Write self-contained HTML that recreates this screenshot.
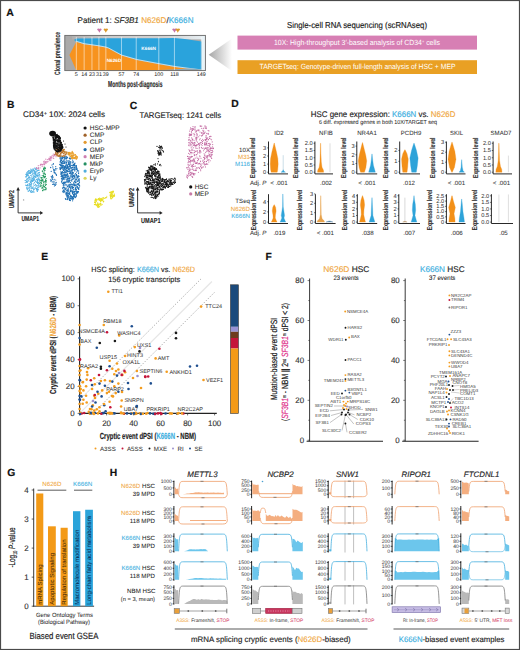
<!DOCTYPE html>
<html><head><meta charset="utf-8"><style>
html,body{margin:0;padding:0;background:#fff;}
svg{display:block;font-family:"Liberation Sans",sans-serif;text-rendering:geometricPrecision;}
</style></head><body>
<svg width="520" height="650" viewBox="0 0 520 650">
<rect x="0" y="0" width="520" height="650" fill="#fff"/>
<text x="6.3" y="15.8" font-size="10.5" fill="#111" font-weight="bold" stroke="#111" stroke-width="0.180">A</text>
<text x="77.5" y="22.8" font-size="8.25" fill="#231f20" textLength="116" lengthAdjust="spacingAndGlyphs" stroke="#231f20" stroke-width="0.146">Patient 1: <tspan font-style="italic">SF3B1</tspan> <tspan fill="#f0a63c" stroke="#f0a63c" stroke-width="0.146">N626D</tspan>/<tspan fill="#3aaee0" stroke="#3aaee0" stroke-width="0.146">K666N</tspan></text>
<path d="M97.4,29.099999999999998 L101.4,29.099999999999998 L99.4,32.7 Z" fill="#c774a8" stroke="none" stroke-width="0.7"/>
<circle cx="98.40" cy="29.50" r="1.1" fill="#c774a8"/>
<circle cx="100.40" cy="29.50" r="1.1" fill="#c774a8"/>
<path d="M103.8,29.099999999999998 L107.8,29.099999999999998 L105.8,32.7 Z" fill="#dc9a2a" stroke="none" stroke-width="0.7"/>
<circle cx="104.80" cy="29.50" r="1.1" fill="#dc9a2a"/>
<circle cx="106.80" cy="29.50" r="1.1" fill="#dc9a2a"/>
<path d="M172.5,29.099999999999998 L176.5,29.099999999999998 L174.5,32.7 Z" fill="#c774a8" stroke="none" stroke-width="0.7"/>
<circle cx="173.50" cy="29.50" r="1.1" fill="#c774a8"/>
<circle cx="175.50" cy="29.50" r="1.1" fill="#c774a8"/>
<path d="M175.8,29.099999999999998 L179.8,29.099999999999998 L177.8,32.7 Z" fill="#dc9a2a" stroke="none" stroke-width="0.7"/>
<circle cx="176.80" cy="29.50" r="1.1" fill="#dc9a2a"/>
<circle cx="178.80" cy="29.50" r="1.1" fill="#dc9a2a"/>
<rect x="64.8" y="35.4" width="140.60000000000002" height="35.199999999999996" fill="#a9a9a9"/>
<rect x="201.5" y="35.4" width="3.9000000000000057" height="35.199999999999996" fill="#e9f3f7"/>
<defs><linearGradient id="topg" x1="0" x2="1" y1="0" y2="0"><stop offset="0" stop-color="#b0b0b0"/><stop offset="0.3" stop-color="#cccccc"/><stop offset="0.7" stop-color="#d0d0d0"/><stop offset="1" stop-color="#e6eef2"/></linearGradient></defs>
<rect x="72" y="35.4" width="130" height="4" fill="url(#topg)"/>
<path d="M74.5,39.5 L76.34,38.4 L105.852,38.3 L158.8,38.3 L174.42399999999998,38.0 L184.84,39.0 L201.6,41.5 L201.6,70.6 L201.6,70.4 L190.0,69.0 L175.0,67.0 L159.2,64.2 L136.8,60.0 L121.6,55.6 L108.7,48.6 L105.9,47.6 L98.9,46.3 L92.0,45.3 L84.2,44.2 L76.3,41.8 L74.5,40.5 Z" fill="#2aa3dc" stroke="none" stroke-width="0.7"/>
<path d="M69.4,55.0 L76.3,41.8 L84.2,44.2 L92.0,45.3 L98.9,46.3 L105.9,47.6 L108.7,48.6 L121.6,55.6 L136.8,60.0 L159.2,64.2 L175.0,67.0 L190.0,69.0 L201.6,70.4 L76.34,70.5 Z" fill="#f7931e" stroke="none" stroke-width="0.7"/>
<path d="M76.3,41.3 L84.2,43.7 L92.0,44.8 L98.9,45.8 L105.9,47.1 L108.7,48.1 L121.6,55.1 L136.8,59.5 L159.2,63.7 L175.0,66.5 L190.0,68.5 L201.6,69.9" fill="none" stroke="#e8eef0" stroke-width="0.8"/>
<path d="M150,70.6 L190,68.6 L201.6,69.5 L201.6,70.6 Z" fill="#8fa6b2" stroke="none" stroke-width="0.7"/>
<line x1="76.34" y1="36.9" x2="76.34" y2="70.6" stroke="#ffffff" stroke-width="0.7" stroke-opacity="0.75"/>
<line x1="84.152" y1="36.9" x2="84.152" y2="70.6" stroke="#ffffff" stroke-width="0.7" stroke-opacity="0.75"/>
<line x1="91.964" y1="36.9" x2="91.964" y2="70.6" stroke="#ffffff" stroke-width="0.7" stroke-opacity="0.75"/>
<line x1="98.908" y1="36.9" x2="98.908" y2="70.6" stroke="#ffffff" stroke-width="0.7" stroke-opacity="0.75"/>
<line x1="105.852" y1="36.9" x2="105.852" y2="70.6" stroke="#ffffff" stroke-width="0.7" stroke-opacity="0.75"/>
<line x1="121.476" y1="36.9" x2="121.476" y2="70.6" stroke="#ffffff" stroke-width="0.7" stroke-opacity="0.75"/>
<line x1="136.232" y1="36.9" x2="136.232" y2="70.6" stroke="#ffffff" stroke-width="0.7" stroke-opacity="0.75"/>
<line x1="158.8" y1="36.9" x2="158.8" y2="70.6" stroke="#ffffff" stroke-width="0.7" stroke-opacity="0.75"/>
<line x1="174.42399999999998" y1="36.9" x2="174.42399999999998" y2="70.6" stroke="#ffffff" stroke-width="0.7" stroke-opacity="0.75"/>
<line x1="201.332" y1="36.9" x2="201.332" y2="70.6" stroke="#ffffff" stroke-width="0.7" stroke-opacity="0.75"/>
<rect x="64.8" y="35.4" width="140.60000000000002" height="35.199999999999996" fill="none" stroke="#6a6a6a" stroke-width="0.9"/>
<text x="148.7" y="50.4" font-size="4.73" fill="#fff" text-anchor="middle" font-weight="bold">K666N</text>
<text x="114" y="62.0" font-size="4.73" fill="#fff" text-anchor="middle" font-weight="bold">N626D</text>
<text x="59.9" y="53.4" font-size="7.70" fill="#2a2a2a" text-anchor="middle" font-weight="bold" textLength="43" lengthAdjust="spacingAndGlyphs" transform="rotate(-90 59.9 53.4)" stroke="#2a2a2a" stroke-width="0.121">Clonal prevalence</text>
<text x="76.34" y="76.0" font-size="5.39" fill="#222" text-anchor="middle" stroke="#222" stroke-width="0.018">5</text>
<text x="84.152" y="76.0" font-size="5.39" fill="#222" text-anchor="middle" stroke="#222" stroke-width="0.018">14</text>
<text x="91.964" y="76.0" font-size="5.39" fill="#222" text-anchor="middle" stroke="#222" stroke-width="0.018">23</text>
<text x="98.908" y="76.0" font-size="5.39" fill="#222" text-anchor="middle" stroke="#222" stroke-width="0.018">31</text>
<text x="105.852" y="76.0" font-size="5.39" fill="#222" text-anchor="middle" stroke="#222" stroke-width="0.018">39</text>
<text x="121.476" y="76.0" font-size="5.39" fill="#222" text-anchor="middle" stroke="#222" stroke-width="0.018">57</text>
<text x="136.232" y="76.0" font-size="5.39" fill="#222" text-anchor="middle" stroke="#222" stroke-width="0.018">74</text>
<text x="158.8" y="76.0" font-size="5.39" fill="#222" text-anchor="middle" stroke="#222" stroke-width="0.018">100</text>
<text x="174.42399999999998" y="76.0" font-size="5.39" fill="#222" text-anchor="middle" stroke="#222" stroke-width="0.018">118</text>
<text x="201.332" y="76.0" font-size="5.39" fill="#222" text-anchor="middle" stroke="#222" stroke-width="0.018">149</text>
<text x="108.0" y="87.4" font-size="8.58" fill="#2a2a2a" font-weight="bold" textLength="54.5" lengthAdjust="spacingAndGlyphs" stroke="#2a2a2a" stroke-width="0.161">Months post-diagnosis</text>
<defs><linearGradient id="trig" x1="0" x2="1" y1="0" y2="0"><stop offset="0" stop-color="#a6a6a6"/><stop offset="1" stop-color="#ffffff"/></linearGradient></defs>
<path d="M208.7,54.8 L232,38.5 L232,71 Z" fill="url(#trig)" stroke="none" stroke-width="0.7"/>
<rect x="237.5" y="35.6" width="239.5" height="14" fill="#d77fb4"/>
<rect x="237.5" y="60.2" width="239.5" height="13.8" fill="#e9a024"/>
<text x="357" y="27.6" font-size="8.58" fill="#222" text-anchor="middle" textLength="140" lengthAdjust="spacingAndGlyphs" stroke="#222" stroke-width="0.161">Single-cell RNA sequencing (scRNAseq)</text>
<text x="357" y="45.3" font-size="7.48" fill="#fff" text-anchor="middle" textLength="166" lengthAdjust="spacingAndGlyphs">10X: High-throughput 3′-based analysis of CD34<tspan font-size="4.40" dy="-2">+</tspan><tspan dy="2"> cells</tspan></text>
<text x="357.5" y="69.3" font-size="7.48" fill="#fff" text-anchor="middle" textLength="196" lengthAdjust="spacingAndGlyphs">TARGETseq: Genotype-driven full-length analysis of HSC + MEP</text>
<text x="6.9" y="107.7" font-size="10.3" fill="#111" font-weight="bold" stroke="#111" stroke-width="0.180">B</text>
<text x="23" y="117.4" font-size="8.14" fill="#222" textLength="82" lengthAdjust="spacingAndGlyphs" stroke="#222" stroke-width="0.141">CD34<tspan font-size="4.95" dy="-2.5">+</tspan><tspan dy="2.5"> 10X: 2024 cells</tspan></text>
<circle cx="85.10" cy="128.00" r="1.6" fill="#111"/>
<text x="89.8" y="130.1" font-size="6.49" fill="#2a2a2a" stroke="#2a2a2a" stroke-width="0.067">HSC-MPP</text>
<circle cx="85.10" cy="135.18" r="1.6" fill="#a0622a"/>
<text x="89.8" y="137.28" font-size="6.49" fill="#2a2a2a" stroke="#2a2a2a" stroke-width="0.067">CMP</text>
<circle cx="85.10" cy="142.36" r="1.6" fill="#e39a2e"/>
<text x="89.8" y="144.46" font-size="6.49" fill="#2a2a2a" stroke="#2a2a2a" stroke-width="0.067">CLP</text>
<circle cx="85.10" cy="149.54" r="1.6" fill="#1f6aa8"/>
<text x="89.8" y="151.64" font-size="6.49" fill="#2a2a2a" stroke="#2a2a2a" stroke-width="0.067">GMP</text>
<circle cx="85.10" cy="156.72" r="1.6" fill="#cf80b2"/>
<text x="89.8" y="158.82" font-size="6.49" fill="#2a2a2a" stroke="#2a2a2a" stroke-width="0.067">MEP</text>
<circle cx="85.10" cy="163.90" r="1.6" fill="#249062"/>
<text x="89.8" y="166.0" font-size="6.49" fill="#2a2a2a" stroke="#2a2a2a" stroke-width="0.067">MkP</text>
<circle cx="85.10" cy="171.08" r="1.6" fill="#52aedc"/>
<text x="89.8" y="173.17999999999998" font-size="6.49" fill="#2a2a2a" stroke="#2a2a2a" stroke-width="0.067">EryP</text>
<circle cx="85.10" cy="178.26" r="1.6" fill="#ddd65a"/>
<text x="89.8" y="180.35999999999999" font-size="6.49" fill="#2a2a2a" stroke="#2a2a2a" stroke-width="0.067">Ly</text>
<g fill="#1f70b4" fill-opacity="1.0"><circle cx="66.1" cy="162.9" r="0.65"/><circle cx="70.5" cy="172.6" r="0.65"/><circle cx="60.9" cy="160.1" r="0.65"/><circle cx="68.2" cy="193.6" r="0.65"/><circle cx="62.0" cy="166.2" r="0.65"/><circle cx="72.4" cy="199.1" r="0.65"/><circle cx="71.3" cy="174.0" r="0.65"/><circle cx="77.1" cy="169.2" r="0.65"/><circle cx="62.5" cy="161.4" r="0.65"/><circle cx="65.8" cy="193.1" r="0.65"/><circle cx="63.2" cy="182.5" r="0.65"/><circle cx="72.6" cy="172.9" r="0.65"/><circle cx="70.7" cy="158.9" r="0.65"/><circle cx="60.7" cy="165.4" r="0.65"/><circle cx="73.4" cy="175.5" r="0.65"/><circle cx="65.9" cy="182.6" r="0.65"/><circle cx="68.8" cy="169.6" r="0.65"/><circle cx="75.8" cy="187.8" r="0.65"/><circle cx="64.5" cy="182.1" r="0.65"/><circle cx="70.3" cy="195.8" r="0.65"/><circle cx="74.5" cy="169.1" r="0.65"/><circle cx="68.1" cy="190.4" r="0.65"/><circle cx="62.6" cy="178.2" r="0.65"/><circle cx="75.2" cy="182.1" r="0.65"/><circle cx="77.4" cy="170.3" r="0.65"/><circle cx="73.8" cy="183.0" r="0.65"/><circle cx="71.4" cy="176.8" r="0.65"/><circle cx="69.2" cy="186.2" r="0.65"/><circle cx="76.3" cy="168.9" r="0.65"/><circle cx="67.4" cy="186.4" r="0.65"/><circle cx="62.9" cy="161.3" r="0.65"/><circle cx="62.2" cy="167.3" r="0.65"/><circle cx="67.5" cy="195.6" r="0.65"/><circle cx="61.2" cy="176.4" r="0.65"/><circle cx="70.8" cy="196.2" r="0.65"/><circle cx="76.3" cy="195.3" r="0.65"/><circle cx="65.2" cy="174.9" r="0.65"/><circle cx="66.9" cy="196.2" r="0.65"/><circle cx="63.1" cy="166.6" r="0.65"/><circle cx="64.3" cy="178.1" r="0.65"/><circle cx="71.6" cy="168.0" r="0.65"/><circle cx="67.1" cy="181.8" r="0.65"/><circle cx="79.0" cy="187.4" r="0.65"/><circle cx="70.1" cy="184.1" r="0.65"/><circle cx="77.9" cy="191.5" r="0.65"/><circle cx="77.4" cy="192.3" r="0.65"/><circle cx="67.5" cy="174.2" r="0.65"/><circle cx="60.8" cy="159.1" r="0.65"/><circle cx="63.8" cy="163.4" r="0.65"/><circle cx="66.5" cy="158.4" r="0.65"/><circle cx="61.6" cy="172.5" r="0.65"/><circle cx="72.1" cy="162.8" r="0.65"/><circle cx="64.7" cy="171.8" r="0.65"/><circle cx="67.0" cy="161.6" r="0.65"/><circle cx="69.1" cy="178.0" r="0.65"/><circle cx="61.3" cy="160.6" r="0.65"/><circle cx="66.5" cy="168.0" r="0.65"/><circle cx="70.3" cy="162.7" r="0.65"/><circle cx="70.3" cy="200.5" r="0.65"/><circle cx="77.2" cy="187.7" r="0.65"/><circle cx="64.9" cy="172.7" r="0.65"/><circle cx="62.9" cy="191.1" r="0.65"/><circle cx="70.4" cy="191.4" r="0.65"/><circle cx="66.3" cy="166.1" r="0.65"/><circle cx="77.0" cy="192.7" r="0.65"/><circle cx="76.3" cy="189.7" r="0.65"/><circle cx="64.1" cy="179.6" r="0.65"/><circle cx="66.8" cy="157.3" r="0.65"/><circle cx="60.1" cy="168.7" r="0.65"/><circle cx="64.8" cy="187.5" r="0.65"/><circle cx="79.1" cy="176.3" r="0.65"/><circle cx="64.0" cy="166.3" r="0.65"/><circle cx="63.5" cy="165.3" r="0.65"/><circle cx="72.3" cy="197.0" r="0.65"/><circle cx="76.7" cy="177.8" r="0.65"/><circle cx="72.9" cy="192.4" r="0.65"/><circle cx="78.2" cy="191.6" r="0.65"/><circle cx="74.9" cy="177.8" r="0.65"/><circle cx="63.2" cy="191.9" r="0.65"/><circle cx="66.3" cy="192.4" r="0.65"/><circle cx="67.7" cy="199.1" r="0.65"/><circle cx="74.4" cy="163.7" r="0.65"/><circle cx="62.1" cy="162.9" r="0.65"/><circle cx="79.6" cy="185.9" r="0.65"/><circle cx="66.7" cy="181.0" r="0.65"/><circle cx="62.2" cy="156.6" r="0.65"/><circle cx="79.4" cy="185.6" r="0.65"/><circle cx="70.3" cy="198.5" r="0.65"/><circle cx="68.4" cy="195.7" r="0.65"/><circle cx="76.4" cy="165.6" r="0.65"/><circle cx="64.7" cy="169.3" r="0.65"/><circle cx="64.4" cy="182.7" r="0.65"/><circle cx="64.8" cy="175.1" r="0.65"/><circle cx="66.8" cy="176.8" r="0.65"/><circle cx="71.5" cy="197.1" r="0.65"/><circle cx="68.1" cy="197.8" r="0.65"/><circle cx="69.8" cy="180.2" r="0.65"/><circle cx="68.5" cy="164.3" r="0.65"/><circle cx="63.0" cy="177.5" r="0.65"/><circle cx="74.4" cy="181.3" r="0.65"/><circle cx="66.2" cy="179.6" r="0.65"/><circle cx="70.9" cy="191.7" r="0.65"/><circle cx="61.7" cy="181.5" r="0.65"/><circle cx="64.6" cy="168.6" r="0.65"/><circle cx="75.3" cy="179.1" r="0.65"/><circle cx="71.0" cy="190.6" r="0.65"/><circle cx="78.2" cy="176.2" r="0.65"/><circle cx="72.1" cy="179.0" r="0.65"/><circle cx="70.0" cy="187.5" r="0.65"/><circle cx="68.8" cy="180.3" r="0.65"/><circle cx="69.3" cy="198.8" r="0.65"/><circle cx="73.8" cy="195.9" r="0.65"/><circle cx="71.0" cy="198.9" r="0.65"/><circle cx="62.0" cy="176.1" r="0.65"/><circle cx="61.0" cy="166.9" r="0.65"/><circle cx="75.6" cy="196.8" r="0.65"/><circle cx="62.7" cy="188.6" r="0.65"/><circle cx="73.0" cy="162.5" r="0.65"/><circle cx="67.7" cy="178.2" r="0.65"/><circle cx="62.8" cy="175.6" r="0.65"/><circle cx="70.1" cy="171.4" r="0.65"/><circle cx="63.5" cy="170.5" r="0.65"/><circle cx="70.9" cy="176.0" r="0.65"/><circle cx="72.3" cy="179.3" r="0.65"/><circle cx="61.6" cy="168.1" r="0.65"/><circle cx="65.0" cy="161.9" r="0.65"/><circle cx="68.2" cy="197.5" r="0.65"/><circle cx="76.3" cy="167.8" r="0.65"/><circle cx="71.2" cy="187.9" r="0.65"/><circle cx="61.3" cy="158.6" r="0.65"/><circle cx="73.6" cy="175.4" r="0.65"/><circle cx="72.5" cy="192.5" r="0.65"/><circle cx="68.8" cy="171.4" r="0.65"/><circle cx="70.8" cy="198.2" r="0.65"/><circle cx="65.0" cy="161.9" r="0.65"/><circle cx="70.3" cy="166.8" r="0.65"/><circle cx="61.7" cy="163.3" r="0.65"/><circle cx="60.5" cy="165.2" r="0.65"/><circle cx="65.9" cy="169.9" r="0.65"/><circle cx="75.1" cy="169.2" r="0.65"/><circle cx="69.8" cy="164.1" r="0.65"/><circle cx="66.6" cy="156.8" r="0.65"/><circle cx="64.6" cy="156.7" r="0.65"/><circle cx="74.5" cy="181.1" r="0.65"/><circle cx="63.4" cy="177.6" r="0.65"/><circle cx="76.3" cy="175.7" r="0.65"/><circle cx="69.6" cy="194.0" r="0.65"/><circle cx="67.6" cy="179.1" r="0.65"/><circle cx="66.5" cy="193.9" r="0.65"/><circle cx="74.0" cy="184.9" r="0.65"/><circle cx="67.8" cy="171.8" r="0.65"/><circle cx="60.6" cy="161.9" r="0.65"/><circle cx="64.7" cy="163.4" r="0.65"/><circle cx="77.3" cy="186.5" r="0.65"/><circle cx="65.3" cy="167.0" r="0.65"/><circle cx="65.5" cy="176.9" r="0.65"/><circle cx="62.7" cy="176.3" r="0.65"/><circle cx="79.4" cy="180.9" r="0.65"/><circle cx="65.8" cy="172.2" r="0.65"/><circle cx="69.2" cy="178.9" r="0.65"/><circle cx="63.6" cy="179.0" r="0.65"/><circle cx="61.3" cy="174.2" r="0.65"/><circle cx="60.4" cy="157.0" r="0.65"/><circle cx="65.7" cy="166.6" r="0.65"/><circle cx="71.5" cy="180.1" r="0.65"/><circle cx="74.9" cy="185.9" r="0.65"/><circle cx="74.2" cy="196.0" r="0.65"/><circle cx="67.5" cy="170.8" r="0.65"/><circle cx="74.3" cy="185.3" r="0.65"/><circle cx="77.8" cy="184.5" r="0.65"/><circle cx="74.5" cy="193.0" r="0.65"/><circle cx="62.4" cy="179.8" r="0.65"/><circle cx="69.8" cy="194.0" r="0.65"/><circle cx="76.0" cy="193.6" r="0.65"/><circle cx="71.5" cy="196.6" r="0.65"/><circle cx="73.5" cy="187.5" r="0.65"/><circle cx="64.2" cy="157.4" r="0.65"/><circle cx="62.2" cy="172.4" r="0.65"/><circle cx="70.9" cy="184.6" r="0.65"/><circle cx="72.3" cy="187.0" r="0.65"/><circle cx="75.9" cy="190.0" r="0.65"/><circle cx="69.8" cy="180.4" r="0.65"/><circle cx="74.6" cy="167.5" r="0.65"/><circle cx="61.0" cy="168.1" r="0.65"/><circle cx="74.5" cy="165.3" r="0.65"/><circle cx="69.6" cy="173.4" r="0.65"/><circle cx="69.3" cy="187.1" r="0.65"/><circle cx="75.2" cy="184.1" r="0.65"/><circle cx="62.5" cy="167.6" r="0.65"/><circle cx="74.7" cy="169.9" r="0.65"/><circle cx="60.7" cy="168.2" r="0.65"/><circle cx="73.3" cy="187.5" r="0.65"/><circle cx="73.4" cy="169.2" r="0.65"/><circle cx="70.1" cy="177.1" r="0.65"/><circle cx="69.1" cy="161.4" r="0.65"/><circle cx="68.7" cy="168.2" r="0.65"/><circle cx="63.8" cy="182.5" r="0.65"/><circle cx="62.4" cy="179.8" r="0.65"/><circle cx="76.3" cy="179.1" r="0.65"/><circle cx="77.7" cy="188.0" r="0.65"/><circle cx="68.7" cy="169.7" r="0.65"/><circle cx="62.4" cy="171.7" r="0.65"/><circle cx="66.0" cy="194.2" r="0.65"/><circle cx="78.5" cy="188.4" r="0.65"/><circle cx="67.1" cy="173.9" r="0.65"/><circle cx="66.9" cy="175.5" r="0.65"/><circle cx="65.1" cy="158.2" r="0.65"/><circle cx="65.4" cy="198.6" r="0.65"/><circle cx="64.6" cy="168.1" r="0.65"/><circle cx="70.0" cy="164.6" r="0.65"/><circle cx="67.2" cy="199.5" r="0.65"/><circle cx="77.6" cy="192.9" r="0.65"/><circle cx="72.4" cy="197.6" r="0.65"/><circle cx="78.8" cy="181.0" r="0.65"/><circle cx="74.5" cy="176.5" r="0.65"/><circle cx="74.9" cy="185.3" r="0.65"/><circle cx="65.4" cy="158.2" r="0.65"/><circle cx="69.2" cy="171.6" r="0.65"/><circle cx="65.6" cy="189.6" r="0.65"/><circle cx="72.9" cy="169.7" r="0.65"/><circle cx="70.9" cy="173.9" r="0.65"/><circle cx="62.9" cy="163.4" r="0.65"/><circle cx="69.7" cy="166.0" r="0.65"/><circle cx="68.7" cy="162.4" r="0.65"/><circle cx="63.4" cy="160.1" r="0.65"/><circle cx="66.5" cy="160.1" r="0.65"/><circle cx="64.4" cy="167.8" r="0.65"/><circle cx="71.2" cy="196.4" r="0.65"/><circle cx="74.9" cy="174.8" r="0.65"/><circle cx="68.0" cy="179.8" r="0.65"/><circle cx="67.2" cy="171.4" r="0.65"/><circle cx="60.8" cy="168.6" r="0.65"/><circle cx="69.8" cy="184.6" r="0.65"/><circle cx="65.1" cy="167.3" r="0.65"/><circle cx="67.7" cy="176.3" r="0.65"/><circle cx="77.9" cy="177.5" r="0.65"/><circle cx="67.5" cy="198.2" r="0.65"/><circle cx="76.4" cy="194.9" r="0.65"/><circle cx="61.7" cy="163.0" r="0.65"/><circle cx="70.2" cy="187.0" r="0.65"/><circle cx="78.8" cy="188.8" r="0.65"/><circle cx="72.8" cy="190.8" r="0.65"/><circle cx="68.9" cy="181.1" r="0.65"/><circle cx="72.7" cy="169.8" r="0.65"/><circle cx="62.1" cy="167.5" r="0.65"/><circle cx="72.5" cy="187.8" r="0.65"/><circle cx="61.8" cy="159.2" r="0.65"/><circle cx="70.3" cy="182.5" r="0.65"/><circle cx="67.5" cy="166.2" r="0.65"/><circle cx="65.7" cy="177.0" r="0.65"/><circle cx="79.2" cy="185.3" r="0.65"/><circle cx="77.6" cy="177.6" r="0.65"/><circle cx="64.3" cy="167.2" r="0.65"/><circle cx="65.8" cy="157.0" r="0.65"/><circle cx="69.7" cy="186.7" r="0.65"/><circle cx="68.1" cy="167.7" r="0.65"/><circle cx="73.2" cy="198.1" r="0.65"/><circle cx="64.1" cy="157.6" r="0.65"/><circle cx="66.4" cy="175.1" r="0.65"/><circle cx="73.5" cy="165.0" r="0.65"/><circle cx="75.8" cy="189.6" r="0.65"/><circle cx="69.9" cy="165.3" r="0.65"/><circle cx="76.3" cy="166.5" r="0.65"/><circle cx="64.0" cy="190.6" r="0.65"/><circle cx="69.7" cy="164.5" r="0.65"/><circle cx="64.1" cy="175.0" r="0.65"/><circle cx="73.1" cy="199.2" r="0.65"/><circle cx="62.5" cy="173.9" r="0.65"/><circle cx="62.4" cy="158.4" r="0.65"/><circle cx="60.7" cy="173.9" r="0.65"/><circle cx="78.6" cy="171.0" r="0.65"/><circle cx="73.1" cy="173.2" r="0.65"/><circle cx="67.2" cy="171.1" r="0.65"/><circle cx="65.2" cy="172.0" r="0.65"/><circle cx="66.8" cy="193.4" r="0.65"/><circle cx="76.4" cy="175.7" r="0.65"/><circle cx="67.1" cy="197.8" r="0.65"/><circle cx="63.5" cy="172.6" r="0.65"/><circle cx="67.9" cy="192.9" r="0.65"/><circle cx="60.2" cy="158.8" r="0.65"/><circle cx="74.8" cy="196.9" r="0.65"/><circle cx="66.5" cy="168.4" r="0.65"/><circle cx="79.1" cy="184.1" r="0.65"/><circle cx="64.9" cy="188.6" r="0.65"/><circle cx="66.0" cy="168.5" r="0.65"/><circle cx="78.3" cy="184.8" r="0.65"/><circle cx="64.3" cy="177.6" r="0.65"/><circle cx="67.4" cy="167.4" r="0.65"/><circle cx="68.3" cy="178.5" r="0.65"/><circle cx="76.0" cy="189.6" r="0.65"/><circle cx="76.4" cy="191.2" r="0.65"/><circle cx="71.9" cy="170.9" r="0.65"/><circle cx="66.1" cy="172.5" r="0.65"/><circle cx="63.5" cy="190.3" r="0.65"/><circle cx="64.6" cy="158.9" r="0.65"/><circle cx="64.9" cy="159.8" r="0.65"/><circle cx="61.5" cy="178.7" r="0.65"/><circle cx="74.1" cy="176.3" r="0.65"/><circle cx="64.3" cy="175.0" r="0.65"/><circle cx="72.2" cy="186.7" r="0.65"/><circle cx="74.8" cy="194.5" r="0.65"/><circle cx="73.1" cy="161.5" r="0.65"/><circle cx="76.7" cy="169.4" r="0.65"/><circle cx="71.1" cy="173.0" r="0.65"/><circle cx="74.6" cy="165.1" r="0.65"/><circle cx="64.6" cy="167.2" r="0.65"/><circle cx="71.4" cy="170.8" r="0.65"/><circle cx="69.9" cy="166.5" r="0.65"/><circle cx="76.1" cy="185.7" r="0.65"/><circle cx="69.2" cy="193.3" r="0.65"/><circle cx="60.3" cy="169.4" r="0.65"/><circle cx="61.9" cy="164.6" r="0.65"/><circle cx="79.4" cy="182.5" r="0.65"/><circle cx="78.6" cy="172.9" r="0.65"/><circle cx="77.3" cy="176.4" r="0.65"/><circle cx="64.8" cy="191.4" r="0.65"/><circle cx="71.7" cy="184.2" r="0.65"/><circle cx="64.0" cy="172.8" r="0.65"/><circle cx="62.4" cy="165.3" r="0.65"/><circle cx="64.7" cy="183.3" r="0.65"/><circle cx="72.9" cy="165.3" r="0.65"/><circle cx="73.4" cy="164.4" r="0.65"/><circle cx="65.9" cy="165.3" r="0.65"/><circle cx="75.8" cy="180.9" r="0.65"/><circle cx="60.8" cy="160.6" r="0.65"/><circle cx="67.6" cy="181.0" r="0.65"/><circle cx="72.6" cy="160.1" r="0.65"/><circle cx="62.9" cy="187.6" r="0.65"/><circle cx="67.9" cy="168.9" r="0.65"/><circle cx="65.8" cy="199.4" r="0.65"/><circle cx="65.9" cy="181.8" r="0.65"/><circle cx="66.8" cy="174.9" r="0.65"/><circle cx="67.0" cy="165.0" r="0.65"/><circle cx="74.4" cy="165.3" r="0.65"/><circle cx="68.2" cy="193.3" r="0.65"/><circle cx="67.8" cy="196.2" r="0.65"/><circle cx="68.9" cy="163.4" r="0.65"/><circle cx="72.6" cy="197.4" r="0.65"/><circle cx="67.1" cy="179.0" r="0.65"/><circle cx="62.5" cy="168.9" r="0.65"/><circle cx="70.2" cy="198.1" r="0.65"/><circle cx="61.7" cy="178.3" r="0.65"/><circle cx="63.5" cy="161.8" r="0.65"/><circle cx="69.4" cy="158.4" r="0.65"/><circle cx="78.5" cy="173.6" r="0.65"/><circle cx="78.0" cy="184.2" r="0.65"/><circle cx="75.6" cy="166.1" r="0.65"/><circle cx="67.8" cy="194.5" r="0.65"/><circle cx="64.0" cy="174.2" r="0.65"/><circle cx="70.1" cy="173.5" r="0.65"/><circle cx="62.0" cy="167.2" r="0.65"/><circle cx="74.4" cy="196.8" r="0.65"/><circle cx="71.8" cy="181.0" r="0.65"/><circle cx="72.4" cy="169.9" r="0.65"/><circle cx="68.1" cy="182.5" r="0.65"/><circle cx="68.2" cy="186.0" r="0.65"/><circle cx="68.7" cy="175.9" r="0.65"/><circle cx="69.5" cy="166.7" r="0.65"/><circle cx="75.2" cy="191.5" r="0.65"/><circle cx="68.9" cy="164.2" r="0.65"/><circle cx="69.2" cy="160.9" r="0.65"/><circle cx="62.1" cy="175.6" r="0.65"/><circle cx="61.4" cy="176.1" r="0.65"/><circle cx="70.0" cy="157.9" r="0.65"/><circle cx="74.5" cy="191.4" r="0.65"/><circle cx="70.0" cy="158.5" r="0.65"/><circle cx="69.8" cy="173.2" r="0.65"/><circle cx="74.5" cy="193.1" r="0.65"/><circle cx="69.6" cy="199.5" r="0.65"/><circle cx="60.8" cy="172.0" r="0.65"/><circle cx="75.0" cy="163.2" r="0.65"/><circle cx="69.8" cy="197.9" r="0.65"/><circle cx="63.8" cy="168.0" r="0.65"/><circle cx="69.9" cy="170.5" r="0.65"/><circle cx="60.3" cy="164.3" r="0.65"/><circle cx="73.4" cy="196.7" r="0.65"/><circle cx="63.0" cy="191.7" r="0.65"/><circle cx="61.9" cy="180.1" r="0.65"/><circle cx="72.5" cy="172.4" r="0.65"/><circle cx="77.4" cy="181.3" r="0.65"/><circle cx="71.4" cy="196.2" r="0.65"/><circle cx="72.4" cy="173.9" r="0.65"/><circle cx="75.9" cy="168.0" r="0.65"/><circle cx="66.9" cy="190.8" r="0.65"/><circle cx="68.6" cy="164.0" r="0.65"/><circle cx="76.3" cy="167.5" r="0.65"/><circle cx="72.6" cy="200.8" r="0.65"/><circle cx="71.5" cy="186.2" r="0.65"/><circle cx="65.9" cy="156.1" r="0.65"/><circle cx="60.2" cy="162.8" r="0.65"/><circle cx="72.1" cy="175.7" r="0.65"/><circle cx="70.0" cy="196.7" r="0.65"/><circle cx="62.2" cy="166.3" r="0.65"/><circle cx="61.7" cy="172.3" r="0.65"/><circle cx="64.1" cy="182.6" r="0.65"/><circle cx="71.6" cy="165.3" r="0.65"/><circle cx="72.3" cy="177.6" r="0.65"/><circle cx="64.5" cy="162.8" r="0.65"/><circle cx="77.4" cy="191.6" r="0.65"/><circle cx="67.7" cy="168.0" r="0.65"/><circle cx="71.0" cy="171.9" r="0.65"/><circle cx="72.7" cy="176.2" r="0.65"/><circle cx="78.7" cy="189.4" r="0.65"/><circle cx="67.8" cy="166.8" r="0.65"/><circle cx="63.6" cy="183.7" r="0.65"/><circle cx="69.9" cy="185.2" r="0.65"/><circle cx="65.8" cy="169.7" r="0.65"/><circle cx="75.6" cy="188.6" r="0.65"/><circle cx="74.8" cy="177.2" r="0.65"/><circle cx="74.7" cy="176.6" r="0.65"/><circle cx="64.1" cy="160.8" r="0.65"/><circle cx="64.3" cy="157.8" r="0.65"/><circle cx="66.4" cy="190.1" r="0.65"/><circle cx="73.7" cy="194.5" r="0.65"/><circle cx="74.1" cy="168.1" r="0.65"/><circle cx="70.9" cy="175.8" r="0.65"/><circle cx="75.7" cy="179.8" r="0.65"/><circle cx="64.9" cy="185.2" r="0.65"/><circle cx="64.8" cy="166.7" r="0.65"/><circle cx="74.8" cy="170.9" r="0.65"/><circle cx="77.5" cy="170.9" r="0.65"/><circle cx="72.4" cy="187.5" r="0.65"/><circle cx="69.1" cy="194.2" r="0.65"/><circle cx="73.8" cy="195.0" r="0.65"/><circle cx="68.5" cy="189.0" r="0.65"/><circle cx="71.2" cy="170.0" r="0.65"/><circle cx="63.8" cy="184.3" r="0.65"/><circle cx="62.5" cy="157.2" r="0.65"/><circle cx="66.6" cy="162.5" r="0.65"/><circle cx="60.1" cy="157.9" r="0.65"/><circle cx="73.7" cy="184.8" r="0.65"/><circle cx="73.8" cy="189.5" r="0.65"/><circle cx="66.9" cy="193.2" r="0.65"/><circle cx="76.3" cy="196.6" r="0.65"/><circle cx="61.7" cy="165.4" r="0.65"/><circle cx="61.8" cy="157.6" r="0.65"/><circle cx="76.9" cy="192.9" r="0.65"/><circle cx="72.5" cy="193.5" r="0.65"/><circle cx="72.4" cy="169.1" r="0.65"/><circle cx="61.5" cy="160.5" r="0.65"/><circle cx="75.0" cy="165.3" r="0.65"/><circle cx="66.0" cy="175.3" r="0.65"/><circle cx="59.9" cy="167.7" r="0.65"/><circle cx="65.3" cy="188.6" r="0.65"/><circle cx="67.0" cy="170.6" r="0.65"/><circle cx="79.3" cy="178.9" r="0.65"/><circle cx="77.0" cy="184.1" r="0.65"/><circle cx="68.4" cy="191.2" r="0.65"/><circle cx="66.6" cy="188.1" r="0.65"/><circle cx="70.5" cy="165.9" r="0.65"/><circle cx="69.6" cy="192.3" r="0.65"/><circle cx="63.3" cy="178.5" r="0.65"/><circle cx="66.6" cy="193.8" r="0.65"/><circle cx="65.3" cy="165.8" r="0.65"/><circle cx="73.8" cy="178.7" r="0.65"/><circle cx="73.8" cy="191.8" r="0.65"/><circle cx="72.4" cy="172.2" r="0.65"/><circle cx="67.7" cy="174.0" r="0.65"/><circle cx="63.7" cy="168.0" r="0.65"/><circle cx="78.0" cy="178.8" r="0.65"/><circle cx="67.3" cy="196.2" r="0.65"/><circle cx="64.3" cy="177.0" r="0.65"/><circle cx="70.4" cy="190.3" r="0.65"/><circle cx="74.9" cy="185.4" r="0.65"/><circle cx="66.6" cy="170.9" r="0.65"/><circle cx="73.1" cy="189.8" r="0.65"/><circle cx="63.0" cy="176.0" r="0.65"/><circle cx="75.4" cy="182.4" r="0.65"/><circle cx="62.1" cy="177.0" r="0.65"/><circle cx="63.4" cy="169.7" r="0.65"/><circle cx="73.9" cy="194.4" r="0.65"/><circle cx="62.7" cy="163.1" r="0.65"/><circle cx="64.6" cy="170.9" r="0.65"/><circle cx="70.2" cy="163.3" r="0.65"/><circle cx="66.2" cy="164.6" r="0.65"/><circle cx="61.6" cy="173.5" r="0.65"/><circle cx="74.5" cy="175.8" r="0.65"/><circle cx="63.5" cy="185.0" r="0.65"/><circle cx="61.7" cy="165.4" r="0.65"/><circle cx="67.5" cy="157.5" r="0.65"/><circle cx="67.7" cy="192.0" r="0.65"/><circle cx="73.7" cy="178.8" r="0.65"/><circle cx="72.5" cy="177.1" r="0.65"/><circle cx="62.4" cy="183.5" r="0.65"/><circle cx="67.8" cy="189.7" r="0.65"/><circle cx="78.1" cy="175.6" r="0.65"/><circle cx="71.3" cy="190.1" r="0.65"/><circle cx="68.1" cy="166.4" r="0.65"/><circle cx="74.3" cy="196.0" r="0.65"/><circle cx="75.4" cy="187.9" r="0.65"/><circle cx="77.0" cy="186.9" r="0.65"/><circle cx="72.7" cy="176.7" r="0.65"/><circle cx="65.9" cy="184.6" r="0.65"/><circle cx="61.5" cy="175.1" r="0.65"/><circle cx="75.5" cy="188.4" r="0.65"/><circle cx="72.4" cy="167.4" r="0.65"/><circle cx="68.2" cy="176.7" r="0.65"/><circle cx="72.2" cy="174.6" r="0.65"/><circle cx="73.3" cy="198.3" r="0.65"/><circle cx="63.3" cy="185.8" r="0.65"/><circle cx="75.5" cy="173.7" r="0.65"/><circle cx="69.5" cy="200.3" r="0.65"/><circle cx="78.8" cy="179.6" r="0.65"/><circle cx="61.6" cy="182.1" r="0.65"/><circle cx="70.6" cy="188.6" r="0.65"/><circle cx="70.0" cy="185.1" r="0.65"/><circle cx="76.5" cy="179.7" r="0.65"/><circle cx="67.9" cy="199.1" r="0.65"/><circle cx="63.8" cy="187.1" r="0.65"/><circle cx="67.5" cy="190.7" r="0.65"/><circle cx="66.8" cy="158.6" r="0.65"/><circle cx="65.1" cy="174.2" r="0.65"/><circle cx="68.1" cy="187.8" r="0.65"/><circle cx="66.7" cy="168.1" r="0.65"/><circle cx="64.1" cy="189.7" r="0.65"/><circle cx="78.8" cy="180.0" r="0.65"/><circle cx="64.0" cy="192.5" r="0.65"/><circle cx="67.5" cy="165.6" r="0.65"/><circle cx="76.1" cy="184.9" r="0.65"/><circle cx="69.1" cy="181.6" r="0.65"/><circle cx="66.7" cy="185.1" r="0.65"/><circle cx="76.3" cy="193.1" r="0.65"/><circle cx="69.1" cy="169.4" r="0.65"/><circle cx="70.7" cy="161.7" r="0.65"/><circle cx="76.6" cy="172.1" r="0.65"/><circle cx="76.9" cy="168.2" r="0.65"/><circle cx="67.2" cy="167.5" r="0.65"/><circle cx="68.2" cy="164.5" r="0.65"/><circle cx="65.3" cy="167.1" r="0.65"/><circle cx="65.7" cy="177.8" r="0.65"/><circle cx="68.3" cy="185.0" r="0.65"/><circle cx="73.0" cy="172.5" r="0.65"/><circle cx="78.1" cy="191.7" r="0.65"/><circle cx="72.9" cy="167.4" r="0.65"/><circle cx="61.6" cy="162.5" r="0.65"/><circle cx="64.3" cy="191.3" r="0.65"/><circle cx="66.6" cy="162.9" r="0.65"/><circle cx="78.0" cy="192.0" r="0.65"/><circle cx="72.0" cy="191.5" r="0.65"/><circle cx="73.2" cy="196.7" r="0.65"/><circle cx="75.7" cy="194.2" r="0.65"/><circle cx="63.5" cy="187.5" r="0.65"/><circle cx="70.4" cy="189.8" r="0.65"/><circle cx="68.5" cy="196.2" r="0.65"/><circle cx="70.9" cy="168.0" r="0.65"/><circle cx="64.3" cy="162.3" r="0.65"/><circle cx="69.6" cy="158.7" r="0.65"/><circle cx="69.1" cy="162.6" r="0.65"/><circle cx="69.6" cy="178.7" r="0.65"/><circle cx="70.6" cy="195.3" r="0.65"/><circle cx="69.1" cy="181.6" r="0.65"/><circle cx="73.1" cy="194.2" r="0.65"/><circle cx="67.2" cy="175.1" r="0.65"/><circle cx="72.6" cy="184.9" r="0.65"/><circle cx="73.5" cy="198.4" r="0.65"/><circle cx="70.0" cy="178.1" r="0.65"/><circle cx="74.2" cy="184.5" r="0.65"/><circle cx="66.4" cy="195.2" r="0.65"/><circle cx="67.0" cy="177.6" r="0.65"/><circle cx="70.3" cy="191.1" r="0.65"/><circle cx="63.8" cy="175.8" r="0.65"/><circle cx="68.2" cy="181.2" r="0.65"/><circle cx="76.4" cy="169.3" r="0.65"/><circle cx="76.5" cy="174.4" r="0.65"/><circle cx="69.8" cy="168.4" r="0.65"/><circle cx="69.9" cy="200.4" r="0.65"/><circle cx="72.9" cy="192.0" r="0.65"/><circle cx="66.3" cy="170.4" r="0.65"/><circle cx="65.6" cy="182.7" r="0.65"/><circle cx="72.5" cy="191.7" r="0.65"/><circle cx="77.7" cy="180.8" r="0.65"/><circle cx="60.5" cy="169.7" r="0.65"/><circle cx="59.6" cy="164.6" r="0.65"/><circle cx="78.4" cy="183.7" r="0.65"/><circle cx="73.0" cy="191.9" r="0.65"/><circle cx="78.2" cy="183.8" r="0.65"/><circle cx="72.1" cy="184.5" r="0.65"/><circle cx="73.8" cy="183.1" r="0.65"/><circle cx="73.5" cy="165.7" r="0.65"/><circle cx="73.2" cy="176.8" r="0.65"/><circle cx="63.2" cy="157.7" r="0.65"/><circle cx="75.4" cy="197.6" r="0.65"/><circle cx="72.9" cy="172.8" r="0.65"/><circle cx="76.4" cy="191.8" r="0.65"/><circle cx="71.0" cy="167.7" r="0.65"/><circle cx="65.7" cy="175.2" r="0.65"/><circle cx="66.0" cy="175.6" r="0.65"/><circle cx="72.7" cy="198.5" r="0.65"/><circle cx="60.3" cy="161.4" r="0.65"/><circle cx="76.1" cy="182.2" r="0.65"/><circle cx="78.3" cy="176.3" r="0.65"/><circle cx="71.6" cy="198.7" r="0.65"/><circle cx="68.0" cy="160.6" r="0.65"/><circle cx="72.7" cy="165.7" r="0.65"/><circle cx="62.6" cy="156.7" r="0.65"/><circle cx="62.1" cy="156.8" r="0.65"/><circle cx="74.2" cy="167.0" r="0.65"/><circle cx="74.5" cy="164.5" r="0.65"/><circle cx="74.1" cy="194.9" r="0.65"/><circle cx="72.4" cy="188.3" r="0.65"/></g>
<g fill="#1f70b4" fill-opacity="1.0"><circle cx="51.6" cy="180.5" r="0.6"/><circle cx="53.1" cy="164.4" r="0.6"/><circle cx="52.1" cy="176.8" r="0.6"/><circle cx="52.7" cy="179.2" r="0.6"/><circle cx="52.1" cy="178.5" r="0.6"/><circle cx="54.4" cy="173.0" r="0.6"/><circle cx="52.3" cy="181.9" r="0.6"/><circle cx="53.8" cy="170.0" r="0.6"/><circle cx="55.0" cy="182.9" r="0.6"/><circle cx="51.8" cy="177.5" r="0.6"/><circle cx="54.1" cy="170.4" r="0.6"/><circle cx="52.6" cy="184.3" r="0.6"/><circle cx="52.2" cy="179.4" r="0.6"/><circle cx="54.1" cy="184.5" r="0.6"/><circle cx="55.9" cy="169.8" r="0.6"/><circle cx="52.6" cy="177.1" r="0.6"/><circle cx="55.9" cy="184.3" r="0.6"/><circle cx="55.9" cy="183.8" r="0.6"/><circle cx="53.9" cy="169.6" r="0.6"/><circle cx="56.2" cy="182.4" r="0.6"/><circle cx="54.8" cy="184.9" r="0.6"/><circle cx="51.9" cy="165.0" r="0.6"/><circle cx="53.7" cy="182.1" r="0.6"/><circle cx="50.7" cy="181.0" r="0.6"/><circle cx="56.9" cy="168.6" r="0.6"/><circle cx="54.2" cy="179.3" r="0.6"/><circle cx="53.0" cy="168.0" r="0.6"/><circle cx="51.2" cy="181.0" r="0.6"/><circle cx="55.7" cy="174.0" r="0.6"/><circle cx="55.6" cy="168.6" r="0.6"/><circle cx="53.9" cy="184.5" r="0.6"/><circle cx="56.5" cy="175.5" r="0.6"/><circle cx="53.1" cy="177.1" r="0.6"/><circle cx="50.6" cy="167.6" r="0.6"/><circle cx="50.5" cy="179.8" r="0.6"/><circle cx="52.1" cy="176.5" r="0.6"/><circle cx="52.4" cy="175.4" r="0.6"/><circle cx="55.7" cy="166.7" r="0.6"/><circle cx="54.1" cy="171.3" r="0.6"/><circle cx="53.4" cy="163.5" r="0.6"/><circle cx="56.4" cy="174.7" r="0.6"/><circle cx="53.8" cy="169.3" r="0.6"/><circle cx="55.6" cy="173.2" r="0.6"/><circle cx="50.7" cy="167.3" r="0.6"/><circle cx="53.7" cy="183.9" r="0.6"/><circle cx="54.1" cy="172.5" r="0.6"/><circle cx="51.2" cy="176.5" r="0.6"/><circle cx="54.4" cy="186.0" r="0.6"/><circle cx="54.7" cy="172.4" r="0.6"/><circle cx="52.8" cy="166.8" r="0.6"/><circle cx="51.2" cy="171.4" r="0.6"/><circle cx="55.7" cy="180.0" r="0.6"/><circle cx="55.4" cy="185.5" r="0.6"/><circle cx="54.8" cy="170.2" r="0.6"/><circle cx="54.0" cy="181.2" r="0.6"/></g>
<g fill="#56b2e2" fill-opacity="1.0"><circle cx="26.6" cy="175.4" r="0.62"/><circle cx="32.2" cy="171.4" r="0.62"/><circle cx="28.6" cy="170.7" r="0.62"/><circle cx="35.8" cy="172.1" r="0.62"/><circle cx="28.3" cy="191.3" r="0.62"/><circle cx="38.0" cy="190.1" r="0.62"/><circle cx="27.1" cy="178.6" r="0.62"/><circle cx="37.6" cy="183.3" r="0.62"/><circle cx="31.8" cy="175.8" r="0.62"/><circle cx="37.3" cy="179.4" r="0.62"/><circle cx="34.4" cy="170.7" r="0.62"/><circle cx="35.7" cy="181.4" r="0.62"/><circle cx="27.2" cy="189.6" r="0.62"/><circle cx="29.0" cy="177.7" r="0.62"/><circle cx="27.3" cy="174.0" r="0.62"/><circle cx="37.6" cy="175.7" r="0.62"/><circle cx="27.5" cy="179.8" r="0.62"/><circle cx="29.8" cy="190.5" r="0.62"/><circle cx="35.0" cy="172.5" r="0.62"/><circle cx="32.2" cy="174.4" r="0.62"/><circle cx="28.9" cy="172.2" r="0.62"/><circle cx="26.5" cy="174.5" r="0.62"/><circle cx="38.4" cy="168.5" r="0.62"/><circle cx="35.9" cy="174.6" r="0.62"/><circle cx="37.1" cy="175.9" r="0.62"/><circle cx="37.5" cy="180.7" r="0.62"/><circle cx="27.8" cy="178.3" r="0.62"/><circle cx="38.7" cy="172.7" r="0.62"/><circle cx="33.6" cy="170.6" r="0.62"/><circle cx="27.7" cy="187.0" r="0.62"/><circle cx="35.7" cy="172.1" r="0.62"/><circle cx="34.1" cy="179.9" r="0.62"/><circle cx="29.1" cy="172.4" r="0.62"/><circle cx="34.2" cy="185.4" r="0.62"/><circle cx="37.2" cy="182.2" r="0.62"/><circle cx="36.0" cy="177.6" r="0.62"/><circle cx="35.8" cy="168.4" r="0.62"/><circle cx="37.2" cy="175.7" r="0.62"/><circle cx="37.6" cy="189.5" r="0.62"/><circle cx="38.7" cy="179.4" r="0.62"/><circle cx="38.1" cy="173.9" r="0.62"/><circle cx="27.8" cy="188.6" r="0.62"/><circle cx="30.5" cy="171.3" r="0.62"/><circle cx="30.6" cy="182.5" r="0.62"/><circle cx="25.1" cy="180.5" r="0.62"/><circle cx="31.7" cy="180.4" r="0.62"/><circle cx="26.8" cy="185.6" r="0.62"/><circle cx="37.2" cy="189.5" r="0.62"/><circle cx="29.8" cy="185.5" r="0.62"/><circle cx="30.7" cy="186.5" r="0.62"/><circle cx="39.3" cy="179.9" r="0.62"/><circle cx="32.7" cy="180.8" r="0.62"/><circle cx="39.5" cy="172.8" r="0.62"/><circle cx="28.8" cy="188.2" r="0.62"/><circle cx="35.5" cy="172.1" r="0.62"/><circle cx="25.3" cy="182.6" r="0.62"/><circle cx="33.6" cy="180.6" r="0.62"/><circle cx="35.5" cy="169.7" r="0.62"/><circle cx="38.0" cy="185.6" r="0.62"/><circle cx="32.4" cy="180.0" r="0.62"/><circle cx="31.1" cy="170.6" r="0.62"/><circle cx="33.9" cy="189.4" r="0.62"/><circle cx="27.2" cy="181.9" r="0.62"/><circle cx="36.2" cy="171.3" r="0.62"/><circle cx="37.4" cy="191.4" r="0.62"/><circle cx="30.8" cy="177.9" r="0.62"/><circle cx="37.6" cy="180.7" r="0.62"/><circle cx="30.9" cy="191.5" r="0.62"/><circle cx="36.7" cy="175.8" r="0.62"/><circle cx="28.6" cy="175.7" r="0.62"/><circle cx="31.5" cy="192.5" r="0.62"/><circle cx="37.1" cy="190.7" r="0.62"/><circle cx="37.2" cy="189.0" r="0.62"/><circle cx="25.8" cy="180.5" r="0.62"/><circle cx="28.7" cy="178.0" r="0.62"/><circle cx="34.5" cy="176.5" r="0.62"/><circle cx="33.0" cy="168.8" r="0.62"/><circle cx="31.5" cy="180.1" r="0.62"/><circle cx="39.1" cy="183.5" r="0.62"/><circle cx="37.1" cy="190.0" r="0.62"/><circle cx="38.3" cy="167.9" r="0.62"/><circle cx="34.6" cy="173.9" r="0.62"/><circle cx="35.2" cy="174.1" r="0.62"/><circle cx="33.1" cy="191.0" r="0.62"/><circle cx="34.3" cy="173.5" r="0.62"/><circle cx="32.8" cy="178.3" r="0.62"/><circle cx="39.3" cy="174.5" r="0.62"/><circle cx="29.6" cy="183.8" r="0.62"/><circle cx="26.8" cy="182.5" r="0.62"/><circle cx="39.3" cy="180.4" r="0.62"/><circle cx="29.0" cy="179.1" r="0.62"/><circle cx="33.0" cy="170.9" r="0.62"/><circle cx="29.4" cy="177.6" r="0.62"/><circle cx="29.3" cy="173.3" r="0.62"/><circle cx="26.3" cy="181.2" r="0.62"/><circle cx="37.6" cy="182.9" r="0.62"/><circle cx="33.6" cy="183.9" r="0.62"/><circle cx="28.0" cy="185.5" r="0.62"/><circle cx="31.9" cy="181.2" r="0.62"/><circle cx="34.2" cy="179.2" r="0.62"/><circle cx="29.7" cy="173.3" r="0.62"/><circle cx="28.3" cy="180.3" r="0.62"/><circle cx="30.7" cy="182.2" r="0.62"/><circle cx="37.9" cy="173.2" r="0.62"/><circle cx="33.3" cy="179.8" r="0.62"/><circle cx="29.4" cy="187.1" r="0.62"/><circle cx="38.1" cy="178.4" r="0.62"/><circle cx="25.9" cy="177.1" r="0.62"/><circle cx="31.6" cy="186.1" r="0.62"/><circle cx="26.6" cy="172.9" r="0.62"/><circle cx="39.4" cy="186.2" r="0.62"/><circle cx="27.3" cy="175.8" r="0.62"/><circle cx="30.3" cy="184.6" r="0.62"/><circle cx="34.2" cy="189.1" r="0.62"/><circle cx="37.3" cy="180.5" r="0.62"/><circle cx="36.1" cy="186.3" r="0.62"/><circle cx="36.4" cy="179.4" r="0.62"/><circle cx="36.8" cy="185.4" r="0.62"/><circle cx="38.7" cy="170.3" r="0.62"/><circle cx="36.5" cy="182.2" r="0.62"/><circle cx="32.5" cy="192.0" r="0.62"/><circle cx="33.6" cy="177.9" r="0.62"/><circle cx="36.8" cy="189.7" r="0.62"/><circle cx="34.1" cy="176.9" r="0.62"/><circle cx="31.8" cy="178.9" r="0.62"/><circle cx="35.8" cy="174.6" r="0.62"/><circle cx="30.9" cy="181.4" r="0.62"/><circle cx="30.8" cy="175.4" r="0.62"/><circle cx="36.8" cy="189.1" r="0.62"/><circle cx="32.5" cy="178.5" r="0.62"/><circle cx="27.8" cy="174.9" r="0.62"/><circle cx="27.2" cy="182.0" r="0.62"/><circle cx="33.7" cy="169.3" r="0.62"/><circle cx="38.8" cy="175.4" r="0.62"/><circle cx="37.7" cy="188.8" r="0.62"/><circle cx="39.4" cy="172.3" r="0.62"/><circle cx="31.4" cy="190.7" r="0.62"/><circle cx="33.5" cy="179.9" r="0.62"/><circle cx="38.8" cy="187.1" r="0.62"/><circle cx="32.8" cy="180.4" r="0.62"/><circle cx="35.3" cy="177.1" r="0.62"/><circle cx="30.4" cy="182.5" r="0.62"/><circle cx="30.3" cy="191.6" r="0.62"/><circle cx="35.1" cy="180.7" r="0.62"/><circle cx="26.5" cy="176.7" r="0.62"/><circle cx="31.0" cy="181.6" r="0.62"/><circle cx="33.6" cy="189.9" r="0.62"/><circle cx="39.5" cy="179.7" r="0.62"/><circle cx="31.6" cy="183.2" r="0.62"/><circle cx="39.9" cy="175.9" r="0.62"/><circle cx="33.0" cy="188.2" r="0.62"/><circle cx="27.6" cy="175.3" r="0.62"/><circle cx="32.7" cy="169.9" r="0.62"/><circle cx="38.4" cy="184.9" r="0.62"/><circle cx="38.3" cy="177.9" r="0.62"/><circle cx="27.3" cy="174.5" r="0.62"/><circle cx="32.7" cy="180.1" r="0.62"/><circle cx="27.8" cy="171.7" r="0.62"/><circle cx="34.5" cy="182.7" r="0.62"/><circle cx="34.5" cy="168.1" r="0.62"/><circle cx="31.2" cy="187.5" r="0.62"/><circle cx="29.6" cy="185.0" r="0.62"/><circle cx="37.6" cy="182.2" r="0.62"/><circle cx="35.0" cy="172.1" r="0.62"/><circle cx="32.5" cy="181.4" r="0.62"/><circle cx="29.0" cy="183.8" r="0.62"/><circle cx="33.6" cy="177.7" r="0.62"/><circle cx="36.4" cy="169.8" r="0.62"/><circle cx="32.8" cy="188.4" r="0.62"/><circle cx="34.2" cy="188.0" r="0.62"/><circle cx="36.6" cy="175.4" r="0.62"/><circle cx="35.7" cy="176.2" r="0.62"/><circle cx="27.5" cy="173.9" r="0.62"/><circle cx="33.7" cy="176.1" r="0.62"/><circle cx="31.7" cy="177.0" r="0.62"/><circle cx="33.7" cy="191.9" r="0.62"/><circle cx="31.6" cy="183.1" r="0.62"/><circle cx="29.7" cy="190.4" r="0.62"/><circle cx="37.2" cy="174.9" r="0.62"/><circle cx="34.0" cy="192.0" r="0.62"/><circle cx="32.4" cy="191.7" r="0.62"/><circle cx="28.6" cy="177.1" r="0.62"/><circle cx="35.8" cy="172.8" r="0.62"/><circle cx="29.6" cy="189.8" r="0.62"/><circle cx="32.3" cy="187.6" r="0.62"/><circle cx="28.7" cy="171.5" r="0.62"/><circle cx="30.4" cy="171.9" r="0.62"/><circle cx="39.6" cy="174.6" r="0.62"/><circle cx="33.4" cy="170.0" r="0.62"/><circle cx="33.0" cy="177.0" r="0.62"/><circle cx="26.8" cy="188.5" r="0.62"/><circle cx="30.3" cy="173.4" r="0.62"/><circle cx="27.9" cy="174.4" r="0.62"/><circle cx="35.0" cy="175.9" r="0.62"/><circle cx="27.3" cy="185.4" r="0.62"/><circle cx="26.4" cy="174.0" r="0.62"/><circle cx="37.5" cy="170.3" r="0.62"/><circle cx="31.6" cy="188.7" r="0.62"/><circle cx="37.1" cy="171.1" r="0.62"/><circle cx="30.3" cy="185.8" r="0.62"/><circle cx="30.7" cy="191.9" r="0.62"/><circle cx="32.6" cy="172.9" r="0.62"/><circle cx="31.8" cy="170.4" r="0.62"/><circle cx="35.6" cy="173.8" r="0.62"/><circle cx="38.5" cy="182.3" r="0.62"/><circle cx="30.5" cy="173.4" r="0.62"/><circle cx="34.1" cy="172.5" r="0.62"/><circle cx="38.1" cy="170.2" r="0.62"/><circle cx="32.7" cy="181.1" r="0.62"/><circle cx="29.1" cy="187.1" r="0.62"/><circle cx="30.8" cy="184.1" r="0.62"/><circle cx="33.5" cy="175.1" r="0.62"/><circle cx="30.8" cy="169.2" r="0.62"/><circle cx="27.7" cy="189.1" r="0.62"/><circle cx="29.8" cy="184.2" r="0.62"/><circle cx="26.6" cy="181.6" r="0.62"/><circle cx="30.4" cy="180.0" r="0.62"/><circle cx="29.7" cy="172.9" r="0.62"/><circle cx="26.9" cy="185.6" r="0.62"/><circle cx="29.2" cy="177.5" r="0.62"/><circle cx="38.6" cy="187.1" r="0.62"/><circle cx="38.2" cy="189.4" r="0.62"/><circle cx="27.0" cy="174.2" r="0.62"/><circle cx="35.0" cy="176.1" r="0.62"/><circle cx="31.2" cy="184.1" r="0.62"/><circle cx="35.5" cy="173.5" r="0.62"/><circle cx="37.7" cy="176.2" r="0.62"/><circle cx="34.4" cy="171.7" r="0.62"/><circle cx="36.0" cy="185.5" r="0.62"/><circle cx="27.4" cy="172.2" r="0.62"/><circle cx="29.5" cy="176.9" r="0.62"/><circle cx="34.6" cy="171.7" r="0.62"/><circle cx="37.6" cy="181.8" r="0.62"/><circle cx="35.7" cy="173.6" r="0.62"/><circle cx="31.5" cy="184.8" r="0.62"/><circle cx="37.5" cy="187.2" r="0.62"/><circle cx="37.8" cy="182.8" r="0.62"/><circle cx="26.7" cy="187.6" r="0.62"/><circle cx="28.2" cy="190.8" r="0.62"/><circle cx="36.2" cy="169.2" r="0.62"/><circle cx="35.4" cy="177.2" r="0.62"/><circle cx="36.2" cy="188.5" r="0.62"/><circle cx="39.2" cy="178.0" r="0.62"/><circle cx="39.0" cy="185.0" r="0.62"/><circle cx="36.1" cy="188.6" r="0.62"/><circle cx="34.4" cy="178.8" r="0.62"/><circle cx="25.8" cy="185.2" r="0.62"/><circle cx="31.4" cy="180.3" r="0.62"/><circle cx="38.9" cy="170.3" r="0.62"/><circle cx="36.4" cy="168.1" r="0.62"/><circle cx="35.5" cy="187.9" r="0.62"/><circle cx="28.9" cy="181.2" r="0.62"/><circle cx="39.5" cy="183.6" r="0.62"/><circle cx="33.2" cy="173.5" r="0.62"/><circle cx="25.9" cy="176.3" r="0.62"/><circle cx="31.2" cy="172.2" r="0.62"/><circle cx="29.7" cy="170.6" r="0.62"/><circle cx="35.6" cy="184.4" r="0.62"/><circle cx="28.6" cy="173.3" r="0.62"/><circle cx="32.7" cy="178.6" r="0.62"/><circle cx="39.0" cy="176.1" r="0.62"/><circle cx="29.5" cy="190.0" r="0.62"/><circle cx="27.1" cy="181.6" r="0.62"/><circle cx="30.0" cy="188.2" r="0.62"/><circle cx="33.2" cy="186.8" r="0.62"/><circle cx="27.5" cy="184.3" r="0.62"/><circle cx="34.0" cy="179.0" r="0.62"/><circle cx="36.5" cy="188.6" r="0.62"/><circle cx="26.7" cy="174.5" r="0.62"/><circle cx="30.4" cy="172.4" r="0.62"/><circle cx="25.9" cy="174.3" r="0.62"/><circle cx="28.0" cy="185.2" r="0.62"/><circle cx="31.7" cy="169.9" r="0.62"/><circle cx="29.9" cy="179.2" r="0.62"/><circle cx="30.4" cy="171.4" r="0.62"/><circle cx="26.3" cy="185.6" r="0.62"/><circle cx="39.7" cy="181.7" r="0.62"/><circle cx="26.6" cy="179.7" r="0.62"/><circle cx="31.5" cy="171.9" r="0.62"/><circle cx="38.8" cy="183.8" r="0.62"/></g>
<g fill="#239a5e" fill-opacity="1.0"><circle cx="43.9" cy="189.4" r="0.6"/><circle cx="44.1" cy="173.0" r="0.6"/><circle cx="45.4" cy="174.1" r="0.6"/><circle cx="40.8" cy="182.3" r="0.6"/><circle cx="45.4" cy="189.2" r="0.6"/><circle cx="40.7" cy="185.8" r="0.6"/><circle cx="45.3" cy="184.8" r="0.6"/><circle cx="45.3" cy="174.7" r="0.6"/><circle cx="42.1" cy="180.2" r="0.6"/><circle cx="42.1" cy="187.0" r="0.6"/><circle cx="43.5" cy="182.1" r="0.6"/><circle cx="45.2" cy="183.9" r="0.6"/><circle cx="45.8" cy="189.7" r="0.6"/><circle cx="43.0" cy="179.0" r="0.6"/><circle cx="43.6" cy="168.9" r="0.6"/><circle cx="44.3" cy="170.9" r="0.6"/><circle cx="42.6" cy="190.3" r="0.6"/><circle cx="42.6" cy="171.6" r="0.6"/><circle cx="44.6" cy="167.1" r="0.6"/><circle cx="45.4" cy="187.5" r="0.6"/><circle cx="45.0" cy="177.2" r="0.6"/><circle cx="41.5" cy="182.9" r="0.6"/><circle cx="43.1" cy="177.1" r="0.6"/><circle cx="41.9" cy="177.5" r="0.6"/><circle cx="44.2" cy="186.8" r="0.6"/><circle cx="41.6" cy="177.6" r="0.6"/><circle cx="43.4" cy="175.4" r="0.6"/><circle cx="41.8" cy="178.1" r="0.6"/><circle cx="46.3" cy="188.8" r="0.6"/><circle cx="46.2" cy="181.9" r="0.6"/><circle cx="45.2" cy="168.4" r="0.6"/><circle cx="44.2" cy="181.6" r="0.6"/><circle cx="41.6" cy="180.7" r="0.6"/><circle cx="46.2" cy="178.5" r="0.6"/><circle cx="44.0" cy="174.2" r="0.6"/><circle cx="41.9" cy="188.2" r="0.6"/><circle cx="44.3" cy="177.7" r="0.6"/><circle cx="40.1" cy="182.9" r="0.6"/><circle cx="42.1" cy="180.9" r="0.6"/><circle cx="42.4" cy="179.7" r="0.6"/><circle cx="43.5" cy="176.5" r="0.6"/><circle cx="45.7" cy="180.2" r="0.6"/><circle cx="43.2" cy="173.0" r="0.6"/><circle cx="42.9" cy="180.3" r="0.6"/><circle cx="41.1" cy="180.7" r="0.6"/><circle cx="43.6" cy="168.9" r="0.6"/><circle cx="42.6" cy="187.7" r="0.6"/><circle cx="43.4" cy="184.2" r="0.6"/><circle cx="44.8" cy="169.8" r="0.6"/><circle cx="46.4" cy="184.3" r="0.6"/><circle cx="42.2" cy="171.1" r="0.6"/><circle cx="46.2" cy="180.5" r="0.6"/><circle cx="44.9" cy="170.3" r="0.6"/><circle cx="44.9" cy="168.4" r="0.6"/><circle cx="44.5" cy="177.2" r="0.6"/><circle cx="45.7" cy="181.9" r="0.6"/><circle cx="45.6" cy="180.5" r="0.6"/><circle cx="45.9" cy="187.9" r="0.6"/><circle cx="40.7" cy="184.9" r="0.6"/><circle cx="41.9" cy="185.3" r="0.6"/><circle cx="44.3" cy="186.8" r="0.6"/><circle cx="44.7" cy="189.8" r="0.6"/><circle cx="44.6" cy="168.0" r="0.6"/><circle cx="43.7" cy="169.4" r="0.6"/><circle cx="43.3" cy="186.3" r="0.6"/><circle cx="44.2" cy="173.1" r="0.6"/><circle cx="40.9" cy="177.7" r="0.6"/><circle cx="45.4" cy="181.0" r="0.6"/><circle cx="40.8" cy="180.3" r="0.6"/><circle cx="41.5" cy="183.5" r="0.6"/><circle cx="45.6" cy="179.9" r="0.6"/><circle cx="44.3" cy="186.4" r="0.6"/><circle cx="43.0" cy="188.0" r="0.6"/><circle cx="45.1" cy="167.9" r="0.6"/><circle cx="40.8" cy="186.6" r="0.6"/><circle cx="44.3" cy="176.4" r="0.6"/><circle cx="42.8" cy="170.8" r="0.6"/><circle cx="45.4" cy="176.4" r="0.6"/><circle cx="45.6" cy="181.7" r="0.6"/><circle cx="43.6" cy="168.0" r="0.6"/><circle cx="42.8" cy="180.8" r="0.6"/><circle cx="42.2" cy="175.5" r="0.6"/><circle cx="42.7" cy="190.7" r="0.6"/><circle cx="44.2" cy="173.5" r="0.6"/><circle cx="41.4" cy="179.0" r="0.6"/><circle cx="41.3" cy="180.7" r="0.6"/><circle cx="43.2" cy="190.0" r="0.6"/><circle cx="43.4" cy="185.5" r="0.6"/><circle cx="45.6" cy="185.6" r="0.6"/><circle cx="43.9" cy="182.2" r="0.6"/></g>
<g fill="#d585b8"><circle cx="49.3" cy="159.7" r="0.6"/><circle cx="38.3" cy="165.7" r="0.6"/><circle cx="38.4" cy="168.4" r="0.6"/><circle cx="42.0" cy="166.1" r="0.6"/><circle cx="42.8" cy="166.2" r="0.6"/><circle cx="49.4" cy="159.3" r="0.6"/><circle cx="45.7" cy="162.5" r="0.6"/><circle cx="49.5" cy="158.9" r="0.6"/><circle cx="49.2" cy="158.0" r="0.6"/><circle cx="49.1" cy="159.6" r="0.6"/><circle cx="51.3" cy="157.6" r="0.6"/><circle cx="52.9" cy="155.3" r="0.6"/><circle cx="55.4" cy="153.5" r="0.6"/><circle cx="48.0" cy="161.3" r="0.6"/><circle cx="45.3" cy="162.7" r="0.6"/><circle cx="54.4" cy="154.5" r="0.6"/><circle cx="50.6" cy="159.0" r="0.6"/><circle cx="44.6" cy="161.1" r="0.6"/><circle cx="38.9" cy="169.0" r="0.6"/><circle cx="43.7" cy="161.3" r="0.6"/><circle cx="54.1" cy="154.8" r="0.6"/><circle cx="36.5" cy="167.9" r="0.6"/><circle cx="49.1" cy="159.2" r="0.6"/><circle cx="40.1" cy="167.8" r="0.6"/><circle cx="56.0" cy="156.7" r="0.6"/><circle cx="50.6" cy="158.0" r="0.6"/><circle cx="50.7" cy="157.4" r="0.6"/><circle cx="50.9" cy="158.0" r="0.6"/><circle cx="42.5" cy="164.4" r="0.6"/><circle cx="51.6" cy="156.2" r="0.6"/><circle cx="44.0" cy="162.3" r="0.6"/><circle cx="52.9" cy="157.8" r="0.6"/><circle cx="41.2" cy="164.0" r="0.6"/><circle cx="54.7" cy="155.4" r="0.6"/><circle cx="40.2" cy="165.6" r="0.6"/><circle cx="53.8" cy="156.6" r="0.6"/><circle cx="53.7" cy="158.4" r="0.6"/><circle cx="44.1" cy="164.0" r="0.6"/><circle cx="38.3" cy="167.7" r="0.6"/><circle cx="41.2" cy="164.6" r="0.6"/><circle cx="44.4" cy="164.7" r="0.6"/><circle cx="49.1" cy="158.4" r="0.6"/><circle cx="55.1" cy="155.1" r="0.6"/><circle cx="44.0" cy="163.3" r="0.6"/><circle cx="50.5" cy="160.1" r="0.6"/><circle cx="51.1" cy="157.8" r="0.6"/><circle cx="45.8" cy="159.2" r="0.6"/><circle cx="45.2" cy="162.3" r="0.6"/><circle cx="36.4" cy="167.8" r="0.6"/><circle cx="41.9" cy="164.5" r="0.6"/><circle cx="49.4" cy="158.6" r="0.6"/><circle cx="53.1" cy="155.9" r="0.6"/><circle cx="40.5" cy="164.3" r="0.6"/><circle cx="47.4" cy="159.6" r="0.6"/><circle cx="46.4" cy="162.9" r="0.6"/><circle cx="43.9" cy="164.4" r="0.6"/><circle cx="45.1" cy="163.7" r="0.6"/><circle cx="50.2" cy="156.7" r="0.6"/><circle cx="42.4" cy="164.6" r="0.6"/><circle cx="51.2" cy="160.0" r="0.6"/><circle cx="40.6" cy="164.7" r="0.6"/><circle cx="50.8" cy="158.3" r="0.6"/><circle cx="45.7" cy="161.5" r="0.6"/><circle cx="55.9" cy="154.3" r="0.6"/><circle cx="47.6" cy="161.9" r="0.6"/><circle cx="50.0" cy="160.6" r="0.6"/><circle cx="37.1" cy="168.7" r="0.6"/><circle cx="53.3" cy="154.0" r="0.6"/><circle cx="55.3" cy="154.2" r="0.6"/><circle cx="46.3" cy="161.3" r="0.6"/></g>
<g fill="#b8732c" fill-opacity="1.0"><circle cx="61.7" cy="148.8" r="0.65"/><circle cx="56.8" cy="148.8" r="0.65"/><circle cx="63.9" cy="156.2" r="0.65"/><circle cx="64.3" cy="149.4" r="0.65"/><circle cx="66.8" cy="152.0" r="0.65"/><circle cx="62.6" cy="150.4" r="0.65"/><circle cx="64.6" cy="151.6" r="0.65"/><circle cx="58.9" cy="156.0" r="0.65"/><circle cx="56.3" cy="154.3" r="0.65"/><circle cx="55.8" cy="153.5" r="0.65"/><circle cx="59.8" cy="155.6" r="0.65"/><circle cx="55.7" cy="152.6" r="0.65"/><circle cx="59.9" cy="156.2" r="0.65"/><circle cx="66.3" cy="153.3" r="0.65"/><circle cx="57.7" cy="149.5" r="0.65"/><circle cx="58.1" cy="151.3" r="0.65"/><circle cx="57.8" cy="149.0" r="0.65"/><circle cx="64.1" cy="153.4" r="0.65"/><circle cx="57.6" cy="152.7" r="0.65"/><circle cx="56.9" cy="155.6" r="0.65"/><circle cx="64.0" cy="155.2" r="0.65"/><circle cx="58.4" cy="150.3" r="0.65"/><circle cx="60.8" cy="155.9" r="0.65"/><circle cx="56.9" cy="153.8" r="0.65"/><circle cx="62.2" cy="151.5" r="0.65"/><circle cx="62.0" cy="155.8" r="0.65"/><circle cx="57.5" cy="155.8" r="0.65"/><circle cx="59.3" cy="154.8" r="0.65"/><circle cx="56.8" cy="154.4" r="0.65"/><circle cx="56.2" cy="148.7" r="0.65"/><circle cx="59.1" cy="156.2" r="0.65"/><circle cx="63.6" cy="155.8" r="0.65"/><circle cx="57.8" cy="154.9" r="0.65"/><circle cx="61.1" cy="149.3" r="0.65"/><circle cx="60.2" cy="148.0" r="0.65"/><circle cx="58.8" cy="155.8" r="0.65"/><circle cx="56.4" cy="151.9" r="0.65"/><circle cx="56.6" cy="151.3" r="0.65"/><circle cx="57.1" cy="153.9" r="0.65"/><circle cx="56.8" cy="154.4" r="0.65"/><circle cx="61.0" cy="148.1" r="0.65"/><circle cx="59.2" cy="152.0" r="0.65"/><circle cx="65.6" cy="154.3" r="0.65"/><circle cx="58.3" cy="148.8" r="0.65"/><circle cx="55.5" cy="152.1" r="0.65"/><circle cx="59.9" cy="152.6" r="0.65"/><circle cx="63.3" cy="153.5" r="0.65"/><circle cx="61.5" cy="152.5" r="0.65"/><circle cx="65.5" cy="154.2" r="0.65"/><circle cx="59.8" cy="150.2" r="0.65"/><circle cx="60.0" cy="156.7" r="0.65"/><circle cx="59.6" cy="150.9" r="0.65"/><circle cx="59.9" cy="148.4" r="0.65"/><circle cx="62.3" cy="156.3" r="0.65"/><circle cx="58.1" cy="153.1" r="0.65"/><circle cx="59.5" cy="149.4" r="0.65"/><circle cx="65.1" cy="154.8" r="0.65"/><circle cx="63.3" cy="150.2" r="0.65"/><circle cx="62.8" cy="152.5" r="0.65"/><circle cx="55.0" cy="154.5" r="0.65"/><circle cx="65.2" cy="152.1" r="0.65"/><circle cx="57.8" cy="153.3" r="0.65"/><circle cx="63.9" cy="150.8" r="0.65"/><circle cx="63.5" cy="150.9" r="0.65"/><circle cx="61.3" cy="153.1" r="0.65"/><circle cx="63.1" cy="150.2" r="0.65"/><circle cx="62.5" cy="152.4" r="0.65"/><circle cx="57.7" cy="153.1" r="0.65"/><circle cx="58.2" cy="156.1" r="0.65"/><circle cx="60.7" cy="154.2" r="0.65"/><circle cx="61.3" cy="151.8" r="0.65"/><circle cx="57.7" cy="148.4" r="0.65"/><circle cx="66.1" cy="152.3" r="0.65"/><circle cx="61.3" cy="152.3" r="0.65"/><circle cx="57.1" cy="155.2" r="0.65"/><circle cx="60.5" cy="153.4" r="0.65"/><circle cx="64.9" cy="155.9" r="0.65"/><circle cx="59.6" cy="155.3" r="0.65"/><circle cx="56.8" cy="149.5" r="0.65"/><circle cx="56.2" cy="150.6" r="0.65"/><circle cx="64.6" cy="152.2" r="0.65"/><circle cx="60.4" cy="147.9" r="0.65"/><circle cx="63.3" cy="151.5" r="0.65"/><circle cx="60.7" cy="155.0" r="0.65"/><circle cx="63.2" cy="150.7" r="0.65"/><circle cx="61.2" cy="149.4" r="0.65"/><circle cx="59.4" cy="150.4" r="0.65"/><circle cx="57.4" cy="152.7" r="0.65"/><circle cx="63.6" cy="149.7" r="0.65"/><circle cx="58.9" cy="149.4" r="0.65"/></g>
<g fill="#c98a30"><circle cx="68.3" cy="154.1" r="0.55"/><circle cx="68.6" cy="154.0" r="0.55"/><circle cx="64.1" cy="149.8" r="0.55"/><circle cx="66.7" cy="153.0" r="0.55"/><circle cx="64.6" cy="152.2" r="0.55"/><circle cx="64.8" cy="151.7" r="0.55"/><circle cx="67.8" cy="152.7" r="0.55"/><circle cx="66.9" cy="153.3" r="0.55"/><circle cx="68.7" cy="152.8" r="0.55"/><circle cx="66.4" cy="152.8" r="0.55"/><circle cx="69.1" cy="154.3" r="0.55"/><circle cx="66.9" cy="154.5" r="0.55"/><circle cx="65.1" cy="151.2" r="0.55"/><circle cx="62.8" cy="149.8" r="0.55"/><circle cx="68.3" cy="152.4" r="0.55"/></g>
<g fill="#e9a02c" fill-opacity="1.0"><circle cx="73.9" cy="155.2" r="0.65"/><circle cx="72.6" cy="158.6" r="0.65"/><circle cx="72.1" cy="155.3" r="0.65"/><circle cx="72.9" cy="155.6" r="0.65"/><circle cx="76.2" cy="157.0" r="0.65"/><circle cx="75.4" cy="154.6" r="0.65"/><circle cx="73.5" cy="157.9" r="0.65"/><circle cx="74.8" cy="157.4" r="0.65"/><circle cx="74.9" cy="154.8" r="0.65"/><circle cx="76.2" cy="158.8" r="0.65"/><circle cx="69.5" cy="154.0" r="0.65"/><circle cx="70.6" cy="153.8" r="0.65"/><circle cx="73.6" cy="155.6" r="0.65"/><circle cx="72.2" cy="151.5" r="0.65"/><circle cx="76.0" cy="158.7" r="0.65"/><circle cx="70.6" cy="152.8" r="0.65"/><circle cx="71.7" cy="155.2" r="0.65"/><circle cx="72.9" cy="156.3" r="0.65"/><circle cx="71.7" cy="158.2" r="0.65"/><circle cx="71.1" cy="155.8" r="0.65"/><circle cx="72.1" cy="156.1" r="0.65"/><circle cx="71.2" cy="153.5" r="0.65"/><circle cx="75.1" cy="158.2" r="0.65"/><circle cx="73.9" cy="155.1" r="0.65"/><circle cx="72.3" cy="156.8" r="0.65"/><circle cx="73.6" cy="158.2" r="0.65"/><circle cx="73.0" cy="157.1" r="0.65"/><circle cx="77.1" cy="157.2" r="0.65"/><circle cx="70.3" cy="156.2" r="0.65"/><circle cx="71.2" cy="156.0" r="0.65"/><circle cx="72.6" cy="157.6" r="0.65"/><circle cx="72.3" cy="157.1" r="0.65"/><circle cx="73.3" cy="153.6" r="0.65"/><circle cx="71.5" cy="157.8" r="0.65"/><circle cx="76.6" cy="156.4" r="0.65"/><circle cx="69.4" cy="153.4" r="0.65"/><circle cx="76.9" cy="158.6" r="0.65"/><circle cx="77.4" cy="156.9" r="0.65"/><circle cx="68.5" cy="154.0" r="0.65"/><circle cx="72.5" cy="153.2" r="0.65"/><circle cx="75.9" cy="156.4" r="0.65"/><circle cx="73.8" cy="154.2" r="0.65"/><circle cx="71.7" cy="157.0" r="0.65"/><circle cx="69.6" cy="152.5" r="0.65"/><circle cx="76.4" cy="158.9" r="0.65"/><circle cx="72.8" cy="152.3" r="0.65"/><circle cx="69.2" cy="155.5" r="0.65"/><circle cx="72.7" cy="152.5" r="0.65"/><circle cx="73.4" cy="155.6" r="0.65"/><circle cx="71.7" cy="152.8" r="0.65"/><circle cx="72.0" cy="152.8" r="0.65"/><circle cx="69.3" cy="153.2" r="0.65"/><circle cx="75.9" cy="156.1" r="0.65"/><circle cx="71.9" cy="155.7" r="0.65"/><circle cx="70.3" cy="156.4" r="0.65"/><circle cx="75.8" cy="157.4" r="0.65"/><circle cx="68.6" cy="153.2" r="0.65"/><circle cx="74.9" cy="158.3" r="0.65"/><circle cx="71.4" cy="158.3" r="0.65"/><circle cx="72.1" cy="154.7" r="0.65"/><circle cx="68.9" cy="153.2" r="0.65"/><circle cx="75.3" cy="157.1" r="0.65"/><circle cx="69.5" cy="154.1" r="0.65"/><circle cx="69.4" cy="152.8" r="0.65"/><circle cx="70.2" cy="154.0" r="0.65"/><circle cx="75.9" cy="155.3" r="0.65"/><circle cx="73.0" cy="158.0" r="0.65"/><circle cx="77.1" cy="157.8" r="0.65"/><circle cx="74.3" cy="158.6" r="0.65"/><circle cx="74.7" cy="157.7" r="0.65"/></g>
<g fill="#111" fill-opacity="1.0"><circle cx="54.3" cy="148.9" r="0.75"/><circle cx="60.4" cy="149.0" r="0.75"/><circle cx="61.0" cy="144.6" r="0.75"/><circle cx="57.4" cy="148.9" r="0.75"/><circle cx="60.8" cy="149.7" r="0.75"/><circle cx="58.3" cy="151.0" r="0.75"/><circle cx="55.0" cy="142.2" r="0.75"/><circle cx="55.4" cy="142.9" r="0.75"/><circle cx="62.1" cy="146.3" r="0.75"/><circle cx="60.1" cy="141.1" r="0.75"/><circle cx="60.8" cy="148.3" r="0.75"/><circle cx="59.8" cy="151.0" r="0.75"/><circle cx="53.9" cy="145.7" r="0.75"/><circle cx="58.9" cy="149.1" r="0.75"/><circle cx="54.1" cy="148.6" r="0.75"/><circle cx="57.2" cy="144.9" r="0.75"/><circle cx="57.6" cy="140.0" r="0.75"/><circle cx="55.1" cy="140.4" r="0.75"/><circle cx="61.4" cy="145.1" r="0.75"/><circle cx="55.9" cy="135.6" r="0.75"/><circle cx="55.7" cy="146.6" r="0.75"/><circle cx="57.4" cy="145.9" r="0.75"/><circle cx="56.6" cy="138.0" r="0.75"/><circle cx="61.9" cy="145.0" r="0.75"/><circle cx="58.0" cy="151.2" r="0.75"/><circle cx="58.1" cy="151.8" r="0.75"/><circle cx="54.9" cy="149.0" r="0.75"/><circle cx="54.6" cy="143.5" r="0.75"/><circle cx="53.0" cy="137.2" r="0.75"/><circle cx="56.5" cy="135.8" r="0.75"/><circle cx="58.5" cy="149.5" r="0.75"/><circle cx="58.1" cy="140.8" r="0.75"/><circle cx="59.2" cy="142.0" r="0.75"/><circle cx="59.6" cy="145.4" r="0.75"/><circle cx="56.8" cy="143.4" r="0.75"/><circle cx="59.8" cy="150.3" r="0.75"/><circle cx="58.0" cy="140.5" r="0.75"/><circle cx="61.3" cy="146.3" r="0.75"/><circle cx="58.6" cy="142.1" r="0.75"/><circle cx="60.5" cy="150.0" r="0.75"/><circle cx="60.3" cy="147.5" r="0.75"/><circle cx="53.4" cy="139.9" r="0.75"/><circle cx="58.9" cy="144.4" r="0.75"/><circle cx="53.5" cy="141.1" r="0.75"/><circle cx="60.5" cy="145.5" r="0.75"/><circle cx="55.8" cy="147.7" r="0.75"/><circle cx="55.9" cy="143.8" r="0.75"/><circle cx="59.5" cy="148.5" r="0.75"/><circle cx="59.8" cy="140.8" r="0.75"/><circle cx="62.6" cy="146.8" r="0.75"/><circle cx="59.9" cy="139.0" r="0.75"/><circle cx="54.6" cy="144.4" r="0.75"/><circle cx="61.3" cy="148.3" r="0.75"/><circle cx="56.5" cy="136.5" r="0.75"/><circle cx="58.2" cy="149.8" r="0.75"/><circle cx="54.6" cy="147.3" r="0.75"/><circle cx="54.7" cy="139.6" r="0.75"/><circle cx="53.5" cy="139.4" r="0.75"/><circle cx="56.8" cy="151.4" r="0.75"/><circle cx="56.1" cy="151.0" r="0.75"/><circle cx="55.0" cy="139.8" r="0.75"/><circle cx="57.4" cy="136.0" r="0.75"/><circle cx="55.6" cy="141.1" r="0.75"/><circle cx="56.9" cy="151.3" r="0.75"/><circle cx="55.7" cy="137.7" r="0.75"/><circle cx="61.4" cy="145.5" r="0.75"/><circle cx="54.5" cy="147.6" r="0.75"/><circle cx="57.7" cy="144.1" r="0.75"/><circle cx="59.7" cy="147.5" r="0.75"/><circle cx="55.8" cy="140.5" r="0.75"/><circle cx="55.9" cy="145.3" r="0.75"/><circle cx="55.6" cy="147.9" r="0.75"/><circle cx="58.7" cy="140.4" r="0.75"/><circle cx="55.4" cy="135.3" r="0.75"/><circle cx="58.5" cy="147.6" r="0.75"/><circle cx="59.8" cy="141.4" r="0.75"/><circle cx="56.1" cy="145.6" r="0.75"/><circle cx="59.9" cy="147.9" r="0.75"/><circle cx="56.9" cy="150.9" r="0.75"/><circle cx="60.4" cy="140.2" r="0.75"/><circle cx="56.9" cy="148.5" r="0.75"/><circle cx="56.5" cy="137.3" r="0.75"/><circle cx="58.2" cy="146.0" r="0.75"/><circle cx="56.4" cy="135.2" r="0.75"/><circle cx="57.1" cy="143.0" r="0.75"/><circle cx="61.5" cy="146.0" r="0.75"/><circle cx="58.8" cy="141.3" r="0.75"/><circle cx="58.7" cy="138.9" r="0.75"/><circle cx="61.4" cy="148.2" r="0.75"/><circle cx="59.7" cy="147.6" r="0.75"/><circle cx="58.0" cy="150.2" r="0.75"/><circle cx="62.0" cy="147.4" r="0.75"/><circle cx="61.2" cy="145.7" r="0.75"/><circle cx="60.0" cy="146.7" r="0.75"/><circle cx="59.1" cy="139.0" r="0.75"/><circle cx="53.7" cy="144.9" r="0.75"/><circle cx="55.1" cy="138.0" r="0.75"/><circle cx="53.9" cy="146.2" r="0.75"/><circle cx="56.6" cy="146.6" r="0.75"/><circle cx="59.3" cy="136.5" r="0.75"/><circle cx="55.8" cy="135.1" r="0.75"/><circle cx="57.5" cy="144.0" r="0.75"/><circle cx="55.2" cy="145.3" r="0.75"/><circle cx="56.4" cy="140.0" r="0.75"/><circle cx="58.7" cy="137.9" r="0.75"/><circle cx="61.4" cy="148.6" r="0.75"/><circle cx="58.0" cy="141.6" r="0.75"/><circle cx="53.6" cy="145.3" r="0.75"/><circle cx="60.2" cy="144.5" r="0.75"/><circle cx="57.0" cy="143.2" r="0.75"/><circle cx="58.9" cy="138.1" r="0.75"/><circle cx="53.7" cy="142.6" r="0.75"/><circle cx="54.3" cy="142.2" r="0.75"/><circle cx="59.8" cy="146.8" r="0.75"/><circle cx="57.5" cy="140.2" r="0.75"/><circle cx="54.9" cy="141.3" r="0.75"/><circle cx="55.8" cy="137.5" r="0.75"/><circle cx="60.4" cy="143.3" r="0.75"/><circle cx="57.4" cy="137.6" r="0.75"/><circle cx="60.0" cy="137.5" r="0.75"/><circle cx="55.7" cy="144.1" r="0.75"/><circle cx="60.5" cy="151.1" r="0.75"/><circle cx="62.2" cy="147.0" r="0.75"/><circle cx="61.6" cy="147.0" r="0.75"/><circle cx="59.3" cy="138.7" r="0.75"/><circle cx="56.6" cy="136.9" r="0.75"/><circle cx="56.1" cy="134.8" r="0.75"/><circle cx="54.8" cy="140.4" r="0.75"/><circle cx="62.0" cy="148.5" r="0.75"/><circle cx="57.6" cy="135.8" r="0.75"/><circle cx="54.1" cy="136.8" r="0.75"/><circle cx="60.8" cy="142.5" r="0.75"/><circle cx="60.9" cy="142.6" r="0.75"/><circle cx="54.1" cy="144.1" r="0.75"/><circle cx="58.1" cy="137.8" r="0.75"/><circle cx="62.1" cy="146.8" r="0.75"/><circle cx="57.4" cy="147.2" r="0.75"/><circle cx="56.8" cy="148.6" r="0.75"/><circle cx="53.1" cy="137.9" r="0.75"/><circle cx="58.9" cy="140.8" r="0.75"/><circle cx="60.9" cy="142.3" r="0.75"/><circle cx="56.2" cy="145.2" r="0.75"/><circle cx="59.4" cy="137.7" r="0.75"/><circle cx="55.4" cy="150.3" r="0.75"/><circle cx="56.8" cy="135.9" r="0.75"/><circle cx="58.9" cy="136.3" r="0.75"/><circle cx="55.0" cy="142.2" r="0.75"/><circle cx="58.9" cy="145.5" r="0.75"/><circle cx="60.1" cy="141.9" r="0.75"/><circle cx="53.7" cy="147.0" r="0.75"/><circle cx="53.5" cy="142.5" r="0.75"/><circle cx="57.0" cy="146.1" r="0.75"/><circle cx="60.1" cy="138.3" r="0.75"/><circle cx="59.5" cy="146.5" r="0.75"/><circle cx="57.7" cy="136.6" r="0.75"/><circle cx="62.1" cy="144.8" r="0.75"/><circle cx="53.6" cy="138.3" r="0.75"/><circle cx="56.9" cy="148.2" r="0.75"/><circle cx="61.2" cy="145.4" r="0.75"/><circle cx="53.5" cy="138.3" r="0.75"/><circle cx="59.7" cy="150.7" r="0.75"/><circle cx="59.4" cy="150.5" r="0.75"/><circle cx="55.6" cy="136.8" r="0.75"/><circle cx="58.1" cy="135.9" r="0.75"/><circle cx="60.9" cy="150.0" r="0.75"/><circle cx="61.5" cy="144.0" r="0.75"/><circle cx="61.2" cy="143.0" r="0.75"/><circle cx="59.2" cy="144.7" r="0.75"/><circle cx="53.5" cy="143.8" r="0.75"/><circle cx="55.9" cy="141.1" r="0.75"/><circle cx="54.2" cy="145.7" r="0.75"/><circle cx="55.1" cy="141.7" r="0.75"/><circle cx="58.5" cy="140.3" r="0.75"/><circle cx="53.9" cy="147.1" r="0.75"/><circle cx="61.5" cy="149.3" r="0.75"/><circle cx="54.0" cy="140.6" r="0.75"/><circle cx="56.0" cy="147.7" r="0.75"/><circle cx="54.5" cy="144.9" r="0.75"/><circle cx="62.8" cy="147.8" r="0.75"/><circle cx="54.1" cy="146.5" r="0.75"/><circle cx="59.0" cy="143.4" r="0.75"/><circle cx="57.6" cy="141.3" r="0.75"/><circle cx="59.1" cy="145.7" r="0.75"/><circle cx="62.2" cy="147.2" r="0.75"/><circle cx="61.0" cy="150.4" r="0.75"/><circle cx="61.4" cy="146.9" r="0.75"/><circle cx="60.1" cy="138.5" r="0.75"/><circle cx="56.0" cy="140.3" r="0.75"/><circle cx="56.2" cy="135.7" r="0.75"/><circle cx="57.4" cy="151.7" r="0.75"/><circle cx="59.5" cy="150.8" r="0.75"/><circle cx="60.6" cy="149.1" r="0.75"/><circle cx="55.7" cy="138.5" r="0.75"/><circle cx="57.1" cy="134.4" r="0.75"/><circle cx="55.3" cy="150.0" r="0.75"/><circle cx="60.7" cy="147.9" r="0.75"/><circle cx="61.9" cy="148.3" r="0.75"/><circle cx="58.3" cy="135.9" r="0.75"/><circle cx="59.3" cy="140.6" r="0.75"/><circle cx="58.4" cy="151.4" r="0.75"/></g>
<ellipse cx="52.6" cy="133.6" rx="3.4" ry="2.8" fill="#111"/>
<circle cx="63.50" cy="141.00" r="0.55" fill="#111"/>
<circle cx="65.00" cy="144.00" r="0.55" fill="#111"/>
<circle cx="62.00" cy="145.50" r="0.55" fill="#111"/>
<circle cx="66.00" cy="147.00" r="0.55" fill="#111"/>
<g fill="#e8dd22" fill-opacity="1.0"><circle cx="95.6" cy="203.1" r="0.7"/><circle cx="100.5" cy="203.2" r="0.7"/><circle cx="103.4" cy="201.8" r="0.7"/><circle cx="96.1" cy="200.5" r="0.7"/><circle cx="103.1" cy="197.6" r="0.7"/><circle cx="96.6" cy="205.0" r="0.7"/><circle cx="98.4" cy="204.7" r="0.7"/><circle cx="100.9" cy="205.3" r="0.7"/><circle cx="101.5" cy="200.1" r="0.7"/><circle cx="100.9" cy="199.7" r="0.7"/><circle cx="100.4" cy="203.7" r="0.7"/><circle cx="100.6" cy="203.8" r="0.7"/><circle cx="100.9" cy="200.7" r="0.7"/><circle cx="100.9" cy="200.4" r="0.7"/><circle cx="101.7" cy="199.4" r="0.7"/><circle cx="95.0" cy="200.7" r="0.7"/><circle cx="98.1" cy="204.7" r="0.7"/><circle cx="98.4" cy="205.1" r="0.7"/><circle cx="97.4" cy="206.2" r="0.7"/><circle cx="102.0" cy="204.5" r="0.7"/><circle cx="95.6" cy="204.4" r="0.7"/><circle cx="99.9" cy="204.4" r="0.7"/><circle cx="95.8" cy="199.0" r="0.7"/><circle cx="97.8" cy="204.3" r="0.7"/><circle cx="99.7" cy="199.8" r="0.7"/><circle cx="102.5" cy="198.9" r="0.7"/><circle cx="103.6" cy="201.3" r="0.7"/><circle cx="101.2" cy="199.0" r="0.7"/><circle cx="101.9" cy="200.1" r="0.7"/><circle cx="97.7" cy="203.0" r="0.7"/><circle cx="102.0" cy="200.5" r="0.7"/><circle cx="97.8" cy="205.5" r="0.7"/><circle cx="96.2" cy="199.5" r="0.7"/><circle cx="96.2" cy="201.5" r="0.7"/><circle cx="97.7" cy="204.2" r="0.7"/><circle cx="98.7" cy="206.6" r="0.7"/><circle cx="94.5" cy="204.5" r="0.7"/><circle cx="102.4" cy="200.0" r="0.7"/><circle cx="95.2" cy="202.3" r="0.7"/><circle cx="101.1" cy="198.5" r="0.7"/><circle cx="95.2" cy="202.5" r="0.7"/><circle cx="95.7" cy="199.9" r="0.7"/><circle cx="98.4" cy="198.7" r="0.7"/><circle cx="98.7" cy="207.3" r="0.7"/><circle cx="99.5" cy="198.3" r="0.7"/><circle cx="96.2" cy="205.3" r="0.7"/><circle cx="99.6" cy="206.6" r="0.7"/><circle cx="99.2" cy="200.0" r="0.7"/><circle cx="98.6" cy="205.2" r="0.7"/><circle cx="94.7" cy="202.3" r="0.7"/><circle cx="97.2" cy="199.7" r="0.7"/><circle cx="100.6" cy="201.3" r="0.7"/><circle cx="98.8" cy="199.4" r="0.7"/><circle cx="98.7" cy="205.3" r="0.7"/><circle cx="99.4" cy="200.0" r="0.7"/><circle cx="99.0" cy="203.9" r="0.7"/><circle cx="100.5" cy="199.0" r="0.7"/><circle cx="97.7" cy="207.0" r="0.7"/><circle cx="95.8" cy="199.9" r="0.7"/><circle cx="95.4" cy="199.5" r="0.7"/></g>
<g fill="#e8dd22" fill-opacity="1.0"><circle cx="113.6" cy="195.5" r="0.7"/><circle cx="112.1" cy="194.8" r="0.7"/><circle cx="110.7" cy="197.6" r="0.7"/><circle cx="112.0" cy="192.4" r="0.7"/><circle cx="111.7" cy="193.4" r="0.7"/><circle cx="111.6" cy="191.9" r="0.7"/><circle cx="112.8" cy="192.7" r="0.7"/><circle cx="112.0" cy="195.3" r="0.7"/><circle cx="113.4" cy="191.7" r="0.7"/><circle cx="110.3" cy="194.9" r="0.7"/><circle cx="109.8" cy="192.5" r="0.7"/><circle cx="110.4" cy="195.5" r="0.7"/><circle cx="112.0" cy="194.0" r="0.7"/><circle cx="114.4" cy="196.1" r="0.7"/><circle cx="111.0" cy="198.5" r="0.7"/><circle cx="111.1" cy="198.7" r="0.7"/><circle cx="114.3" cy="194.1" r="0.7"/><circle cx="112.4" cy="197.7" r="0.7"/><circle cx="113.9" cy="196.1" r="0.7"/><circle cx="112.3" cy="191.5" r="0.7"/><circle cx="110.8" cy="196.1" r="0.7"/><circle cx="112.7" cy="197.3" r="0.7"/><circle cx="114.4" cy="195.3" r="0.7"/><circle cx="110.5" cy="196.4" r="0.7"/><circle cx="110.9" cy="192.5" r="0.7"/><circle cx="111.5" cy="195.0" r="0.7"/><circle cx="113.2" cy="191.1" r="0.7"/><circle cx="113.6" cy="195.8" r="0.7"/><circle cx="112.1" cy="196.2" r="0.7"/><circle cx="112.1" cy="196.3" r="0.7"/><circle cx="113.4" cy="196.0" r="0.7"/><circle cx="110.6" cy="194.0" r="0.7"/><circle cx="110.8" cy="196.7" r="0.7"/><circle cx="111.5" cy="196.1" r="0.7"/><circle cx="110.7" cy="192.3" r="0.7"/></g>
<g fill="#e8dd22"><circle cx="105.0" cy="198.2" r="0.5"/><circle cx="103.4" cy="199.1" r="0.5"/><circle cx="106.1" cy="197.6" r="0.5"/><circle cx="103.1" cy="198.0" r="0.5"/><circle cx="106.8" cy="196.3" r="0.5"/><circle cx="105.4" cy="197.5" r="0.5"/><circle cx="104.0" cy="197.9" r="0.5"/><circle cx="106.7" cy="197.6" r="0.5"/><circle cx="104.2" cy="198.4" r="0.5"/><circle cx="105.9" cy="198.1" r="0.5"/></g>
<circle cx="23.60" cy="199.90" r="0.7" fill="#999"/>
<line x1="18.1" y1="212.9" x2="18.1" y2="189.9" stroke="#222" stroke-width="0.9"/>
<path d="M16.3,190.4 L18.1,186.9 L19.900000000000002,190.4 Z" fill="#222" stroke="none" stroke-width="0.7"/>
<line x1="18.1" y1="212.9" x2="40.6" y2="212.9" stroke="#222" stroke-width="0.9"/>
<path d="M40.1,211.1 L43.1,212.9 L40.1,214.70000000000002 Z" fill="#222" stroke="none" stroke-width="0.7"/>
<text x="13.9" y="199.2" font-size="7.26" fill="#222" text-anchor="middle" font-weight="bold" textLength="18" lengthAdjust="spacingAndGlyphs" transform="rotate(-90 13.9 199.2)" stroke="#222" stroke-width="0.102">UMAP2</text>
<text x="21.4" y="221.4" font-size="7.26" fill="#222" font-weight="bold" textLength="17.8" lengthAdjust="spacingAndGlyphs" stroke="#222" stroke-width="0.102">UMAP1</text>
<text x="129.8" y="108.7" font-size="10.3" fill="#111" font-weight="bold" stroke="#111" stroke-width="0.180">C</text>
<text x="139.5" y="117.5" font-size="8.14" fill="#222" textLength="81.5" lengthAdjust="spacingAndGlyphs" stroke="#222" stroke-width="0.141">TARGETseq: 1241 cells</text>
<g fill="#c0649e" fill-opacity="1.0"><circle cx="209.0" cy="159.5" r="0.55"/><circle cx="203.5" cy="162.9" r="0.55"/><circle cx="207.1" cy="141.4" r="0.55"/><circle cx="193.0" cy="169.0" r="0.55"/><circle cx="210.1" cy="156.7" r="0.55"/><circle cx="200.7" cy="164.0" r="0.55"/><circle cx="193.5" cy="129.2" r="0.55"/><circle cx="192.3" cy="139.6" r="0.55"/><circle cx="190.1" cy="143.3" r="0.55"/><circle cx="200.4" cy="142.5" r="0.55"/><circle cx="197.5" cy="150.9" r="0.55"/><circle cx="193.1" cy="128.4" r="0.55"/><circle cx="188.5" cy="158.6" r="0.55"/><circle cx="205.2" cy="139.4" r="0.55"/><circle cx="207.8" cy="164.1" r="0.55"/><circle cx="195.4" cy="151.6" r="0.55"/><circle cx="191.2" cy="174.7" r="0.55"/><circle cx="201.4" cy="128.2" r="0.55"/><circle cx="190.2" cy="162.2" r="0.55"/><circle cx="196.6" cy="163.5" r="0.55"/><circle cx="192.3" cy="167.7" r="0.55"/><circle cx="208.1" cy="130.5" r="0.55"/><circle cx="202.1" cy="135.6" r="0.55"/><circle cx="207.8" cy="137.8" r="0.55"/><circle cx="188.6" cy="160.7" r="0.55"/><circle cx="201.5" cy="132.8" r="0.55"/><circle cx="191.3" cy="156.4" r="0.55"/><circle cx="189.0" cy="159.1" r="0.55"/><circle cx="192.6" cy="139.2" r="0.55"/><circle cx="197.6" cy="153.8" r="0.55"/><circle cx="205.9" cy="127.1" r="0.55"/><circle cx="205.9" cy="137.2" r="0.55"/><circle cx="194.0" cy="159.4" r="0.55"/><circle cx="205.0" cy="158.1" r="0.55"/><circle cx="210.8" cy="136.3" r="0.55"/><circle cx="194.6" cy="160.6" r="0.55"/><circle cx="193.2" cy="133.8" r="0.55"/><circle cx="192.2" cy="166.4" r="0.55"/><circle cx="194.5" cy="142.2" r="0.55"/><circle cx="205.8" cy="128.4" r="0.55"/><circle cx="202.8" cy="130.2" r="0.55"/><circle cx="190.2" cy="174.9" r="0.55"/><circle cx="210.1" cy="150.0" r="0.55"/><circle cx="191.4" cy="131.8" r="0.55"/><circle cx="199.9" cy="153.1" r="0.55"/><circle cx="196.0" cy="163.5" r="0.55"/><circle cx="200.6" cy="166.6" r="0.55"/><circle cx="196.6" cy="151.1" r="0.55"/><circle cx="192.9" cy="160.9" r="0.55"/><circle cx="192.1" cy="142.4" r="0.55"/><circle cx="199.1" cy="163.3" r="0.55"/><circle cx="207.2" cy="145.2" r="0.55"/><circle cx="211.7" cy="158.3" r="0.55"/><circle cx="188.9" cy="149.7" r="0.55"/><circle cx="203.5" cy="140.3" r="0.55"/><circle cx="187.0" cy="177.5" r="0.55"/><circle cx="198.8" cy="158.3" r="0.55"/><circle cx="194.2" cy="129.1" r="0.55"/><circle cx="198.0" cy="130.0" r="0.55"/><circle cx="196.8" cy="130.5" r="0.55"/><circle cx="193.9" cy="166.2" r="0.55"/><circle cx="189.7" cy="131.1" r="0.55"/><circle cx="200.6" cy="169.7" r="0.55"/><circle cx="190.7" cy="134.7" r="0.55"/><circle cx="207.0" cy="148.1" r="0.55"/><circle cx="195.3" cy="132.0" r="0.55"/><circle cx="192.7" cy="177.0" r="0.55"/><circle cx="189.2" cy="139.3" r="0.55"/><circle cx="210.9" cy="150.6" r="0.55"/><circle cx="193.9" cy="150.2" r="0.55"/><circle cx="205.7" cy="164.4" r="0.55"/><circle cx="189.6" cy="135.8" r="0.55"/><circle cx="208.4" cy="143.5" r="0.55"/><circle cx="192.8" cy="139.0" r="0.55"/><circle cx="190.1" cy="170.8" r="0.55"/><circle cx="194.8" cy="134.7" r="0.55"/><circle cx="206.5" cy="143.6" r="0.55"/><circle cx="191.2" cy="147.7" r="0.55"/><circle cx="201.8" cy="126.1" r="0.55"/><circle cx="207.0" cy="157.6" r="0.55"/><circle cx="195.0" cy="170.5" r="0.55"/><circle cx="208.5" cy="139.6" r="0.55"/><circle cx="196.1" cy="145.4" r="0.55"/><circle cx="195.7" cy="145.5" r="0.55"/><circle cx="189.0" cy="137.5" r="0.55"/><circle cx="211.0" cy="147.3" r="0.55"/><circle cx="206.8" cy="138.5" r="0.55"/><circle cx="193.0" cy="160.3" r="0.55"/><circle cx="196.5" cy="170.0" r="0.55"/><circle cx="189.7" cy="154.1" r="0.55"/><circle cx="195.3" cy="169.0" r="0.55"/><circle cx="195.5" cy="170.2" r="0.55"/><circle cx="189.8" cy="175.2" r="0.55"/><circle cx="206.5" cy="161.4" r="0.55"/><circle cx="203.9" cy="128.0" r="0.55"/><circle cx="209.9" cy="154.5" r="0.55"/><circle cx="198.5" cy="143.5" r="0.55"/><circle cx="209.9" cy="136.8" r="0.55"/><circle cx="195.4" cy="138.7" r="0.55"/><circle cx="188.8" cy="142.8" r="0.55"/><circle cx="186.7" cy="167.7" r="0.55"/><circle cx="192.2" cy="129.2" r="0.55"/><circle cx="187.9" cy="164.8" r="0.55"/><circle cx="191.5" cy="150.0" r="0.55"/><circle cx="197.1" cy="168.0" r="0.55"/><circle cx="212.2" cy="141.9" r="0.55"/><circle cx="206.2" cy="142.0" r="0.55"/><circle cx="210.0" cy="155.9" r="0.55"/><circle cx="188.9" cy="156.6" r="0.55"/><circle cx="208.8" cy="153.0" r="0.55"/><circle cx="199.3" cy="147.6" r="0.55"/><circle cx="210.2" cy="160.8" r="0.55"/><circle cx="191.7" cy="144.7" r="0.55"/><circle cx="205.1" cy="132.1" r="0.55"/><circle cx="202.2" cy="148.4" r="0.55"/><circle cx="205.7" cy="148.3" r="0.55"/><circle cx="188.5" cy="153.3" r="0.55"/><circle cx="195.8" cy="137.3" r="0.55"/><circle cx="192.0" cy="172.3" r="0.55"/><circle cx="213.3" cy="148.5" r="0.55"/><circle cx="196.5" cy="163.1" r="0.55"/><circle cx="194.3" cy="142.9" r="0.55"/><circle cx="206.1" cy="135.4" r="0.55"/><circle cx="201.0" cy="152.0" r="0.55"/><circle cx="204.4" cy="133.1" r="0.55"/><circle cx="201.4" cy="167.6" r="0.55"/><circle cx="191.0" cy="173.7" r="0.55"/><circle cx="201.2" cy="165.8" r="0.55"/><circle cx="209.9" cy="144.7" r="0.55"/><circle cx="212.3" cy="152.6" r="0.55"/><circle cx="211.6" cy="155.2" r="0.55"/><circle cx="190.0" cy="158.9" r="0.55"/><circle cx="208.1" cy="148.0" r="0.55"/><circle cx="202.6" cy="139.2" r="0.55"/><circle cx="193.6" cy="147.8" r="0.55"/><circle cx="200.1" cy="150.3" r="0.55"/><circle cx="195.4" cy="163.5" r="0.55"/><circle cx="206.6" cy="138.1" r="0.55"/><circle cx="193.0" cy="152.9" r="0.55"/><circle cx="190.8" cy="157.5" r="0.55"/><circle cx="210.9" cy="136.2" r="0.55"/><circle cx="202.1" cy="163.7" r="0.55"/><circle cx="206.6" cy="163.2" r="0.55"/><circle cx="205.5" cy="139.9" r="0.55"/><circle cx="187.4" cy="175.5" r="0.55"/><circle cx="198.2" cy="130.1" r="0.55"/><circle cx="187.9" cy="167.7" r="0.55"/><circle cx="204.6" cy="133.0" r="0.55"/><circle cx="198.6" cy="159.4" r="0.55"/><circle cx="207.1" cy="138.5" r="0.55"/><circle cx="191.5" cy="134.0" r="0.55"/><circle cx="197.3" cy="158.3" r="0.55"/><circle cx="194.3" cy="134.1" r="0.55"/><circle cx="192.0" cy="130.0" r="0.55"/><circle cx="191.3" cy="142.2" r="0.55"/><circle cx="199.9" cy="135.2" r="0.55"/><circle cx="199.2" cy="148.8" r="0.55"/><circle cx="212.8" cy="151.3" r="0.55"/><circle cx="212.0" cy="150.5" r="0.55"/><circle cx="191.4" cy="156.9" r="0.55"/><circle cx="190.0" cy="134.5" r="0.55"/><circle cx="188.0" cy="162.7" r="0.55"/><circle cx="212.6" cy="146.9" r="0.55"/><circle cx="195.7" cy="148.0" r="0.55"/><circle cx="195.7" cy="162.1" r="0.55"/><circle cx="196.8" cy="133.6" r="0.55"/><circle cx="209.8" cy="155.8" r="0.55"/><circle cx="206.0" cy="144.3" r="0.55"/><circle cx="197.0" cy="148.4" r="0.55"/><circle cx="194.2" cy="154.9" r="0.55"/><circle cx="204.2" cy="164.5" r="0.55"/><circle cx="196.1" cy="170.6" r="0.55"/><circle cx="207.8" cy="156.8" r="0.55"/><circle cx="204.6" cy="143.5" r="0.55"/><circle cx="212.0" cy="154.6" r="0.55"/><circle cx="197.1" cy="135.2" r="0.55"/><circle cx="189.2" cy="173.1" r="0.55"/><circle cx="194.9" cy="150.9" r="0.55"/><circle cx="199.6" cy="144.8" r="0.55"/><circle cx="210.6" cy="144.0" r="0.55"/><circle cx="203.6" cy="150.8" r="0.55"/><circle cx="195.1" cy="146.0" r="0.55"/><circle cx="202.8" cy="167.2" r="0.55"/><circle cx="193.2" cy="145.1" r="0.55"/><circle cx="196.7" cy="144.7" r="0.55"/><circle cx="211.1" cy="154.1" r="0.55"/><circle cx="193.6" cy="143.1" r="0.55"/><circle cx="208.6" cy="134.0" r="0.55"/><circle cx="205.0" cy="126.7" r="0.55"/><circle cx="191.3" cy="128.7" r="0.55"/><circle cx="208.2" cy="133.3" r="0.55"/><circle cx="192.3" cy="128.6" r="0.55"/><circle cx="193.3" cy="164.4" r="0.55"/><circle cx="212.0" cy="154.7" r="0.55"/><circle cx="211.4" cy="148.5" r="0.55"/><circle cx="191.3" cy="165.1" r="0.55"/><circle cx="209.6" cy="145.9" r="0.55"/><circle cx="188.6" cy="171.8" r="0.55"/><circle cx="206.7" cy="157.1" r="0.55"/><circle cx="203.3" cy="131.5" r="0.55"/><circle cx="190.5" cy="135.1" r="0.55"/><circle cx="202.8" cy="161.1" r="0.55"/><circle cx="212.7" cy="144.6" r="0.55"/><circle cx="212.9" cy="148.5" r="0.55"/><circle cx="196.7" cy="138.9" r="0.55"/><circle cx="192.4" cy="177.2" r="0.55"/><circle cx="190.8" cy="135.0" r="0.55"/><circle cx="190.2" cy="144.1" r="0.55"/><circle cx="206.3" cy="128.6" r="0.55"/><circle cx="200.6" cy="161.6" r="0.55"/><circle cx="207.8" cy="156.0" r="0.55"/><circle cx="198.4" cy="172.2" r="0.55"/><circle cx="202.5" cy="143.4" r="0.55"/><circle cx="201.4" cy="133.1" r="0.55"/><circle cx="190.8" cy="145.8" r="0.55"/><circle cx="205.0" cy="125.7" r="0.55"/><circle cx="200.2" cy="125.8" r="0.55"/><circle cx="207.9" cy="147.4" r="0.55"/><circle cx="204.4" cy="155.7" r="0.55"/><circle cx="206.0" cy="147.2" r="0.55"/><circle cx="211.5" cy="158.1" r="0.55"/><circle cx="194.7" cy="145.5" r="0.55"/><circle cx="193.4" cy="173.4" r="0.55"/><circle cx="204.9" cy="142.4" r="0.55"/><circle cx="206.8" cy="139.4" r="0.55"/><circle cx="202.8" cy="133.9" r="0.55"/><circle cx="209.6" cy="151.4" r="0.55"/><circle cx="193.6" cy="174.4" r="0.55"/><circle cx="188.3" cy="174.8" r="0.55"/><circle cx="206.8" cy="133.4" r="0.55"/><circle cx="206.9" cy="155.9" r="0.55"/><circle cx="210.9" cy="156.6" r="0.55"/><circle cx="188.4" cy="166.7" r="0.55"/><circle cx="188.8" cy="140.2" r="0.55"/><circle cx="189.1" cy="171.7" r="0.55"/><circle cx="198.1" cy="164.0" r="0.55"/><circle cx="193.1" cy="164.2" r="0.55"/><circle cx="203.8" cy="130.7" r="0.55"/><circle cx="199.6" cy="163.8" r="0.55"/><circle cx="191.9" cy="160.2" r="0.55"/><circle cx="193.6" cy="145.1" r="0.55"/><circle cx="213.4" cy="148.1" r="0.55"/><circle cx="201.7" cy="168.3" r="0.55"/><circle cx="206.9" cy="149.7" r="0.55"/><circle cx="209.7" cy="146.8" r="0.55"/><circle cx="212.1" cy="150.6" r="0.55"/><circle cx="189.3" cy="165.2" r="0.55"/><circle cx="190.0" cy="161.5" r="0.55"/><circle cx="187.5" cy="177.9" r="0.55"/><circle cx="200.9" cy="164.7" r="0.55"/><circle cx="189.6" cy="159.3" r="0.55"/><circle cx="196.4" cy="138.7" r="0.55"/><circle cx="199.1" cy="130.1" r="0.55"/><circle cx="198.9" cy="163.6" r="0.55"/><circle cx="206.1" cy="143.7" r="0.55"/><circle cx="189.8" cy="168.7" r="0.55"/><circle cx="189.3" cy="135.4" r="0.55"/><circle cx="199.8" cy="143.3" r="0.55"/><circle cx="190.5" cy="174.8" r="0.55"/><circle cx="199.0" cy="167.2" r="0.55"/><circle cx="192.9" cy="173.9" r="0.55"/><circle cx="192.1" cy="173.5" r="0.55"/><circle cx="207.2" cy="158.9" r="0.55"/><circle cx="200.7" cy="170.8" r="0.55"/><circle cx="198.2" cy="130.7" r="0.55"/><circle cx="204.8" cy="165.0" r="0.55"/><circle cx="192.4" cy="150.1" r="0.55"/><circle cx="204.8" cy="154.9" r="0.55"/><circle cx="197.1" cy="134.4" r="0.55"/><circle cx="189.8" cy="150.4" r="0.55"/><circle cx="199.6" cy="139.7" r="0.55"/><circle cx="196.1" cy="154.9" r="0.55"/><circle cx="207.0" cy="156.7" r="0.55"/><circle cx="190.5" cy="172.5" r="0.55"/><circle cx="196.6" cy="154.5" r="0.55"/><circle cx="194.6" cy="127.0" r="0.55"/><circle cx="191.6" cy="132.1" r="0.55"/><circle cx="193.8" cy="158.9" r="0.55"/><circle cx="204.9" cy="144.7" r="0.55"/><circle cx="204.4" cy="144.6" r="0.55"/><circle cx="202.6" cy="141.4" r="0.55"/><circle cx="191.7" cy="152.4" r="0.55"/><circle cx="189.2" cy="169.9" r="0.55"/><circle cx="204.4" cy="161.8" r="0.55"/><circle cx="204.7" cy="163.3" r="0.55"/><circle cx="194.6" cy="155.6" r="0.55"/><circle cx="210.8" cy="156.7" r="0.55"/><circle cx="191.6" cy="135.0" r="0.55"/><circle cx="208.9" cy="130.9" r="0.55"/><circle cx="211.6" cy="139.7" r="0.55"/><circle cx="210.2" cy="152.8" r="0.55"/><circle cx="197.1" cy="162.5" r="0.55"/><circle cx="187.9" cy="169.5" r="0.55"/><circle cx="206.5" cy="139.8" r="0.55"/><circle cx="190.1" cy="144.8" r="0.55"/><circle cx="203.1" cy="160.1" r="0.55"/><circle cx="190.4" cy="164.0" r="0.55"/><circle cx="201.2" cy="144.5" r="0.55"/><circle cx="210.8" cy="139.0" r="0.55"/><circle cx="189.9" cy="133.9" r="0.55"/><circle cx="190.1" cy="156.7" r="0.55"/><circle cx="208.0" cy="134.0" r="0.55"/><circle cx="199.8" cy="155.9" r="0.55"/><circle cx="201.4" cy="147.4" r="0.55"/><circle cx="200.9" cy="126.3" r="0.55"/><circle cx="192.5" cy="165.6" r="0.55"/><circle cx="192.7" cy="169.2" r="0.55"/><circle cx="192.6" cy="130.4" r="0.55"/><circle cx="199.1" cy="146.0" r="0.55"/><circle cx="195.2" cy="166.1" r="0.55"/><circle cx="192.1" cy="161.0" r="0.55"/><circle cx="209.0" cy="149.5" r="0.55"/><circle cx="202.6" cy="135.1" r="0.55"/><circle cx="195.1" cy="130.2" r="0.55"/><circle cx="203.8" cy="148.0" r="0.55"/><circle cx="194.5" cy="152.6" r="0.55"/><circle cx="190.3" cy="141.7" r="0.55"/><circle cx="194.9" cy="173.7" r="0.55"/><circle cx="205.4" cy="148.2" r="0.55"/><circle cx="190.6" cy="127.9" r="0.55"/><circle cx="189.4" cy="170.4" r="0.55"/><circle cx="203.8" cy="133.8" r="0.55"/><circle cx="203.2" cy="128.6" r="0.55"/><circle cx="199.9" cy="143.3" r="0.55"/><circle cx="188.8" cy="164.9" r="0.55"/><circle cx="205.7" cy="152.6" r="0.55"/><circle cx="190.6" cy="161.0" r="0.55"/><circle cx="197.9" cy="160.5" r="0.55"/><circle cx="188.5" cy="173.3" r="0.55"/><circle cx="197.0" cy="136.0" r="0.55"/><circle cx="188.4" cy="161.9" r="0.55"/><circle cx="193.3" cy="161.0" r="0.55"/><circle cx="192.1" cy="146.7" r="0.55"/><circle cx="204.9" cy="148.3" r="0.55"/><circle cx="190.3" cy="129.2" r="0.55"/><circle cx="199.8" cy="151.4" r="0.55"/><circle cx="191.3" cy="161.0" r="0.55"/><circle cx="199.6" cy="168.4" r="0.55"/><circle cx="194.0" cy="175.0" r="0.55"/><circle cx="208.4" cy="150.6" r="0.55"/><circle cx="189.9" cy="151.1" r="0.55"/><circle cx="189.5" cy="161.8" r="0.55"/><circle cx="205.2" cy="156.1" r="0.55"/><circle cx="189.1" cy="142.6" r="0.55"/><circle cx="187.5" cy="156.4" r="0.55"/><circle cx="205.9" cy="143.9" r="0.55"/><circle cx="205.1" cy="144.9" r="0.55"/><circle cx="205.6" cy="140.2" r="0.55"/><circle cx="212.9" cy="148.7" r="0.55"/><circle cx="203.5" cy="133.7" r="0.55"/><circle cx="189.2" cy="145.7" r="0.55"/><circle cx="194.8" cy="173.7" r="0.55"/><circle cx="201.6" cy="135.9" r="0.55"/><circle cx="200.3" cy="151.1" r="0.55"/><circle cx="195.3" cy="145.3" r="0.55"/><circle cx="200.0" cy="156.7" r="0.55"/><circle cx="192.1" cy="140.2" r="0.55"/><circle cx="199.8" cy="152.2" r="0.55"/><circle cx="197.5" cy="160.7" r="0.55"/><circle cx="191.1" cy="153.7" r="0.55"/><circle cx="193.6" cy="166.3" r="0.55"/><circle cx="205.4" cy="166.9" r="0.55"/><circle cx="200.2" cy="138.7" r="0.55"/><circle cx="211.5" cy="152.6" r="0.55"/><circle cx="196.3" cy="140.9" r="0.55"/><circle cx="197.1" cy="163.1" r="0.55"/><circle cx="208.5" cy="151.1" r="0.55"/><circle cx="206.1" cy="136.8" r="0.55"/><circle cx="198.4" cy="144.5" r="0.55"/><circle cx="194.4" cy="144.6" r="0.55"/><circle cx="206.8" cy="164.4" r="0.55"/><circle cx="191.7" cy="137.9" r="0.55"/><circle cx="207.6" cy="160.2" r="0.55"/><circle cx="204.6" cy="159.2" r="0.55"/><circle cx="205.1" cy="140.0" r="0.55"/><circle cx="186.9" cy="176.5" r="0.55"/><circle cx="200.4" cy="161.0" r="0.55"/><circle cx="192.3" cy="143.4" r="0.55"/><circle cx="189.0" cy="167.7" r="0.55"/><circle cx="206.3" cy="151.3" r="0.55"/><circle cx="196.2" cy="139.8" r="0.55"/><circle cx="199.4" cy="163.2" r="0.55"/><circle cx="209.9" cy="148.8" r="0.55"/><circle cx="197.6" cy="142.1" r="0.55"/><circle cx="190.3" cy="140.4" r="0.55"/><circle cx="195.1" cy="170.6" r="0.55"/><circle cx="210.5" cy="148.1" r="0.55"/><circle cx="191.3" cy="166.5" r="0.55"/><circle cx="196.3" cy="131.8" r="0.55"/><circle cx="210.8" cy="148.8" r="0.55"/><circle cx="196.9" cy="157.0" r="0.55"/><circle cx="193.0" cy="126.6" r="0.55"/><circle cx="196.7" cy="145.6" r="0.55"/><circle cx="206.9" cy="143.1" r="0.55"/><circle cx="204.7" cy="158.6" r="0.55"/><circle cx="204.5" cy="157.9" r="0.55"/><circle cx="194.1" cy="136.1" r="0.55"/><circle cx="192.4" cy="156.6" r="0.55"/><circle cx="201.8" cy="142.6" r="0.55"/><circle cx="203.7" cy="157.4" r="0.55"/><circle cx="200.0" cy="132.0" r="0.55"/><circle cx="191.9" cy="142.0" r="0.55"/><circle cx="197.5" cy="144.8" r="0.55"/><circle cx="209.6" cy="138.4" r="0.55"/><circle cx="202.1" cy="145.5" r="0.55"/><circle cx="187.0" cy="167.7" r="0.55"/><circle cx="208.3" cy="139.8" r="0.55"/><circle cx="207.3" cy="150.9" r="0.55"/><circle cx="196.5" cy="137.6" r="0.55"/><circle cx="203.2" cy="166.7" r="0.55"/><circle cx="209.2" cy="154.6" r="0.55"/><circle cx="196.6" cy="167.9" r="0.55"/><circle cx="188.9" cy="139.3" r="0.55"/><circle cx="206.7" cy="148.8" r="0.55"/><circle cx="198.7" cy="136.8" r="0.55"/><circle cx="188.5" cy="145.1" r="0.55"/><circle cx="197.9" cy="152.4" r="0.55"/><circle cx="194.0" cy="162.7" r="0.55"/><circle cx="190.7" cy="152.6" r="0.55"/><circle cx="199.6" cy="145.2" r="0.55"/><circle cx="209.7" cy="136.6" r="0.55"/><circle cx="210.1" cy="144.5" r="0.55"/><circle cx="195.2" cy="158.1" r="0.55"/><circle cx="201.5" cy="140.6" r="0.55"/><circle cx="188.3" cy="176.1" r="0.55"/><circle cx="196.2" cy="131.6" r="0.55"/><circle cx="204.1" cy="153.7" r="0.55"/><circle cx="195.0" cy="142.9" r="0.55"/><circle cx="209.2" cy="143.4" r="0.55"/><circle cx="195.9" cy="146.8" r="0.55"/><circle cx="190.5" cy="160.6" r="0.55"/><circle cx="204.3" cy="149.2" r="0.55"/><circle cx="197.2" cy="137.8" r="0.55"/><circle cx="207.7" cy="149.7" r="0.55"/><circle cx="208.9" cy="145.4" r="0.55"/><circle cx="206.2" cy="127.0" r="0.55"/><circle cx="192.0" cy="176.4" r="0.55"/><circle cx="204.8" cy="161.3" r="0.55"/><circle cx="199.7" cy="150.5" r="0.55"/><circle cx="191.4" cy="134.7" r="0.55"/><circle cx="203.7" cy="162.3" r="0.55"/><circle cx="193.1" cy="159.7" r="0.55"/><circle cx="189.7" cy="158.0" r="0.55"/><circle cx="190.7" cy="152.5" r="0.55"/><circle cx="194.6" cy="154.7" r="0.55"/><circle cx="189.7" cy="151.1" r="0.55"/><circle cx="203.0" cy="132.6" r="0.55"/><circle cx="194.5" cy="161.5" r="0.55"/><circle cx="201.0" cy="158.2" r="0.55"/><circle cx="207.4" cy="155.8" r="0.55"/><circle cx="192.1" cy="149.0" r="0.55"/><circle cx="208.8" cy="155.5" r="0.55"/><circle cx="206.7" cy="144.8" r="0.55"/><circle cx="208.6" cy="160.1" r="0.55"/><circle cx="188.9" cy="157.9" r="0.55"/><circle cx="186.9" cy="175.0" r="0.55"/><circle cx="193.4" cy="170.3" r="0.55"/><circle cx="190.9" cy="169.4" r="0.55"/><circle cx="200.3" cy="126.3" r="0.55"/><circle cx="210.5" cy="148.8" r="0.55"/><circle cx="208.8" cy="162.0" r="0.55"/><circle cx="191.6" cy="173.1" r="0.55"/><circle cx="195.3" cy="126.9" r="0.55"/><circle cx="195.3" cy="129.0" r="0.55"/><circle cx="188.0" cy="158.6" r="0.55"/><circle cx="189.3" cy="134.0" r="0.55"/><circle cx="194.0" cy="140.3" r="0.55"/><circle cx="198.1" cy="167.7" r="0.55"/><circle cx="193.7" cy="174.6" r="0.55"/><circle cx="192.3" cy="130.3" r="0.55"/></g>
<g fill="#111" fill-opacity="1.0"><circle cx="148.7" cy="188.8" r="0.6"/><circle cx="159.3" cy="191.7" r="0.6"/><circle cx="159.0" cy="171.7" r="0.6"/><circle cx="152.2" cy="188.6" r="0.6"/><circle cx="157.1" cy="172.6" r="0.6"/><circle cx="151.2" cy="197.4" r="0.6"/><circle cx="156.2" cy="182.3" r="0.6"/><circle cx="150.9" cy="176.8" r="0.6"/><circle cx="168.2" cy="187.4" r="0.6"/><circle cx="157.4" cy="182.8" r="0.6"/><circle cx="159.6" cy="182.2" r="0.6"/><circle cx="153.1" cy="186.6" r="0.6"/><circle cx="159.9" cy="177.8" r="0.6"/><circle cx="171.4" cy="183.8" r="0.6"/><circle cx="163.8" cy="186.3" r="0.6"/><circle cx="148.1" cy="191.4" r="0.6"/><circle cx="153.6" cy="194.3" r="0.6"/><circle cx="170.9" cy="179.8" r="0.6"/><circle cx="150.2" cy="168.4" r="0.6"/><circle cx="157.6" cy="182.3" r="0.6"/><circle cx="148.9" cy="172.5" r="0.6"/><circle cx="148.9" cy="171.2" r="0.6"/><circle cx="159.7" cy="183.3" r="0.6"/><circle cx="158.5" cy="182.1" r="0.6"/><circle cx="162.8" cy="183.3" r="0.6"/><circle cx="151.2" cy="191.6" r="0.6"/><circle cx="154.1" cy="189.7" r="0.6"/><circle cx="151.5" cy="184.5" r="0.6"/><circle cx="165.2" cy="188.5" r="0.6"/><circle cx="149.1" cy="183.7" r="0.6"/><circle cx="145.7" cy="173.4" r="0.6"/><circle cx="146.8" cy="173.6" r="0.6"/><circle cx="146.8" cy="181.6" r="0.6"/><circle cx="152.3" cy="175.2" r="0.6"/><circle cx="159.2" cy="177.6" r="0.6"/><circle cx="147.8" cy="172.6" r="0.6"/><circle cx="147.6" cy="188.7" r="0.6"/><circle cx="150.9" cy="166.2" r="0.6"/><circle cx="169.0" cy="179.0" r="0.6"/><circle cx="174.7" cy="178.3" r="0.6"/><circle cx="154.3" cy="167.5" r="0.6"/><circle cx="175.3" cy="182.4" r="0.6"/><circle cx="158.5" cy="179.9" r="0.6"/><circle cx="157.4" cy="195.3" r="0.6"/><circle cx="157.5" cy="187.5" r="0.6"/><circle cx="162.5" cy="180.7" r="0.6"/><circle cx="146.6" cy="177.5" r="0.6"/><circle cx="153.9" cy="189.2" r="0.6"/><circle cx="165.2" cy="187.3" r="0.6"/><circle cx="158.6" cy="176.0" r="0.6"/><circle cx="148.2" cy="187.8" r="0.6"/><circle cx="153.5" cy="191.9" r="0.6"/><circle cx="154.1" cy="183.6" r="0.6"/><circle cx="149.9" cy="178.4" r="0.6"/><circle cx="160.5" cy="179.1" r="0.6"/><circle cx="148.0" cy="182.8" r="0.6"/><circle cx="153.9" cy="197.9" r="0.6"/><circle cx="156.6" cy="179.8" r="0.6"/><circle cx="154.6" cy="187.0" r="0.6"/><circle cx="158.8" cy="194.7" r="0.6"/><circle cx="150.7" cy="180.0" r="0.6"/><circle cx="149.0" cy="182.7" r="0.6"/><circle cx="162.5" cy="179.2" r="0.6"/><circle cx="145.1" cy="180.1" r="0.6"/><circle cx="163.3" cy="189.2" r="0.6"/><circle cx="147.6" cy="175.3" r="0.6"/><circle cx="156.4" cy="169.3" r="0.6"/><circle cx="149.0" cy="172.6" r="0.6"/><circle cx="150.4" cy="182.6" r="0.6"/><circle cx="148.5" cy="192.9" r="0.6"/><circle cx="157.8" cy="173.6" r="0.6"/><circle cx="152.0" cy="193.5" r="0.6"/><circle cx="157.5" cy="185.3" r="0.6"/><circle cx="146.1" cy="188.6" r="0.6"/><circle cx="163.4" cy="189.5" r="0.6"/><circle cx="153.2" cy="181.9" r="0.6"/><circle cx="150.2" cy="179.9" r="0.6"/><circle cx="153.3" cy="184.9" r="0.6"/><circle cx="153.9" cy="174.3" r="0.6"/><circle cx="170.4" cy="181.9" r="0.6"/><circle cx="151.6" cy="168.9" r="0.6"/><circle cx="160.8" cy="182.1" r="0.6"/><circle cx="157.6" cy="195.3" r="0.6"/><circle cx="170.9" cy="185.8" r="0.6"/><circle cx="152.6" cy="186.0" r="0.6"/><circle cx="150.4" cy="180.7" r="0.6"/><circle cx="159.7" cy="187.1" r="0.6"/><circle cx="156.9" cy="179.4" r="0.6"/><circle cx="156.4" cy="188.7" r="0.6"/><circle cx="168.4" cy="187.1" r="0.6"/><circle cx="157.3" cy="184.4" r="0.6"/><circle cx="159.4" cy="193.5" r="0.6"/><circle cx="151.9" cy="190.3" r="0.6"/><circle cx="152.8" cy="191.8" r="0.6"/><circle cx="159.7" cy="175.6" r="0.6"/><circle cx="156.2" cy="192.2" r="0.6"/><circle cx="149.1" cy="184.3" r="0.6"/><circle cx="151.0" cy="176.4" r="0.6"/><circle cx="147.4" cy="170.3" r="0.6"/><circle cx="152.8" cy="178.4" r="0.6"/><circle cx="144.4" cy="179.8" r="0.6"/><circle cx="151.5" cy="173.6" r="0.6"/><circle cx="167.4" cy="184.8" r="0.6"/><circle cx="153.5" cy="198.0" r="0.6"/><circle cx="167.0" cy="183.7" r="0.6"/><circle cx="157.2" cy="171.5" r="0.6"/><circle cx="167.4" cy="184.5" r="0.6"/><circle cx="169.7" cy="186.4" r="0.6"/><circle cx="170.8" cy="184.3" r="0.6"/><circle cx="154.8" cy="196.5" r="0.6"/><circle cx="156.2" cy="168.5" r="0.6"/><circle cx="155.0" cy="189.0" r="0.6"/><circle cx="169.7" cy="180.1" r="0.6"/><circle cx="159.2" cy="190.8" r="0.6"/><circle cx="154.5" cy="168.7" r="0.6"/><circle cx="152.2" cy="188.2" r="0.6"/><circle cx="148.5" cy="181.8" r="0.6"/><circle cx="155.0" cy="197.3" r="0.6"/><circle cx="149.8" cy="167.6" r="0.6"/><circle cx="159.9" cy="179.0" r="0.6"/><circle cx="175.5" cy="179.1" r="0.6"/><circle cx="154.1" cy="181.7" r="0.6"/><circle cx="157.0" cy="187.0" r="0.6"/><circle cx="150.7" cy="176.4" r="0.6"/><circle cx="145.8" cy="179.4" r="0.6"/><circle cx="163.3" cy="184.7" r="0.6"/><circle cx="152.6" cy="186.1" r="0.6"/><circle cx="146.2" cy="183.4" r="0.6"/><circle cx="156.4" cy="181.7" r="0.6"/><circle cx="153.8" cy="190.9" r="0.6"/><circle cx="145.0" cy="180.6" r="0.6"/><circle cx="162.2" cy="189.7" r="0.6"/><circle cx="159.8" cy="186.6" r="0.6"/><circle cx="161.6" cy="189.0" r="0.6"/><circle cx="154.6" cy="194.8" r="0.6"/><circle cx="156.6" cy="172.7" r="0.6"/><circle cx="167.3" cy="183.0" r="0.6"/><circle cx="152.2" cy="182.5" r="0.6"/><circle cx="156.7" cy="176.8" r="0.6"/><circle cx="152.9" cy="181.8" r="0.6"/><circle cx="171.7" cy="178.5" r="0.6"/><circle cx="146.1" cy="176.2" r="0.6"/><circle cx="149.1" cy="169.5" r="0.6"/><circle cx="154.0" cy="188.8" r="0.6"/><circle cx="170.4" cy="182.2" r="0.6"/><circle cx="148.7" cy="192.9" r="0.6"/><circle cx="147.2" cy="191.1" r="0.6"/><circle cx="169.5" cy="186.5" r="0.6"/><circle cx="154.8" cy="193.4" r="0.6"/><circle cx="172.0" cy="184.3" r="0.6"/><circle cx="153.1" cy="173.6" r="0.6"/><circle cx="152.0" cy="188.7" r="0.6"/><circle cx="154.1" cy="168.3" r="0.6"/><circle cx="153.3" cy="191.2" r="0.6"/><circle cx="159.4" cy="192.7" r="0.6"/><circle cx="149.3" cy="168.6" r="0.6"/><circle cx="155.5" cy="194.9" r="0.6"/><circle cx="149.3" cy="167.5" r="0.6"/><circle cx="152.1" cy="187.6" r="0.6"/><circle cx="172.8" cy="178.9" r="0.6"/><circle cx="155.2" cy="173.2" r="0.6"/><circle cx="169.9" cy="183.1" r="0.6"/><circle cx="156.7" cy="175.0" r="0.6"/><circle cx="153.3" cy="190.1" r="0.6"/><circle cx="151.1" cy="176.1" r="0.6"/><circle cx="153.3" cy="194.4" r="0.6"/><circle cx="165.1" cy="181.3" r="0.6"/><circle cx="156.5" cy="196.3" r="0.6"/><circle cx="175.0" cy="180.3" r="0.6"/><circle cx="152.5" cy="173.8" r="0.6"/><circle cx="147.4" cy="182.1" r="0.6"/><circle cx="159.9" cy="178.0" r="0.6"/><circle cx="156.4" cy="169.2" r="0.6"/><circle cx="154.2" cy="182.5" r="0.6"/><circle cx="153.5" cy="180.2" r="0.6"/><circle cx="168.8" cy="180.9" r="0.6"/><circle cx="157.6" cy="171.7" r="0.6"/><circle cx="151.3" cy="177.8" r="0.6"/><circle cx="157.7" cy="184.6" r="0.6"/><circle cx="161.1" cy="184.8" r="0.6"/><circle cx="157.6" cy="176.9" r="0.6"/><circle cx="157.8" cy="170.8" r="0.6"/><circle cx="161.9" cy="179.5" r="0.6"/><circle cx="152.3" cy="175.7" r="0.6"/><circle cx="160.3" cy="180.2" r="0.6"/><circle cx="150.8" cy="166.8" r="0.6"/><circle cx="149.3" cy="176.8" r="0.6"/><circle cx="151.8" cy="191.5" r="0.6"/><circle cx="158.6" cy="183.3" r="0.6"/><circle cx="146.2" cy="187.7" r="0.6"/><circle cx="154.0" cy="167.3" r="0.6"/><circle cx="162.3" cy="187.2" r="0.6"/><circle cx="151.4" cy="166.5" r="0.6"/><circle cx="168.3" cy="186.3" r="0.6"/><circle cx="153.2" cy="180.2" r="0.6"/><circle cx="151.7" cy="171.3" r="0.6"/><circle cx="150.0" cy="192.7" r="0.6"/><circle cx="159.0" cy="189.3" r="0.6"/><circle cx="155.5" cy="192.4" r="0.6"/><circle cx="163.7" cy="187.2" r="0.6"/><circle cx="157.0" cy="184.1" r="0.6"/><circle cx="166.2" cy="183.1" r="0.6"/><circle cx="155.0" cy="172.8" r="0.6"/><circle cx="158.7" cy="194.5" r="0.6"/><circle cx="154.0" cy="172.9" r="0.6"/><circle cx="169.1" cy="184.5" r="0.6"/><circle cx="145.0" cy="183.5" r="0.6"/><circle cx="156.8" cy="191.2" r="0.6"/><circle cx="154.4" cy="172.1" r="0.6"/><circle cx="169.9" cy="183.7" r="0.6"/><circle cx="168.9" cy="181.6" r="0.6"/><circle cx="151.2" cy="181.0" r="0.6"/><circle cx="165.0" cy="180.1" r="0.6"/><circle cx="150.8" cy="183.2" r="0.6"/><circle cx="150.5" cy="175.6" r="0.6"/><circle cx="155.3" cy="168.3" r="0.6"/><circle cx="155.5" cy="189.8" r="0.6"/><circle cx="147.2" cy="173.6" r="0.6"/><circle cx="153.4" cy="190.5" r="0.6"/><circle cx="167.0" cy="184.1" r="0.6"/><circle cx="152.4" cy="197.3" r="0.6"/><circle cx="154.9" cy="175.9" r="0.6"/><circle cx="150.5" cy="179.6" r="0.6"/><circle cx="153.0" cy="172.2" r="0.6"/><circle cx="147.9" cy="177.5" r="0.6"/><circle cx="147.9" cy="171.1" r="0.6"/><circle cx="152.3" cy="184.7" r="0.6"/><circle cx="158.7" cy="175.4" r="0.6"/><circle cx="162.5" cy="181.2" r="0.6"/><circle cx="154.9" cy="169.6" r="0.6"/><circle cx="155.6" cy="181.9" r="0.6"/><circle cx="164.7" cy="179.5" r="0.6"/><circle cx="153.0" cy="169.0" r="0.6"/><circle cx="148.9" cy="183.0" r="0.6"/><circle cx="149.8" cy="192.0" r="0.6"/><circle cx="147.2" cy="186.2" r="0.6"/><circle cx="151.2" cy="191.0" r="0.6"/><circle cx="155.2" cy="178.5" r="0.6"/><circle cx="150.6" cy="183.6" r="0.6"/><circle cx="168.7" cy="185.4" r="0.6"/><circle cx="147.4" cy="191.6" r="0.6"/><circle cx="166.6" cy="179.0" r="0.6"/><circle cx="174.8" cy="178.1" r="0.6"/><circle cx="170.5" cy="181.0" r="0.6"/><circle cx="146.7" cy="188.9" r="0.6"/><circle cx="168.0" cy="185.6" r="0.6"/><circle cx="158.5" cy="185.2" r="0.6"/><circle cx="152.9" cy="166.4" r="0.6"/><circle cx="165.9" cy="184.8" r="0.6"/><circle cx="148.3" cy="179.1" r="0.6"/><circle cx="166.9" cy="181.8" r="0.6"/><circle cx="157.9" cy="174.0" r="0.6"/><circle cx="151.9" cy="180.6" r="0.6"/><circle cx="165.4" cy="184.4" r="0.6"/><circle cx="173.4" cy="182.4" r="0.6"/><circle cx="151.1" cy="165.6" r="0.6"/><circle cx="154.8" cy="175.6" r="0.6"/><circle cx="148.1" cy="179.2" r="0.6"/><circle cx="162.3" cy="185.2" r="0.6"/><circle cx="155.4" cy="193.0" r="0.6"/><circle cx="147.9" cy="172.1" r="0.6"/><circle cx="147.5" cy="189.6" r="0.6"/><circle cx="168.6" cy="187.0" r="0.6"/><circle cx="169.7" cy="182.5" r="0.6"/><circle cx="165.4" cy="187.3" r="0.6"/><circle cx="163.4" cy="181.8" r="0.6"/><circle cx="169.0" cy="184.5" r="0.6"/><circle cx="148.3" cy="179.5" r="0.6"/><circle cx="157.9" cy="179.7" r="0.6"/><circle cx="156.9" cy="179.5" r="0.6"/><circle cx="156.3" cy="198.0" r="0.6"/><circle cx="158.8" cy="185.1" r="0.6"/><circle cx="156.1" cy="173.1" r="0.6"/><circle cx="159.4" cy="176.0" r="0.6"/><circle cx="152.4" cy="188.7" r="0.6"/><circle cx="170.3" cy="181.0" r="0.6"/><circle cx="156.8" cy="172.9" r="0.6"/><circle cx="167.6" cy="180.6" r="0.6"/><circle cx="148.8" cy="167.1" r="0.6"/><circle cx="147.3" cy="185.0" r="0.6"/><circle cx="157.9" cy="173.5" r="0.6"/><circle cx="148.0" cy="172.8" r="0.6"/><circle cx="155.3" cy="184.5" r="0.6"/><circle cx="154.7" cy="179.9" r="0.6"/><circle cx="154.8" cy="185.6" r="0.6"/><circle cx="147.7" cy="179.0" r="0.6"/><circle cx="164.6" cy="186.7" r="0.6"/><circle cx="148.1" cy="184.1" r="0.6"/><circle cx="149.6" cy="175.4" r="0.6"/><circle cx="152.6" cy="179.9" r="0.6"/><circle cx="150.3" cy="169.5" r="0.6"/><circle cx="151.1" cy="176.3" r="0.6"/><circle cx="157.0" cy="190.8" r="0.6"/><circle cx="157.3" cy="181.2" r="0.6"/><circle cx="157.1" cy="191.3" r="0.6"/><circle cx="173.8" cy="179.5" r="0.6"/><circle cx="153.0" cy="169.6" r="0.6"/><circle cx="167.1" cy="180.7" r="0.6"/><circle cx="149.8" cy="176.4" r="0.6"/><circle cx="166.5" cy="183.5" r="0.6"/><circle cx="152.6" cy="172.2" r="0.6"/><circle cx="171.2" cy="183.7" r="0.6"/><circle cx="154.8" cy="173.5" r="0.6"/><circle cx="153.6" cy="174.5" r="0.6"/><circle cx="155.4" cy="191.9" r="0.6"/><circle cx="149.4" cy="173.8" r="0.6"/><circle cx="163.3" cy="179.6" r="0.6"/><circle cx="152.5" cy="193.8" r="0.6"/><circle cx="147.9" cy="187.2" r="0.6"/><circle cx="155.8" cy="195.2" r="0.6"/><circle cx="153.8" cy="168.4" r="0.6"/><circle cx="150.6" cy="192.4" r="0.6"/><circle cx="153.0" cy="167.9" r="0.6"/><circle cx="150.2" cy="179.8" r="0.6"/><circle cx="149.4" cy="186.4" r="0.6"/><circle cx="165.7" cy="182.4" r="0.6"/><circle cx="149.9" cy="194.7" r="0.6"/><circle cx="147.7" cy="170.9" r="0.6"/><circle cx="152.0" cy="182.5" r="0.6"/><circle cx="159.7" cy="183.8" r="0.6"/><circle cx="154.5" cy="169.9" r="0.6"/><circle cx="148.3" cy="175.0" r="0.6"/><circle cx="147.6" cy="188.3" r="0.6"/><circle cx="170.2" cy="178.9" r="0.6"/><circle cx="149.1" cy="187.4" r="0.6"/><circle cx="154.5" cy="169.5" r="0.6"/><circle cx="149.4" cy="178.7" r="0.6"/><circle cx="148.2" cy="178.1" r="0.6"/><circle cx="162.2" cy="183.8" r="0.6"/><circle cx="157.3" cy="192.2" r="0.6"/><circle cx="146.9" cy="176.2" r="0.6"/><circle cx="152.4" cy="168.3" r="0.6"/><circle cx="157.4" cy="183.3" r="0.6"/><circle cx="147.3" cy="189.0" r="0.6"/><circle cx="148.8" cy="190.9" r="0.6"/><circle cx="155.3" cy="170.2" r="0.6"/><circle cx="171.5" cy="180.7" r="0.6"/><circle cx="154.6" cy="182.5" r="0.6"/><circle cx="155.7" cy="188.6" r="0.6"/><circle cx="157.3" cy="194.3" r="0.6"/><circle cx="169.1" cy="183.9" r="0.6"/><circle cx="156.0" cy="174.3" r="0.6"/><circle cx="154.1" cy="167.9" r="0.6"/><circle cx="161.5" cy="183.8" r="0.6"/><circle cx="161.8" cy="178.9" r="0.6"/><circle cx="148.6" cy="187.9" r="0.6"/><circle cx="151.8" cy="191.5" r="0.6"/><circle cx="149.0" cy="183.1" r="0.6"/><circle cx="159.8" cy="174.4" r="0.6"/><circle cx="168.2" cy="181.5" r="0.6"/><circle cx="158.9" cy="184.1" r="0.6"/><circle cx="170.6" cy="183.0" r="0.6"/><circle cx="148.9" cy="176.5" r="0.6"/><circle cx="152.6" cy="180.2" r="0.6"/><circle cx="171.7" cy="184.0" r="0.6"/><circle cx="158.7" cy="175.5" r="0.6"/><circle cx="155.4" cy="169.3" r="0.6"/><circle cx="151.3" cy="172.5" r="0.6"/><circle cx="145.9" cy="183.0" r="0.6"/><circle cx="153.9" cy="187.9" r="0.6"/><circle cx="162.5" cy="185.3" r="0.6"/><circle cx="153.9" cy="190.0" r="0.6"/><circle cx="159.5" cy="180.8" r="0.6"/><circle cx="159.4" cy="186.0" r="0.6"/><circle cx="150.1" cy="194.2" r="0.6"/><circle cx="170.9" cy="181.6" r="0.6"/><circle cx="149.8" cy="174.2" r="0.6"/><circle cx="155.7" cy="176.9" r="0.6"/><circle cx="154.1" cy="171.0" r="0.6"/><circle cx="161.9" cy="189.9" r="0.6"/><circle cx="147.4" cy="177.7" r="0.6"/><circle cx="152.7" cy="184.1" r="0.6"/><circle cx="155.9" cy="184.6" r="0.6"/><circle cx="152.4" cy="177.5" r="0.6"/><circle cx="167.4" cy="187.2" r="0.6"/><circle cx="146.4" cy="188.7" r="0.6"/><circle cx="155.5" cy="169.9" r="0.6"/><circle cx="170.4" cy="180.6" r="0.6"/><circle cx="174.6" cy="183.1" r="0.6"/><circle cx="153.1" cy="182.6" r="0.6"/><circle cx="157.5" cy="184.0" r="0.6"/><circle cx="161.7" cy="184.5" r="0.6"/><circle cx="158.5" cy="171.3" r="0.6"/><circle cx="157.6" cy="185.1" r="0.6"/><circle cx="147.0" cy="189.2" r="0.6"/><circle cx="148.4" cy="173.7" r="0.6"/><circle cx="144.6" cy="179.7" r="0.6"/><circle cx="151.8" cy="185.0" r="0.6"/><circle cx="146.5" cy="188.6" r="0.6"/><circle cx="147.6" cy="172.6" r="0.6"/><circle cx="154.7" cy="175.7" r="0.6"/><circle cx="157.3" cy="188.8" r="0.6"/><circle cx="154.7" cy="192.1" r="0.6"/><circle cx="150.1" cy="168.5" r="0.6"/><circle cx="164.7" cy="180.4" r="0.6"/><circle cx="156.2" cy="169.4" r="0.6"/><circle cx="159.6" cy="181.1" r="0.6"/><circle cx="166.6" cy="185.7" r="0.6"/><circle cx="158.0" cy="171.3" r="0.6"/><circle cx="159.3" cy="183.7" r="0.6"/><circle cx="151.4" cy="186.4" r="0.6"/><circle cx="156.9" cy="196.9" r="0.6"/><circle cx="158.4" cy="187.2" r="0.6"/><circle cx="155.4" cy="198.5" r="0.6"/><circle cx="146.2" cy="175.4" r="0.6"/><circle cx="159.7" cy="190.3" r="0.6"/><circle cx="161.4" cy="186.5" r="0.6"/><circle cx="150.7" cy="194.1" r="0.6"/><circle cx="155.8" cy="186.1" r="0.6"/><circle cx="152.2" cy="175.9" r="0.6"/><circle cx="173.1" cy="182.0" r="0.6"/><circle cx="145.2" cy="175.2" r="0.6"/><circle cx="147.6" cy="191.5" r="0.6"/><circle cx="156.9" cy="182.8" r="0.6"/><circle cx="157.9" cy="179.9" r="0.6"/><circle cx="166.2" cy="186.4" r="0.6"/><circle cx="154.3" cy="174.1" r="0.6"/><circle cx="174.4" cy="183.1" r="0.6"/><circle cx="144.7" cy="176.6" r="0.6"/><circle cx="171.4" cy="182.5" r="0.6"/><circle cx="151.7" cy="194.1" r="0.6"/><circle cx="148.0" cy="176.0" r="0.6"/><circle cx="157.7" cy="191.2" r="0.6"/><circle cx="170.5" cy="184.8" r="0.6"/><circle cx="146.7" cy="190.5" r="0.6"/><circle cx="151.5" cy="176.0" r="0.6"/><circle cx="155.3" cy="198.6" r="0.6"/><circle cx="146.0" cy="179.8" r="0.6"/><circle cx="160.4" cy="188.9" r="0.6"/><circle cx="155.1" cy="179.1" r="0.6"/><circle cx="162.9" cy="178.9" r="0.6"/><circle cx="147.2" cy="175.6" r="0.6"/><circle cx="162.6" cy="178.4" r="0.6"/><circle cx="152.9" cy="170.1" r="0.6"/><circle cx="152.7" cy="182.3" r="0.6"/><circle cx="146.0" cy="175.3" r="0.6"/><circle cx="161.8" cy="181.4" r="0.6"/><circle cx="165.0" cy="184.9" r="0.6"/><circle cx="147.7" cy="172.6" r="0.6"/><circle cx="144.7" cy="181.8" r="0.6"/><circle cx="156.6" cy="172.0" r="0.6"/><circle cx="152.0" cy="176.0" r="0.6"/><circle cx="157.7" cy="177.2" r="0.6"/><circle cx="151.7" cy="195.6" r="0.6"/><circle cx="159.1" cy="172.0" r="0.6"/><circle cx="148.0" cy="182.0" r="0.6"/><circle cx="154.5" cy="186.0" r="0.6"/><circle cx="166.2" cy="186.4" r="0.6"/><circle cx="155.4" cy="171.8" r="0.6"/><circle cx="162.9" cy="187.9" r="0.6"/><circle cx="151.7" cy="178.0" r="0.6"/><circle cx="147.3" cy="192.1" r="0.6"/><circle cx="150.1" cy="169.6" r="0.6"/><circle cx="153.2" cy="186.8" r="0.6"/><circle cx="165.0" cy="182.8" r="0.6"/><circle cx="150.9" cy="183.2" r="0.6"/><circle cx="149.6" cy="173.2" r="0.6"/><circle cx="148.8" cy="167.6" r="0.6"/><circle cx="155.6" cy="195.1" r="0.6"/><circle cx="151.2" cy="185.1" r="0.6"/><circle cx="147.1" cy="184.2" r="0.6"/><circle cx="163.4" cy="183.0" r="0.6"/><circle cx="155.2" cy="197.2" r="0.6"/><circle cx="157.1" cy="179.4" r="0.6"/><circle cx="161.8" cy="189.4" r="0.6"/><circle cx="151.1" cy="184.3" r="0.6"/><circle cx="158.5" cy="172.9" r="0.6"/><circle cx="167.4" cy="181.6" r="0.6"/><circle cx="158.1" cy="189.0" r="0.6"/><circle cx="152.7" cy="187.8" r="0.6"/><circle cx="158.8" cy="177.2" r="0.6"/><circle cx="144.9" cy="181.0" r="0.6"/><circle cx="147.5" cy="181.5" r="0.6"/><circle cx="146.3" cy="170.8" r="0.6"/><circle cx="158.7" cy="176.8" r="0.6"/><circle cx="160.5" cy="183.0" r="0.6"/><circle cx="156.8" cy="169.5" r="0.6"/><circle cx="144.6" cy="184.0" r="0.6"/><circle cx="155.6" cy="175.9" r="0.6"/><circle cx="168.5" cy="181.8" r="0.6"/><circle cx="148.4" cy="172.0" r="0.6"/><circle cx="156.2" cy="178.6" r="0.6"/><circle cx="158.5" cy="184.6" r="0.6"/><circle cx="153.1" cy="195.4" r="0.6"/><circle cx="151.3" cy="174.2" r="0.6"/><circle cx="147.8" cy="172.2" r="0.6"/><circle cx="157.7" cy="191.6" r="0.6"/><circle cx="155.8" cy="192.7" r="0.6"/><circle cx="159.8" cy="173.8" r="0.6"/><circle cx="149.0" cy="181.9" r="0.6"/><circle cx="172.9" cy="184.5" r="0.6"/><circle cx="159.8" cy="180.9" r="0.6"/><circle cx="147.6" cy="174.0" r="0.6"/><circle cx="160.8" cy="185.7" r="0.6"/><circle cx="151.9" cy="169.7" r="0.6"/><circle cx="160.9" cy="184.8" r="0.6"/><circle cx="159.2" cy="181.0" r="0.6"/><circle cx="148.6" cy="189.4" r="0.6"/><circle cx="146.3" cy="178.2" r="0.6"/><circle cx="158.8" cy="173.7" r="0.6"/><circle cx="148.6" cy="182.2" r="0.6"/><circle cx="159.1" cy="182.6" r="0.6"/><circle cx="147.1" cy="190.5" r="0.6"/><circle cx="158.0" cy="196.5" r="0.6"/><circle cx="151.4" cy="194.8" r="0.6"/><circle cx="151.5" cy="166.6" r="0.6"/><circle cx="155.7" cy="189.4" r="0.6"/><circle cx="145.1" cy="182.5" r="0.6"/><circle cx="163.1" cy="180.2" r="0.6"/><circle cx="154.8" cy="193.2" r="0.6"/><circle cx="152.7" cy="186.6" r="0.6"/><circle cx="151.1" cy="169.4" r="0.6"/><circle cx="164.1" cy="186.2" r="0.6"/><circle cx="152.7" cy="174.0" r="0.6"/><circle cx="162.6" cy="185.7" r="0.6"/><circle cx="151.3" cy="187.2" r="0.6"/><circle cx="152.3" cy="192.1" r="0.6"/><circle cx="151.9" cy="184.2" r="0.6"/><circle cx="158.3" cy="184.6" r="0.6"/><circle cx="150.0" cy="184.8" r="0.6"/><circle cx="154.6" cy="181.1" r="0.6"/><circle cx="159.4" cy="186.4" r="0.6"/><circle cx="153.5" cy="173.7" r="0.6"/><circle cx="160.8" cy="183.1" r="0.6"/><circle cx="151.4" cy="191.0" r="0.6"/><circle cx="160.5" cy="177.1" r="0.6"/><circle cx="152.4" cy="193.5" r="0.6"/><circle cx="152.2" cy="167.4" r="0.6"/><circle cx="155.1" cy="180.0" r="0.6"/><circle cx="156.0" cy="191.8" r="0.6"/><circle cx="166.5" cy="184.9" r="0.6"/><circle cx="147.4" cy="172.4" r="0.6"/><circle cx="152.5" cy="166.1" r="0.6"/><circle cx="165.1" cy="184.5" r="0.6"/><circle cx="174.3" cy="180.9" r="0.6"/><circle cx="155.7" cy="171.7" r="0.6"/><circle cx="164.6" cy="182.3" r="0.6"/><circle cx="163.7" cy="187.2" r="0.6"/><circle cx="158.9" cy="193.4" r="0.6"/><circle cx="159.3" cy="192.6" r="0.6"/><circle cx="155.3" cy="169.9" r="0.6"/><circle cx="147.5" cy="184.6" r="0.6"/><circle cx="150.0" cy="176.3" r="0.6"/><circle cx="148.9" cy="180.8" r="0.6"/><circle cx="145.5" cy="187.3" r="0.6"/><circle cx="172.7" cy="183.5" r="0.6"/><circle cx="174.9" cy="181.7" r="0.6"/><circle cx="146.7" cy="188.9" r="0.6"/><circle cx="160.3" cy="176.1" r="0.6"/><circle cx="159.2" cy="174.4" r="0.6"/><circle cx="157.9" cy="189.3" r="0.6"/><circle cx="151.5" cy="170.4" r="0.6"/><circle cx="160.0" cy="187.4" r="0.6"/><circle cx="146.2" cy="174.2" r="0.6"/><circle cx="146.8" cy="181.5" r="0.6"/><circle cx="164.5" cy="181.4" r="0.6"/><circle cx="165.9" cy="182.7" r="0.6"/><circle cx="150.0" cy="188.6" r="0.6"/><circle cx="148.3" cy="175.5" r="0.6"/><circle cx="172.1" cy="184.3" r="0.6"/><circle cx="160.9" cy="189.1" r="0.6"/><circle cx="160.3" cy="178.1" r="0.6"/><circle cx="152.8" cy="193.4" r="0.6"/><circle cx="157.6" cy="177.3" r="0.6"/><circle cx="166.6" cy="181.7" r="0.6"/><circle cx="146.3" cy="177.2" r="0.6"/><circle cx="166.6" cy="183.2" r="0.6"/><circle cx="151.4" cy="187.8" r="0.6"/><circle cx="155.3" cy="196.9" r="0.6"/><circle cx="153.1" cy="182.5" r="0.6"/><circle cx="147.4" cy="177.2" r="0.6"/><circle cx="146.5" cy="182.1" r="0.6"/><circle cx="156.0" cy="174.4" r="0.6"/><circle cx="158.0" cy="185.7" r="0.6"/><circle cx="165.4" cy="187.3" r="0.6"/><circle cx="150.4" cy="186.6" r="0.6"/><circle cx="146.0" cy="184.1" r="0.6"/><circle cx="155.2" cy="176.1" r="0.6"/><circle cx="154.8" cy="167.6" r="0.6"/><circle cx="156.8" cy="194.1" r="0.6"/><circle cx="161.6" cy="186.4" r="0.6"/><circle cx="158.5" cy="180.6" r="0.6"/><circle cx="161.3" cy="181.3" r="0.6"/><circle cx="148.7" cy="170.0" r="0.6"/><circle cx="152.6" cy="179.3" r="0.6"/><circle cx="168.9" cy="179.8" r="0.6"/><circle cx="157.8" cy="178.7" r="0.6"/><circle cx="148.4" cy="183.7" r="0.6"/><circle cx="155.6" cy="189.5" r="0.6"/><circle cx="156.0" cy="196.5" r="0.6"/><circle cx="153.9" cy="179.7" r="0.6"/><circle cx="154.5" cy="183.1" r="0.6"/><circle cx="153.3" cy="187.8" r="0.6"/><circle cx="157.6" cy="189.1" r="0.6"/><circle cx="153.6" cy="180.5" r="0.6"/><circle cx="162.4" cy="189.4" r="0.6"/><circle cx="165.5" cy="179.6" r="0.6"/><circle cx="148.8" cy="171.3" r="0.6"/><circle cx="150.1" cy="187.5" r="0.6"/><circle cx="155.2" cy="195.9" r="0.6"/><circle cx="151.7" cy="173.4" r="0.6"/><circle cx="150.0" cy="169.9" r="0.6"/><circle cx="166.5" cy="184.7" r="0.6"/><circle cx="152.3" cy="192.6" r="0.6"/><circle cx="166.3" cy="179.6" r="0.6"/><circle cx="164.1" cy="187.3" r="0.6"/><circle cx="156.0" cy="197.2" r="0.6"/><circle cx="156.3" cy="186.7" r="0.6"/><circle cx="146.9" cy="191.3" r="0.6"/><circle cx="156.3" cy="182.4" r="0.6"/><circle cx="152.3" cy="172.1" r="0.6"/><circle cx="148.2" cy="188.4" r="0.6"/><circle cx="164.3" cy="186.1" r="0.6"/><circle cx="158.4" cy="179.4" r="0.6"/><circle cx="148.8" cy="183.6" r="0.6"/><circle cx="153.1" cy="169.1" r="0.6"/><circle cx="172.7" cy="184.5" r="0.6"/><circle cx="165.4" cy="183.9" r="0.6"/><circle cx="154.7" cy="167.7" r="0.6"/><circle cx="160.1" cy="182.8" r="0.6"/><circle cx="150.1" cy="175.4" r="0.6"/><circle cx="146.7" cy="189.1" r="0.6"/><circle cx="156.9" cy="183.9" r="0.6"/><circle cx="157.9" cy="182.2" r="0.6"/><circle cx="153.4" cy="171.4" r="0.6"/><circle cx="156.5" cy="185.5" r="0.6"/><circle cx="149.4" cy="184.2" r="0.6"/><circle cx="149.4" cy="187.2" r="0.6"/><circle cx="165.8" cy="182.8" r="0.6"/><circle cx="166.8" cy="186.0" r="0.6"/><circle cx="153.7" cy="188.2" r="0.6"/><circle cx="157.1" cy="195.4" r="0.6"/><circle cx="159.0" cy="178.4" r="0.6"/><circle cx="148.4" cy="190.6" r="0.6"/><circle cx="166.4" cy="179.0" r="0.6"/><circle cx="163.7" cy="183.8" r="0.6"/><circle cx="175.3" cy="182.3" r="0.6"/><circle cx="161.8" cy="180.7" r="0.6"/><circle cx="157.6" cy="188.5" r="0.6"/><circle cx="147.7" cy="188.5" r="0.6"/><circle cx="150.2" cy="176.4" r="0.6"/><circle cx="161.0" cy="189.7" r="0.6"/><circle cx="158.8" cy="175.3" r="0.6"/><circle cx="157.8" cy="172.6" r="0.6"/><circle cx="159.9" cy="189.0" r="0.6"/><circle cx="155.9" cy="187.5" r="0.6"/><circle cx="150.8" cy="167.2" r="0.6"/><circle cx="150.8" cy="170.2" r="0.6"/><circle cx="172.1" cy="182.6" r="0.6"/><circle cx="145.4" cy="174.2" r="0.6"/></g>
<g fill="#111" fill-opacity="1.0"><circle cx="160.6" cy="146.9" r="0.6"/><circle cx="159.1" cy="155.0" r="0.6"/><circle cx="160.1" cy="147.6" r="0.6"/><circle cx="161.2" cy="146.2" r="0.6"/><circle cx="160.6" cy="152.1" r="0.6"/><circle cx="157.6" cy="151.0" r="0.6"/><circle cx="159.2" cy="153.2" r="0.6"/><circle cx="161.3" cy="155.0" r="0.6"/><circle cx="161.3" cy="147.0" r="0.6"/><circle cx="158.3" cy="152.7" r="0.6"/><circle cx="159.9" cy="148.1" r="0.6"/><circle cx="160.3" cy="154.6" r="0.6"/><circle cx="160.9" cy="153.2" r="0.6"/><circle cx="162.4" cy="148.1" r="0.6"/><circle cx="161.3" cy="149.1" r="0.6"/><circle cx="160.3" cy="150.8" r="0.6"/><circle cx="161.7" cy="146.9" r="0.6"/><circle cx="159.2" cy="154.3" r="0.6"/><circle cx="158.1" cy="153.3" r="0.6"/><circle cx="157.0" cy="146.4" r="0.6"/><circle cx="159.5" cy="145.9" r="0.6"/><circle cx="160.3" cy="148.8" r="0.6"/><circle cx="162.2" cy="150.4" r="0.6"/><circle cx="163.3" cy="151.2" r="0.6"/><circle cx="160.7" cy="146.9" r="0.6"/><circle cx="159.2" cy="147.4" r="0.6"/><circle cx="158.4" cy="151.8" r="0.6"/><circle cx="159.3" cy="153.4" r="0.6"/><circle cx="161.0" cy="154.1" r="0.6"/><circle cx="160.6" cy="152.0" r="0.6"/><circle cx="158.7" cy="152.7" r="0.6"/><circle cx="159.8" cy="152.9" r="0.6"/><circle cx="161.1" cy="146.5" r="0.6"/><circle cx="159.1" cy="153.3" r="0.6"/><circle cx="160.8" cy="152.9" r="0.6"/><circle cx="159.3" cy="150.2" r="0.6"/><circle cx="160.3" cy="153.2" r="0.6"/><circle cx="158.8" cy="151.5" r="0.6"/><circle cx="158.8" cy="147.3" r="0.6"/><circle cx="158.6" cy="154.8" r="0.6"/><circle cx="159.5" cy="154.7" r="0.6"/><circle cx="162.1" cy="148.0" r="0.6"/><circle cx="163.5" cy="151.9" r="0.6"/><circle cx="157.8" cy="150.7" r="0.6"/><circle cx="160.5" cy="152.4" r="0.6"/></g>
<g fill="#111" fill-opacity="1.0"><circle cx="155.3" cy="165.3" r="0.55"/><circle cx="158.0" cy="158.6" r="0.55"/><circle cx="159.5" cy="165.1" r="0.55"/><circle cx="155.4" cy="163.7" r="0.55"/><circle cx="159.9" cy="165.1" r="0.55"/><circle cx="153.6" cy="164.7" r="0.55"/><circle cx="155.0" cy="164.4" r="0.55"/><circle cx="158.5" cy="161.7" r="0.55"/><circle cx="160.2" cy="164.4" r="0.55"/><circle cx="161.0" cy="165.7" r="0.55"/><circle cx="157.6" cy="163.9" r="0.55"/><circle cx="158.4" cy="161.2" r="0.55"/></g>
<circle cx="190.70" cy="186.90" r="1.6" fill="#111"/>
<text x="194.7" y="188.9" font-size="6.49" fill="#2a2a2a" stroke="#2a2a2a" stroke-width="0.067">HSC</text>
<circle cx="190.70" cy="193.90" r="1.6" fill="#c77aa6"/>
<text x="194.7" y="196.0" font-size="6.49" fill="#2a2a2a" stroke="#2a2a2a" stroke-width="0.067">MEP</text>
<line x1="137.6" y1="212.9" x2="137.6" y2="189.9" stroke="#222" stroke-width="0.9"/>
<path d="M135.79999999999998,190.4 L137.6,186.9 L139.4,190.4 Z" fill="#222" stroke="none" stroke-width="0.7"/>
<line x1="137.6" y1="212.9" x2="160.1" y2="212.9" stroke="#222" stroke-width="0.9"/>
<path d="M159.6,211.1 L162.6,212.9 L159.6,214.70000000000002 Z" fill="#222" stroke="none" stroke-width="0.7"/>
<text x="133.9" y="197.5" font-size="7.26" fill="#222" text-anchor="middle" font-weight="bold" textLength="19" lengthAdjust="spacingAndGlyphs" transform="rotate(-90 133.9 197.5)" stroke="#222" stroke-width="0.102">UMAP2</text>
<text x="141" y="222.6" font-size="7.26" fill="#222" font-weight="bold" textLength="19.5" lengthAdjust="spacingAndGlyphs" stroke="#222" stroke-width="0.102">UMAP1</text>
<text x="231.3" y="107.4" font-size="10.3" fill="#111" font-weight="bold" stroke="#111" stroke-width="0.180">D</text>
<text x="310.8" y="117.2" font-size="8.25" fill="#222" textLength="144.6" lengthAdjust="spacingAndGlyphs" stroke="#222" stroke-width="0.146">HSC gene expression: <tspan fill="#3aaee0" stroke="#3aaee0" stroke-width="0.146">K666N</tspan> vs. <tspan fill="#f0a63c" stroke="#f0a63c" stroke-width="0.146">N626D</tspan></text>
<text x="319" y="124.4" font-size="5.83" fill="#222" textLength="118" lengthAdjust="spacingAndGlyphs" stroke="#222" stroke-width="0.037">6 diff. expressed genes in both 10X/TARGET seq</text>
<text x="279" y="134.8" font-size="6.05" fill="#333" text-anchor="middle" stroke="#333" stroke-width="0.047">ID2</text>
<text x="326" y="134.8" font-size="6.05" fill="#333" text-anchor="middle" stroke="#333" stroke-width="0.047">NFIB</text>
<text x="367" y="134.8" font-size="6.05" fill="#333" text-anchor="middle" stroke="#333" stroke-width="0.047">NR4A1</text>
<text x="411" y="134.8" font-size="6.05" fill="#333" text-anchor="middle" stroke="#333" stroke-width="0.047">PCDH9</text>
<text x="456.5" y="134.8" font-size="6.05" fill="#333" text-anchor="middle" stroke="#333" stroke-width="0.047">SKIL</text>
<text x="501" y="134.8" font-size="6.05" fill="#333" text-anchor="middle" stroke="#333" stroke-width="0.047">SMAD7</text>
<text x="250.0" y="151.6" font-size="6.16" fill="#333" text-anchor="end" stroke="#333" stroke-width="0.052">10X</text>
<text x="250.0" y="158.8" font-size="6.16" fill="#f0a63c" text-anchor="end" stroke="#f0a63c" stroke-width="0.052">M31</text>
<text x="250.0" y="166.4" font-size="6.16" fill="#3aaee0" text-anchor="end" stroke="#3aaee0" stroke-width="0.052">M116</text>
<text x="250.0" y="203.4" font-size="6.16" fill="#333" text-anchor="end" stroke="#333" stroke-width="0.052">TSeq</text>
<text x="250.0" y="211.1" font-size="6.16" fill="#f0a63c" text-anchor="end" stroke="#f0a63c" stroke-width="0.052">N626D</text>
<text x="250.0" y="217.8" font-size="6.16" fill="#3aaee0" text-anchor="end" stroke="#3aaee0" stroke-width="0.052">K666N</text>
<text x="250" y="184.8" font-size="6.16" fill="#333" stroke="#333" stroke-width="0.052">Adj. <tspan font-style="italic">P</tspan></text>
<text x="250" y="235.0" font-size="6.16" fill="#333" stroke="#333" stroke-width="0.052">Adj. <tspan font-style="italic">P</tspan></text>
<line x1="268.5" y1="141.5" x2="268.5" y2="173.9" stroke="#111" stroke-width="0.9"/>
<line x1="268.5" y1="173.9" x2="288" y2="173.9" stroke="#111" stroke-width="0.9"/>
<line x1="267.2" y1="172.2" x2="268.5" y2="172.2" stroke="#111" stroke-width="0.6"/>
<text x="266.3" y="174.0" font-size="5.72" fill="#333" text-anchor="end" stroke="#333" stroke-width="0.032">0</text>
<line x1="267.2" y1="164.1" x2="268.5" y2="164.1" stroke="#111" stroke-width="0.6"/>
<text x="266.3" y="165.9" font-size="5.72" fill="#333" text-anchor="end" stroke="#333" stroke-width="0.032">1</text>
<line x1="267.2" y1="156.0" x2="268.5" y2="156.0" stroke="#111" stroke-width="0.6"/>
<text x="266.3" y="157.8" font-size="5.72" fill="#333" text-anchor="end" stroke="#333" stroke-width="0.032">2</text>
<line x1="267.2" y1="147.89999999999998" x2="268.5" y2="147.89999999999998" stroke="#111" stroke-width="0.6"/>
<text x="266.3" y="149.7" font-size="5.72" fill="#333" text-anchor="end" stroke="#333" stroke-width="0.032">3</text>
<text x="255.3" y="157.7" font-size="7.15" fill="#2a2a2a" text-anchor="middle" font-weight="bold" textLength="40.5" lengthAdjust="spacingAndGlyphs" transform="rotate(-90 255.3 157.7)" stroke="#2a2a2a" stroke-width="0.097">Expression level</text>
<path d="M277.19,172.20 L277.72,169.77 L278.16,164.10 L277.81,158.43 L276.49,151.95 L275.08,146.28 L274.29,143.04 L274.11,143.04 L273.32,146.28 L271.91,151.95 L270.59,158.43 L270.24,164.10 L270.68,169.77 L271.21,172.20 Z" fill="#f39018" stroke="#f39018" stroke-width="0.3"/>
<line x1="283.2" y1="172.2" x2="283.2" y2="155.19" stroke="#aac8d8" stroke-width="0.6"/>
<path d="M285.40,172.20 L283.73,170.98 L283.29,169.77 L283.11,169.77 L282.67,170.98 L281.00,172.20 Z" fill="#2ea3d9" stroke="#2ea3d9" stroke-width="0.3"/>
<line x1="314.9" y1="141.5" x2="314.9" y2="173.9" stroke="#111" stroke-width="0.9"/>
<line x1="314.9" y1="173.9" x2="333" y2="173.9" stroke="#111" stroke-width="0.9"/>
<line x1="313.59999999999997" y1="172.2" x2="314.9" y2="172.2" stroke="#111" stroke-width="0.6"/>
<text x="312.7" y="174.0" font-size="5.72" fill="#333" text-anchor="end" stroke="#333" stroke-width="0.032">0.0</text>
<line x1="313.59999999999997" y1="164.975" x2="314.9" y2="164.975" stroke="#111" stroke-width="0.6"/>
<text x="312.7" y="166.775" font-size="5.72" fill="#333" text-anchor="end" stroke="#333" stroke-width="0.032">0.5</text>
<line x1="313.59999999999997" y1="157.75" x2="314.9" y2="157.75" stroke="#111" stroke-width="0.6"/>
<text x="312.7" y="159.55" font-size="5.72" fill="#333" text-anchor="end" stroke="#333" stroke-width="0.032">1.0</text>
<line x1="313.59999999999997" y1="150.52499999999998" x2="314.9" y2="150.52499999999998" stroke="#111" stroke-width="0.6"/>
<text x="312.7" y="152.325" font-size="5.72" fill="#333" text-anchor="end" stroke="#333" stroke-width="0.032">1.5</text>
<line x1="313.59999999999997" y1="143.29999999999998" x2="314.9" y2="143.29999999999998" stroke="#111" stroke-width="0.6"/>
<text x="312.7" y="145.1" font-size="5.72" fill="#333" text-anchor="end" stroke="#333" stroke-width="0.032">2.0</text>
<text x="298.0" y="157.7" font-size="7.15" fill="#2a2a2a" text-anchor="middle" font-weight="bold" textLength="40.5" lengthAdjust="spacingAndGlyphs" transform="rotate(-90 298.0 157.7)" stroke="#2a2a2a" stroke-width="0.097">Expression level</text>
<path d="M323.68,172.20 L323.42,170.03 L322.01,167.14 L321.30,162.08 L320.95,153.41 L320.73,143.30 L320.47,143.30 L320.25,153.41 L319.90,162.08 L319.19,167.14 L317.78,170.03 L317.52,172.20 Z" fill="#f39018" stroke="#f39018" stroke-width="0.3"/>
<line x1="330" y1="172.2" x2="330" y2="143.29999999999998" stroke="#c8c8c8" stroke-width="0.6"/>
<line x1="356.8" y1="141.5" x2="356.8" y2="173.9" stroke="#111" stroke-width="0.9"/>
<line x1="356.8" y1="173.9" x2="377.2" y2="173.9" stroke="#111" stroke-width="0.9"/>
<line x1="355.5" y1="172.2" x2="356.8" y2="172.2" stroke="#111" stroke-width="0.6"/>
<text x="354.6" y="174.0" font-size="5.72" fill="#333" text-anchor="end" stroke="#333" stroke-width="0.032">0</text>
<line x1="355.5" y1="163.5" x2="356.8" y2="163.5" stroke="#111" stroke-width="0.6"/>
<text x="354.6" y="165.3" font-size="5.72" fill="#333" text-anchor="end" stroke="#333" stroke-width="0.032">1</text>
<line x1="355.5" y1="154.79999999999998" x2="356.8" y2="154.79999999999998" stroke="#111" stroke-width="0.6"/>
<text x="354.6" y="156.6" font-size="5.72" fill="#333" text-anchor="end" stroke="#333" stroke-width="0.032">2</text>
<line x1="355.5" y1="146.1" x2="356.8" y2="146.1" stroke="#111" stroke-width="0.6"/>
<text x="354.6" y="147.9" font-size="5.72" fill="#333" text-anchor="end" stroke="#333" stroke-width="0.032">3</text>
<text x="345.59999999999997" y="157.7" font-size="7.15" fill="#2a2a2a" text-anchor="middle" font-weight="bold" textLength="40.5" lengthAdjust="spacingAndGlyphs" transform="rotate(-90 345.59999999999997 157.7)" stroke="#2a2a2a" stroke-width="0.097">Expression level</text>
<path d="M364.44,172.20 L365.84,167.85 L366.72,160.89 L365.67,154.80 L363.91,147.84 L362.59,142.62 L362.41,142.62 L361.09,147.84 L359.33,154.80 L358.28,160.89 L359.16,167.85 L360.56,172.20 Z" fill="#f39018" stroke="#f39018" stroke-width="0.3"/>
<path d="M375.34,172.20 L374.64,169.59 L373.41,165.24 L372.70,160.02 L372.09,153.93 L371.91,153.93 L371.30,160.02 L370.59,165.24 L369.36,169.59 L368.66,172.20 Z" fill="#2ea3d9" stroke="#2ea3d9" stroke-width="0.3"/>
<line x1="399.7" y1="141.5" x2="399.7" y2="173.9" stroke="#111" stroke-width="0.9"/>
<line x1="399.7" y1="173.9" x2="420" y2="173.9" stroke="#111" stroke-width="0.9"/>
<line x1="398.4" y1="172.2" x2="399.7" y2="172.2" stroke="#111" stroke-width="0.6"/>
<text x="397.5" y="174.0" font-size="5.72" fill="#333" text-anchor="end" stroke="#333" stroke-width="0.032">0</text>
<line x1="398.4" y1="161.29999999999998" x2="399.7" y2="161.29999999999998" stroke="#111" stroke-width="0.6"/>
<text x="397.5" y="163.1" font-size="5.72" fill="#333" text-anchor="end" stroke="#333" stroke-width="0.032">1</text>
<line x1="398.4" y1="150.39999999999998" x2="399.7" y2="150.39999999999998" stroke="#111" stroke-width="0.6"/>
<text x="397.5" y="152.2" font-size="5.72" fill="#333" text-anchor="end" stroke="#333" stroke-width="0.032">2</text>
<text x="387.79999999999995" y="157.7" font-size="7.15" fill="#2a2a2a" text-anchor="middle" font-weight="bold" textLength="40.5" lengthAdjust="spacingAndGlyphs" transform="rotate(-90 387.79999999999995 157.7)" stroke="#2a2a2a" stroke-width="0.097">Expression level</text>
<path d="M407.01,172.20 L407.72,166.75 L408.24,159.12 L407.01,153.67 L405.08,149.85 L404.72,149.85 L402.79,153.67 L401.56,159.12 L402.08,166.75 L402.79,172.20 Z" fill="#f39018" stroke="#f39018" stroke-width="0.3"/>
<path d="M416.29,172.20 L417.34,165.66 L418.14,158.03 L416.46,150.40 L414.18,143.31 L413.82,143.31 L411.54,150.40 L409.86,158.03 L410.66,165.66 L411.71,172.20 Z" fill="#2ea3d9" stroke="#2ea3d9" stroke-width="0.3"/>
<line x1="446.4" y1="141.5" x2="446.4" y2="173.9" stroke="#111" stroke-width="0.9"/>
<line x1="446.4" y1="173.9" x2="465.5" y2="173.9" stroke="#111" stroke-width="0.9"/>
<line x1="445.09999999999997" y1="172.2" x2="446.4" y2="172.2" stroke="#111" stroke-width="0.6"/>
<text x="444.2" y="174.0" font-size="5.72" fill="#333" text-anchor="end" stroke="#333" stroke-width="0.032">0</text>
<line x1="445.09999999999997" y1="162.2" x2="446.4" y2="162.2" stroke="#111" stroke-width="0.6"/>
<text x="444.2" y="164.0" font-size="5.72" fill="#333" text-anchor="end" stroke="#333" stroke-width="0.032">1</text>
<line x1="445.09999999999997" y1="152.2" x2="446.4" y2="152.2" stroke="#111" stroke-width="0.6"/>
<text x="444.2" y="154.0" font-size="5.72" fill="#333" text-anchor="end" stroke="#333" stroke-width="0.032">2</text>
<line x1="445.09999999999997" y1="142.2" x2="446.4" y2="142.2" stroke="#111" stroke-width="0.6"/>
<text x="444.2" y="144.0" font-size="5.72" fill="#333" text-anchor="end" stroke="#333" stroke-width="0.032">3</text>
<text x="435.0" y="157.7" font-size="7.15" fill="#2a2a2a" text-anchor="middle" font-weight="bold" textLength="40.5" lengthAdjust="spacingAndGlyphs" transform="rotate(-90 435.0 157.7)" stroke="#2a2a2a" stroke-width="0.097">Expression level</text>
<path d="M452.26,172.20 L454.46,167.20 L455.96,159.20 L454.82,151.20 L452.18,142.20 L451.82,142.20 L449.18,151.20 L448.04,159.20 L449.54,167.20 L451.74,172.20 Z" fill="#f39018" stroke="#f39018" stroke-width="0.3"/>
<path d="M464.43,172.20 L463.11,170.70 L462.32,167.20 L461.79,159.70 L461.61,159.70 L461.08,167.20 L460.29,170.70 L458.97,172.20 Z" fill="#2ea3d9" stroke="#2ea3d9" stroke-width="0.3"/>
<line x1="493.1" y1="141.5" x2="493.1" y2="173.9" stroke="#111" stroke-width="0.9"/>
<line x1="493.1" y1="173.9" x2="512" y2="173.9" stroke="#111" stroke-width="0.9"/>
<line x1="491.8" y1="172.2" x2="493.1" y2="172.2" stroke="#111" stroke-width="0.6"/>
<text x="490.90000000000003" y="174.0" font-size="5.72" fill="#333" text-anchor="end" stroke="#333" stroke-width="0.032">0.0</text>
<line x1="491.8" y1="164.975" x2="493.1" y2="164.975" stroke="#111" stroke-width="0.6"/>
<text x="490.90000000000003" y="166.775" font-size="5.72" fill="#333" text-anchor="end" stroke="#333" stroke-width="0.032">0.5</text>
<line x1="491.8" y1="157.75" x2="493.1" y2="157.75" stroke="#111" stroke-width="0.6"/>
<text x="490.90000000000003" y="159.55" font-size="5.72" fill="#333" text-anchor="end" stroke="#333" stroke-width="0.032">1.0</text>
<line x1="491.8" y1="150.52499999999998" x2="493.1" y2="150.52499999999998" stroke="#111" stroke-width="0.6"/>
<text x="490.90000000000003" y="152.325" font-size="5.72" fill="#333" text-anchor="end" stroke="#333" stroke-width="0.032">1.5</text>
<line x1="491.8" y1="143.29999999999998" x2="493.1" y2="143.29999999999998" stroke="#111" stroke-width="0.6"/>
<text x="490.90000000000003" y="145.1" font-size="5.72" fill="#333" text-anchor="end" stroke="#333" stroke-width="0.032">2.0</text>
<text x="478.2" y="157.7" font-size="7.15" fill="#2a2a2a" text-anchor="middle" font-weight="bold" textLength="40.5" lengthAdjust="spacingAndGlyphs" transform="rotate(-90 478.2 157.7)" stroke="#2a2a2a" stroke-width="0.097">Expression level</text>
<path d="M501.98,172.20 L501.72,169.31 L500.48,166.42 L499.60,160.64 L499.25,151.97 L499.03,143.30 L498.77,143.30 L498.55,151.97 L498.20,160.64 L497.32,166.42 L496.08,169.31 L495.82,172.20 Z" fill="#f39018" stroke="#f39018" stroke-width="0.3"/>
<line x1="508.4" y1="172.2" x2="508.4" y2="155.58249999999998" stroke="#c8c8c8" stroke-width="0.6"/>
<text x="279" y="184.8" font-size="6.16" fill="#333" text-anchor="middle" stroke="#333" stroke-width="0.052">&lt; .001</text>
<text x="326" y="184.8" font-size="6.16" fill="#333" text-anchor="middle" stroke="#333" stroke-width="0.052">.002</text>
<text x="367" y="184.8" font-size="6.16" fill="#333" text-anchor="middle" stroke="#333" stroke-width="0.052">&lt; .001</text>
<text x="409" y="184.8" font-size="6.16" fill="#333" text-anchor="middle" stroke="#333" stroke-width="0.052">.012</text>
<text x="456.5" y="184.8" font-size="6.16" fill="#333" text-anchor="middle" stroke="#333" stroke-width="0.052">&lt; .001</text>
<text x="501.5" y="184.8" font-size="6.16" fill="#333" text-anchor="middle" stroke="#333" stroke-width="0.052">&lt; .001</text>
<line x1="268.5" y1="194.2" x2="268.5" y2="223.5" stroke="#111" stroke-width="0.9"/>
<line x1="268.5" y1="223.5" x2="288" y2="223.5" stroke="#111" stroke-width="0.9"/>
<line x1="267.2" y1="222.1" x2="268.5" y2="222.1" stroke="#111" stroke-width="0.6"/>
<text x="266.3" y="223.9" font-size="5.72" fill="#333" text-anchor="end" stroke="#333" stroke-width="0.032">0</text>
<line x1="267.2" y1="211.9" x2="268.5" y2="211.9" stroke="#111" stroke-width="0.6"/>
<text x="266.3" y="213.70000000000002" font-size="5.72" fill="#333" text-anchor="end" stroke="#333" stroke-width="0.032">2</text>
<line x1="267.2" y1="201.7" x2="268.5" y2="201.7" stroke="#111" stroke-width="0.6"/>
<text x="266.3" y="203.5" font-size="5.72" fill="#333" text-anchor="end" stroke="#333" stroke-width="0.032">4</text>
<text x="256.0" y="210" font-size="7.15" fill="#2a2a2a" text-anchor="middle" font-weight="bold" textLength="40.5" lengthAdjust="spacingAndGlyphs" transform="rotate(-90 256.0 210)" stroke="#2a2a2a" stroke-width="0.097">Expression level</text>
<path d="M277.02,222.10 L276.31,220.57 L275.26,218.02 L275.43,214.96 L276.14,210.88 L275.61,207.31 L274.33,204.76 L274.07,204.76 L272.79,207.31 L272.26,210.88 L272.97,214.96 L273.14,218.02 L272.09,220.57 L271.38,222.10 Z" fill="#f39018" stroke="#f39018" stroke-width="0.3"/>
<path d="M285.72,222.10 L285.01,220.57 L283.96,218.02 L284.57,215.47 L283.87,210.88 L283.25,206.80 L283.08,199.15 L282.99,194.05 L282.81,194.05 L282.72,199.15 L282.55,206.80 L281.93,210.88 L281.23,215.47 L281.84,218.02 L280.79,220.57 L280.08,222.10 Z" fill="#2ea3d9" stroke="#2ea3d9" stroke-width="0.3"/>
<line x1="315.4" y1="194.2" x2="315.4" y2="223.5" stroke="#111" stroke-width="0.9"/>
<line x1="315.4" y1="223.5" x2="335.6" y2="223.5" stroke="#111" stroke-width="0.9"/>
<line x1="314.09999999999997" y1="222.1" x2="315.4" y2="222.1" stroke="#111" stroke-width="0.6"/>
<text x="313.2" y="223.9" font-size="5.72" fill="#333" text-anchor="end" stroke="#333" stroke-width="0.032">0</text>
<line x1="314.09999999999997" y1="212.7" x2="315.4" y2="212.7" stroke="#111" stroke-width="0.6"/>
<text x="313.2" y="214.5" font-size="5.72" fill="#333" text-anchor="end" stroke="#333" stroke-width="0.032">1</text>
<line x1="314.09999999999997" y1="203.29999999999998" x2="315.4" y2="203.29999999999998" stroke="#111" stroke-width="0.6"/>
<text x="313.2" y="205.1" font-size="5.72" fill="#333" text-anchor="end" stroke="#333" stroke-width="0.032">2</text>
<line x1="314.09999999999997" y1="193.89999999999998" x2="315.4" y2="193.89999999999998" stroke="#111" stroke-width="0.6"/>
<text x="313.2" y="195.7" font-size="5.72" fill="#333" text-anchor="end" stroke="#333" stroke-width="0.032">3</text>
<text x="301.59999999999997" y="210" font-size="7.15" fill="#2a2a2a" text-anchor="middle" font-weight="bold" textLength="40.5" lengthAdjust="spacingAndGlyphs" transform="rotate(-90 301.59999999999997 210)" stroke="#2a2a2a" stroke-width="0.097">Expression level</text>
<path d="M324.50,222.10 L324.14,220.69 L322.12,218.81 L321.24,214.58 L320.93,195.78 L320.67,195.78 L320.36,214.58 L319.48,218.81 L317.46,220.69 L317.10,222.10 Z" fill="#e7a24c" stroke="#e7a24c" stroke-width="0.3"/>
<path d="M333.02,222.10 L329.94,220.97 L329.06,220.97 L325.98,222.10 Z" fill="#5a86a8" stroke="#5a86a8" stroke-width="0.3"/>
<line x1="357.3" y1="194.2" x2="357.3" y2="223.5" stroke="#111" stroke-width="0.9"/>
<line x1="357.3" y1="223.5" x2="377.2" y2="223.5" stroke="#111" stroke-width="0.9"/>
<line x1="356.0" y1="222.1" x2="357.3" y2="222.1" stroke="#111" stroke-width="0.6"/>
<text x="355.1" y="223.9" font-size="5.72" fill="#333" text-anchor="end" stroke="#333" stroke-width="0.032">0</text>
<line x1="356.0" y1="215.5" x2="357.3" y2="215.5" stroke="#111" stroke-width="0.6"/>
<text x="355.1" y="217.3" font-size="5.72" fill="#333" text-anchor="end" stroke="#333" stroke-width="0.032">1</text>
<line x1="356.0" y1="208.9" x2="357.3" y2="208.9" stroke="#111" stroke-width="0.6"/>
<text x="355.1" y="210.70000000000002" font-size="5.72" fill="#333" text-anchor="end" stroke="#333" stroke-width="0.032">2</text>
<line x1="356.0" y1="202.3" x2="357.3" y2="202.3" stroke="#111" stroke-width="0.6"/>
<text x="355.1" y="204.10000000000002" font-size="5.72" fill="#333" text-anchor="end" stroke="#333" stroke-width="0.032">3</text>
<line x1="356.0" y1="195.7" x2="357.3" y2="195.7" stroke="#111" stroke-width="0.6"/>
<text x="355.1" y="197.5" font-size="5.72" fill="#333" text-anchor="end" stroke="#333" stroke-width="0.032">4</text>
<text x="347.2" y="210" font-size="7.15" fill="#2a2a2a" text-anchor="middle" font-weight="bold" textLength="40.5" lengthAdjust="spacingAndGlyphs" transform="rotate(-90 347.2 210)" stroke="#2a2a2a" stroke-width="0.097">Expression level</text>
<path d="M365.49,222.10 L364.79,219.46 L363.73,214.84 L363.91,210.22 L364.61,204.94 L364.08,200.32 L362.63,195.70 L362.37,195.70 L360.92,200.32 L360.39,204.94 L361.09,210.22 L361.27,214.84 L360.21,219.46 L359.51,222.10 Z" fill="#f39018" stroke="#f39018" stroke-width="0.3"/>
<path d="M374.82,222.10 L374.11,219.46 L372.88,215.50 L372.70,210.22 L372.44,204.94 L372.09,197.68 L371.91,197.68 L371.56,204.94 L371.30,210.22 L371.12,215.50 L369.89,219.46 L369.18,222.10 Z" fill="#2ea3d9" stroke="#2ea3d9" stroke-width="0.3"/>
<line x1="398.8" y1="194.2" x2="398.8" y2="223.5" stroke="#111" stroke-width="0.9"/>
<line x1="398.8" y1="223.5" x2="420" y2="223.5" stroke="#111" stroke-width="0.9"/>
<line x1="397.5" y1="222.1" x2="398.8" y2="222.1" stroke="#111" stroke-width="0.6"/>
<text x="396.6" y="223.9" font-size="5.72" fill="#333" text-anchor="end" stroke="#333" stroke-width="0.032">0</text>
<line x1="397.5" y1="215.5" x2="398.8" y2="215.5" stroke="#111" stroke-width="0.6"/>
<text x="396.6" y="217.3" font-size="5.72" fill="#333" text-anchor="end" stroke="#333" stroke-width="0.032">1</text>
<line x1="397.5" y1="208.9" x2="398.8" y2="208.9" stroke="#111" stroke-width="0.6"/>
<text x="396.6" y="210.70000000000002" font-size="5.72" fill="#333" text-anchor="end" stroke="#333" stroke-width="0.032">2</text>
<line x1="397.5" y1="202.3" x2="398.8" y2="202.3" stroke="#111" stroke-width="0.6"/>
<text x="396.6" y="204.10000000000002" font-size="5.72" fill="#333" text-anchor="end" stroke="#333" stroke-width="0.032">3</text>
<line x1="397.5" y1="195.7" x2="398.8" y2="195.7" stroke="#111" stroke-width="0.6"/>
<text x="396.6" y="197.5" font-size="5.72" fill="#333" text-anchor="end" stroke="#333" stroke-width="0.032">4</text>
<text x="388.4" y="210" font-size="7.15" fill="#2a2a2a" text-anchor="middle" font-weight="bold" textLength="40.5" lengthAdjust="spacingAndGlyphs" transform="rotate(-90 388.4 210)" stroke="#2a2a2a" stroke-width="0.097">Expression level</text>
<line x1="404.9" y1="222.1" x2="404.9" y2="197.68" stroke="#c0c0c0" stroke-width="0.6"/>
<path d="M407.10,222.10 L405.34,221.44 L404.46,221.44 L402.70,222.10 Z" fill="#b98b5a" stroke="#b98b5a" stroke-width="0.3"/>
<path d="M416.82,222.10 L416.11,219.46 L414.97,215.50 L415.67,210.22 L415.32,204.28 L414.53,199.66 L414.09,195.70 L413.91,195.70 L413.47,199.66 L412.68,204.28 L412.33,210.22 L413.03,215.50 L411.89,219.46 L411.18,222.10 Z" fill="#2ea3d9" stroke="#2ea3d9" stroke-width="0.3"/>
<line x1="446.4" y1="194.2" x2="446.4" y2="223.5" stroke="#111" stroke-width="0.9"/>
<line x1="446.4" y1="223.5" x2="465.5" y2="223.5" stroke="#111" stroke-width="0.9"/>
<line x1="445.09999999999997" y1="222.1" x2="446.4" y2="222.1" stroke="#111" stroke-width="0.6"/>
<text x="444.2" y="223.9" font-size="5.72" fill="#333" text-anchor="end" stroke="#333" stroke-width="0.032">0</text>
<line x1="445.09999999999997" y1="216.85" x2="446.4" y2="216.85" stroke="#111" stroke-width="0.6"/>
<text x="444.2" y="218.65" font-size="5.72" fill="#333" text-anchor="end" stroke="#333" stroke-width="0.032">0.5</text>
<line x1="445.09999999999997" y1="211.6" x2="446.4" y2="211.6" stroke="#111" stroke-width="0.6"/>
<text x="444.2" y="213.4" font-size="5.72" fill="#333" text-anchor="end" stroke="#333" stroke-width="0.032">1.0</text>
<line x1="445.09999999999997" y1="206.35" x2="446.4" y2="206.35" stroke="#111" stroke-width="0.6"/>
<text x="444.2" y="208.15" font-size="5.72" fill="#333" text-anchor="end" stroke="#333" stroke-width="0.032">1.5</text>
<line x1="445.09999999999997" y1="201.1" x2="446.4" y2="201.1" stroke="#111" stroke-width="0.6"/>
<text x="444.2" y="202.9" font-size="5.72" fill="#333" text-anchor="end" stroke="#333" stroke-width="0.032">2.0</text>
<line x1="445.09999999999997" y1="195.85" x2="446.4" y2="195.85" stroke="#111" stroke-width="0.6"/>
<text x="444.2" y="197.65" font-size="5.72" fill="#333" text-anchor="end" stroke="#333" stroke-width="0.032">2.5</text>
<text x="432.2" y="210" font-size="7.15" fill="#2a2a2a" text-anchor="middle" font-weight="bold" textLength="40.5" lengthAdjust="spacingAndGlyphs" transform="rotate(-90 432.2 210)" stroke="#2a2a2a" stroke-width="0.097">Expression level</text>
<path d="M455.08,222.10 L454.82,217.90 L454.02,213.70 L455.34,207.40 L453.41,201.10 L452.18,195.85 L451.82,195.85 L450.59,201.10 L448.66,207.40 L449.98,213.70 L449.18,217.90 L448.92,222.10 Z" fill="#f39018" stroke="#f39018" stroke-width="0.3"/>
<path d="M464.43,222.10 L463.99,217.90 L462.93,211.60 L462.40,205.30 L461.79,199.00 L461.61,199.00 L461.00,205.30 L460.47,211.60 L459.41,217.90 L458.97,222.10 Z" fill="#2ea3d9" stroke="#2ea3d9" stroke-width="0.3"/>
<line x1="491.4" y1="194.2" x2="491.4" y2="223.5" stroke="#111" stroke-width="0.9"/>
<line x1="491.4" y1="223.5" x2="513" y2="223.5" stroke="#111" stroke-width="0.9"/>
<line x1="490.09999999999997" y1="222.1" x2="491.4" y2="222.1" stroke="#111" stroke-width="0.6"/>
<text x="489.2" y="223.9" font-size="5.72" fill="#333" text-anchor="end" stroke="#333" stroke-width="0.032">0.0</text>
<line x1="490.09999999999997" y1="215.525" x2="491.4" y2="215.525" stroke="#111" stroke-width="0.6"/>
<text x="489.2" y="217.32500000000002" font-size="5.72" fill="#333" text-anchor="end" stroke="#333" stroke-width="0.032">0.5</text>
<line x1="490.09999999999997" y1="208.95" x2="491.4" y2="208.95" stroke="#111" stroke-width="0.6"/>
<text x="489.2" y="210.75" font-size="5.72" fill="#333" text-anchor="end" stroke="#333" stroke-width="0.032">1.0</text>
<line x1="490.09999999999997" y1="202.375" x2="491.4" y2="202.375" stroke="#111" stroke-width="0.6"/>
<text x="489.2" y="204.175" font-size="5.72" fill="#333" text-anchor="end" stroke="#333" stroke-width="0.032">1.5</text>
<line x1="490.09999999999997" y1="195.79999999999998" x2="491.4" y2="195.79999999999998" stroke="#111" stroke-width="0.6"/>
<text x="489.2" y="197.6" font-size="5.72" fill="#333" text-anchor="end" stroke="#333" stroke-width="0.032">2.0</text>
<text x="476.79999999999995" y="210" font-size="7.15" fill="#2a2a2a" text-anchor="middle" font-weight="bold" textLength="40.5" lengthAdjust="spacingAndGlyphs" transform="rotate(-90 476.79999999999995 210)" stroke="#2a2a2a" stroke-width="0.097">Expression level</text>
<line x1="498.9" y1="222.1" x2="498.9" y2="194.48499999999999" stroke="#c8c8c8" stroke-width="0.6"/>
<line x1="508.4" y1="222.1" x2="508.4" y2="194.48499999999999" stroke="#c8c8c8" stroke-width="0.6"/>
<text x="279.4" y="235.2" font-size="6.16" fill="#333" text-anchor="middle" stroke="#333" stroke-width="0.052">.019</text>
<text x="325.3" y="235.2" font-size="6.16" fill="#333" text-anchor="middle" stroke="#333" stroke-width="0.052">&lt; .001</text>
<text x="367.7" y="235.2" font-size="6.16" fill="#333" text-anchor="middle" stroke="#333" stroke-width="0.052">.038</text>
<text x="409.2" y="235.2" font-size="6.16" fill="#333" text-anchor="middle" stroke="#333" stroke-width="0.052">.007</text>
<text x="456.8" y="235.2" font-size="6.16" fill="#333" text-anchor="middle" stroke="#333" stroke-width="0.052">.006</text>
<text x="503.5" y="235.2" font-size="6.16" fill="#333" text-anchor="middle" stroke="#333" stroke-width="0.052">.05</text>
<text x="41.2" y="259.8" font-size="10.3" fill="#111" font-weight="bold" stroke="#111" stroke-width="0.180">E</text>
<text x="91.3" y="272.4" font-size="7.70" fill="#222" textLength="103.7" lengthAdjust="spacingAndGlyphs" stroke="#222" stroke-width="0.121">HSC splicing: <tspan fill="#3aaee0" stroke="#3aaee0" stroke-width="0.121">K666N</tspan> vs. <tspan fill="#f0a63c" stroke="#f0a63c" stroke-width="0.121">N626D</tspan></text>
<text x="108.2" y="282.0" font-size="7.70" fill="#222" textLength="72" lengthAdjust="spacingAndGlyphs" stroke="#222" stroke-width="0.121">156 cryptic transcripts</text>
<line x1="79.6" y1="399.94" x2="201.10000000000002" y2="278.79999999999995" stroke="#9a9a9a" stroke-width="0.9" stroke-dasharray="1.1,1.6"/>
<line x1="79.6" y1="413.4" x2="211.9" y2="281.49199999999996" stroke="#e6e6e6" stroke-width="1.2"/>
<line x1="93.1" y1="413.4" x2="214.6" y2="292.26" stroke="#9a9a9a" stroke-width="0.9" stroke-dasharray="1.1,1.6"/>
<line x1="79.6" y1="276.5" x2="79.6" y2="413.8" stroke="#222" stroke-width="1.1"/>
<line x1="79.2" y1="413.4" x2="216.8" y2="413.4" stroke="#222" stroke-width="1.1"/>
<line x1="77.6" y1="413.4" x2="79.6" y2="413.4" stroke="#333" stroke-width="0.7"/>
<text x="74.6" y="415.9" font-size="7.92" fill="#333" text-anchor="end" stroke="#333" stroke-width="0.131">0</text>
<line x1="79.6" y1="413.4" x2="79.6" y2="415.4" stroke="#333" stroke-width="0.7"/>
<text x="79.6" y="425.8" font-size="7.92" fill="#333" text-anchor="middle" stroke="#333" stroke-width="0.131">0</text>
<line x1="77.6" y1="386.47999999999996" x2="79.6" y2="386.47999999999996" stroke="#333" stroke-width="0.7"/>
<text x="74.6" y="388.97999999999996" font-size="7.92" fill="#333" text-anchor="end" stroke="#333" stroke-width="0.131">20</text>
<line x1="106.6" y1="413.4" x2="106.6" y2="415.4" stroke="#333" stroke-width="0.7"/>
<text x="106.6" y="425.8" font-size="7.92" fill="#333" text-anchor="middle" stroke="#333" stroke-width="0.131">20</text>
<line x1="77.6" y1="359.55999999999995" x2="79.6" y2="359.55999999999995" stroke="#333" stroke-width="0.7"/>
<text x="74.6" y="362.05999999999995" font-size="7.92" fill="#333" text-anchor="end" stroke="#333" stroke-width="0.131">40</text>
<line x1="133.6" y1="413.4" x2="133.6" y2="415.4" stroke="#333" stroke-width="0.7"/>
<text x="133.6" y="425.8" font-size="7.92" fill="#333" text-anchor="middle" stroke="#333" stroke-width="0.131">40</text>
<line x1="77.6" y1="332.64" x2="79.6" y2="332.64" stroke="#333" stroke-width="0.7"/>
<text x="74.6" y="335.14" font-size="7.92" fill="#333" text-anchor="end" stroke="#333" stroke-width="0.131">60</text>
<line x1="160.6" y1="413.4" x2="160.6" y2="415.4" stroke="#333" stroke-width="0.7"/>
<text x="160.6" y="425.8" font-size="7.92" fill="#333" text-anchor="middle" stroke="#333" stroke-width="0.131">60</text>
<line x1="77.6" y1="305.71999999999997" x2="79.6" y2="305.71999999999997" stroke="#333" stroke-width="0.7"/>
<text x="74.6" y="308.21999999999997" font-size="7.92" fill="#333" text-anchor="end" stroke="#333" stroke-width="0.131">80</text>
<line x1="187.6" y1="413.4" x2="187.6" y2="415.4" stroke="#333" stroke-width="0.7"/>
<text x="187.6" y="425.8" font-size="7.92" fill="#333" text-anchor="middle" stroke="#333" stroke-width="0.131">80</text>
<line x1="77.6" y1="278.79999999999995" x2="79.6" y2="278.79999999999995" stroke="#333" stroke-width="0.7"/>
<text x="74.6" y="281.29999999999995" font-size="7.92" fill="#333" text-anchor="end" stroke="#333" stroke-width="0.131">100</text>
<line x1="214.6" y1="413.4" x2="214.6" y2="415.4" stroke="#333" stroke-width="0.7"/>
<text x="214.6" y="425.8" font-size="7.92" fill="#333" text-anchor="middle" stroke="#333" stroke-width="0.131">100</text>
<text x="56.2" y="345" font-size="8.80" fill="#222" font-weight="bold" text-anchor="middle" transform="rotate(-90 56.2 345)" textLength="98" lengthAdjust="spacingAndGlyphs" stroke="#222" stroke-width="0.171">Cryptic event dPSI (<tspan fill="#f0a63c" stroke="#f0a63c" stroke-width="0.171">N626D</tspan> - NBM)</text>
<text x="99.8" y="439.2" font-size="8.80" fill="#222" font-weight="bold" textLength="96.2" lengthAdjust="spacingAndGlyphs" stroke="#222" stroke-width="0.171">Cryptic event dPSI (<tspan fill="#3aaee0" stroke="#3aaee0" stroke-width="0.171">K666N</tspan> - NBM)</text>
<g><circle cx="80.4" cy="370.2" r="1.3" fill="#f39c1f"/><circle cx="88.1" cy="368.2" r="1.3" fill="#f39c1f"/><circle cx="87.4" cy="374.9" r="1.3" fill="#f39c1f"/><circle cx="94.2" cy="378.3" r="1.3" fill="#f39c1f"/><circle cx="86.7" cy="379.6" r="1.3" fill="#f39c1f"/><circle cx="82.7" cy="382.3" r="1.3" fill="#f39c1f"/><circle cx="94.8" cy="384.3" r="1.3" fill="#f39c1f"/><circle cx="86.1" cy="386.3" r="1.3" fill="#f39c1f"/><circle cx="80.7" cy="389.0" r="1.3" fill="#f39c1f"/><circle cx="83.4" cy="390.4" r="1.3" fill="#f39c1f"/><circle cx="92.1" cy="389.0" r="1.3" fill="#f39c1f"/><circle cx="102.2" cy="390.4" r="1.3" fill="#f39c1f"/><circle cx="106.9" cy="393.1" r="1.3" fill="#f39c1f"/><circle cx="98.2" cy="393.7" r="1.3" fill="#f39c1f"/><circle cx="86.1" cy="395.8" r="1.3" fill="#f39c1f"/><circle cx="94.2" cy="395.8" r="1.3" fill="#f39c1f"/><circle cx="113.0" cy="396.4" r="1.3" fill="#f39c1f"/><circle cx="114.3" cy="386.3" r="1.3" fill="#f39c1f"/><circle cx="118.4" cy="383.6" r="1.3" fill="#f39c1f"/><circle cx="114.3" cy="374.2" r="1.3" fill="#f39c1f"/><circle cx="112.3" cy="368.8" r="1.3" fill="#f39c1f"/><circle cx="118.4" cy="369.5" r="1.3" fill="#f39c1f"/><circle cx="125.1" cy="372.2" r="1.3" fill="#f39c1f"/><circle cx="122.4" cy="374.9" r="1.3" fill="#f39c1f"/><circle cx="100.9" cy="381.0" r="1.3" fill="#f39c1f"/><circle cx="104.9" cy="380.3" r="1.3" fill="#f39c1f"/><circle cx="109.0" cy="391.7" r="1.3" fill="#f39c1f"/><circle cx="115.7" cy="393.1" r="1.3" fill="#f39c1f"/><circle cx="82.7" cy="403.8" r="1.3" fill="#f39c1f"/><circle cx="83.4" cy="399.8" r="1.3" fill="#f39c1f"/><circle cx="86.7" cy="402.5" r="1.3" fill="#f39c1f"/><circle cx="92.8" cy="405.2" r="1.3" fill="#f39c1f"/><circle cx="99.5" cy="407.2" r="1.3" fill="#f39c1f"/><circle cx="109.6" cy="401.8" r="1.3" fill="#f39c1f"/><circle cx="121.1" cy="406.5" r="1.3" fill="#f39c1f"/><circle cx="94.2" cy="410.6" r="1.3" fill="#f39c1f"/><circle cx="99.5" cy="411.2" r="1.3" fill="#f39c1f"/><circle cx="88.8" cy="411.9" r="1.3" fill="#f39c1f"/><circle cx="110.3" cy="413.3" r="1.3" fill="#f39c1f"/><circle cx="121.1" cy="412.6" r="1.3" fill="#f39c1f"/><circle cx="131.8" cy="413.3" r="1.3" fill="#f39c1f"/><circle cx="139.9" cy="413.3" r="1.3" fill="#f39c1f"/><circle cx="96.8" cy="409.2" r="1.3" fill="#f39c1f"/><circle cx="91.5" cy="409.2" r="1.3" fill="#f39c1f"/><circle cx="80.7" cy="393.1" r="1.3" fill="#f39c1f"/><circle cx="80.0" cy="386.3" r="1.3" fill="#f39c1f"/><circle cx="80.0" cy="380.3" r="1.3" fill="#1f4f8f"/><circle cx="81.4" cy="396.4" r="1.3" fill="#1f4f8f"/><circle cx="80.0" cy="399.8" r="1.3" fill="#1f4f8f"/><circle cx="99.5" cy="383.6" r="1.3" fill="#1f4f8f"/><circle cx="104.9" cy="385.7" r="1.3" fill="#1f4f8f"/><circle cx="97.5" cy="391.7" r="1.3" fill="#1f4f8f"/><circle cx="101.6" cy="396.4" r="1.3" fill="#1f4f8f"/><circle cx="117.0" cy="375.6" r="1.3" fill="#1f4f8f"/><circle cx="112.3" cy="381.6" r="1.3" fill="#1f4f8f"/><circle cx="109.6" cy="366.2" r="1.3" fill="#1f4f8f"/><circle cx="118.4" cy="391.7" r="1.3" fill="#1f4f8f"/><circle cx="128.5" cy="389.0" r="1.3" fill="#1f4f8f"/><circle cx="95.5" cy="402.5" r="1.3" fill="#1f4f8f"/><circle cx="104.2" cy="405.2" r="1.3" fill="#1f4f8f"/><circle cx="92.1" cy="406.5" r="1.3" fill="#1f4f8f"/><circle cx="105.6" cy="411.2" r="1.3" fill="#1f4f8f"/><circle cx="90.8" cy="413.3" r="1.3" fill="#1f4f8f"/><circle cx="136.5" cy="406.5" r="1.3" fill="#1f4f8f"/><circle cx="102.2" cy="413.3" r="1.3" fill="#1f4f8f"/><circle cx="113.0" cy="413.3" r="1.3" fill="#1f4f8f"/><circle cx="80.0" cy="359.4" r="1.3" fill="#c4153a"/><circle cx="90.8" cy="380.3" r="1.3" fill="#c4153a"/><circle cx="106.9" cy="370.2" r="1.3" fill="#c4153a"/><circle cx="121.7" cy="374.9" r="1.3" fill="#c4153a"/><circle cx="124.4" cy="370.9" r="1.3" fill="#c4153a"/><circle cx="94.8" cy="395.1" r="1.3" fill="#c4153a"/><circle cx="110.3" cy="407.2" r="1.3" fill="#c4153a"/><circle cx="145.3" cy="376.9" r="1.3" fill="#c4153a"/><circle cx="100.9" cy="366.8" r="1.3" fill="#1a1a1a"/><circle cx="100.9" cy="368.8" r="1.3" fill="#1a1a1a"/><circle cx="131.8" cy="326.2" r="1.3" fill="#1f4f8f"/><circle cx="114.9" cy="341.0" r="1.3" fill="#1a1a1a"/><circle cx="99.8" cy="343.0" r="1.3" fill="#1a1a1a"/><circle cx="96.8" cy="347.7" r="1.3" fill="#1f4f8f"/><circle cx="176.0" cy="332.9" r="1.3" fill="#1a1a1a"/><circle cx="176.0" cy="338.3" r="1.3" fill="#1a1a1a"/><circle cx="139.5" cy="351.4" r="1.3" fill="#1a1a1a"/><circle cx="159.4" cy="348.8" r="1.3" fill="#c4153a"/><circle cx="190.0" cy="366.5" r="1.3" fill="#1f4f8f"/><circle cx="197.0" cy="365.8" r="1.3" fill="#1f4f8f"/><circle cx="145.2" cy="376.5" r="1.3" fill="#c4153a"/><circle cx="148.2" cy="376.5" r="1.3" fill="#c4153a"/><circle cx="150.8" cy="383.4" r="1.3" fill="#1f4f8f"/><circle cx="136.9" cy="406.0" r="1.3" fill="#1f4f8f"/><circle cx="107.0" cy="332.3" r="1.3" fill="#c4153a"/><circle cx="79.6" cy="325.0" r="1.3" fill="#f39c1f"/><circle cx="79.6" cy="338.0" r="1.3" fill="#1f4f8f"/><circle cx="79.6" cy="344.6" r="1.3" fill="#f39c1f"/><circle cx="79.6" cy="359.7" r="1.3" fill="#c4153a"/><circle cx="79.6" cy="366.0" r="1.3" fill="#f39c1f"/><circle cx="79.6" cy="371.0" r="1.3" fill="#f39c1f"/><circle cx="79.6" cy="375.0" r="1.3" fill="#f39c1f"/><circle cx="79.6" cy="380.0" r="1.3" fill="#1f4f8f"/><circle cx="79.6" cy="386.0" r="1.3" fill="#f39c1f"/><circle cx="79.6" cy="391.0" r="1.3" fill="#f39c1f"/><circle cx="79.6" cy="396.0" r="1.3" fill="#1f4f8f"/><circle cx="79.6" cy="399.5" r="1.3" fill="#1f4f8f"/><circle cx="79.6" cy="409.0" r="1.3" fill="#f39c1f"/><circle cx="79.6" cy="404.0" r="1.3" fill="#f39c1f"/><circle cx="133.0" cy="378.0" r="1.3" fill="#f39c1f"/><circle cx="128.0" cy="383.0" r="1.3" fill="#1f4f8f"/><circle cx="122.0" cy="392.0" r="1.3" fill="#f39c1f"/><circle cx="141.0" cy="388.0" r="1.3" fill="#f39c1f"/><circle cx="112.0" cy="396.0" r="1.3" fill="#f39c1f"/><circle cx="104.0" cy="404.0" r="1.3" fill="#f39c1f"/><circle cx="90.0" cy="409.0" r="1.3" fill="#f39c1f"/><circle cx="95.0" cy="398.0" r="1.3" fill="#f39c1f"/><circle cx="99.0" cy="375.0" r="1.3" fill="#c4153a"/><circle cx="87.0" cy="372.0" r="1.3" fill="#f39c1f"/><circle cx="83.0" cy="382.0" r="1.3" fill="#f39c1f"/><circle cx="92.0" cy="385.0" r="1.3" fill="#1f4f8f"/><circle cx="116.0" cy="371.0" r="1.3" fill="#f39c1f"/><circle cx="110.0" cy="381.0" r="1.3" fill="#f39c1f"/><circle cx="114.5" cy="413.4" r="1.3" fill="#1f4f8f"/><circle cx="177.1" cy="413.8" r="1.3" fill="#1f4f8f"/><circle cx="160.4" cy="413.1" r="1.3" fill="#c4153a"/><circle cx="81.7" cy="413.5" r="1.3" fill="#c4153a"/><circle cx="134.9" cy="413.9" r="1.3" fill="#f39c1f"/><circle cx="95.0" cy="413.0" r="1.3" fill="#1f4f8f"/><circle cx="111.1" cy="413.1" r="1.3" fill="#f39c1f"/><circle cx="109.7" cy="412.8" r="1.3" fill="#f39c1f"/><circle cx="153.3" cy="413.8" r="1.3" fill="#1f4f8f"/><circle cx="92.0" cy="413.2" r="1.3" fill="#1f4f8f"/><circle cx="109.3" cy="413.2" r="1.3" fill="#1f4f8f"/><circle cx="80.1" cy="412.8" r="1.3" fill="#f39c1f"/><circle cx="92.5" cy="412.9" r="1.3" fill="#f39c1f"/><circle cx="154.7" cy="413.9" r="1.3" fill="#1f4f8f"/><circle cx="136.4" cy="413.7" r="1.3" fill="#f39c1f"/><circle cx="140.9" cy="413.9" r="1.3" fill="#1f4f8f"/><circle cx="142.9" cy="413.7" r="1.3" fill="#f39c1f"/><circle cx="124.0" cy="413.8" r="1.3" fill="#c4153a"/><circle cx="89.9" cy="413.8" r="1.3" fill="#f39c1f"/><circle cx="108.1" cy="413.0" r="1.3" fill="#f39c1f"/><circle cx="90.8" cy="412.9" r="1.3" fill="#1f4f8f"/><circle cx="121.2" cy="413.3" r="1.3" fill="#f39c1f"/><circle cx="84.2" cy="413.0" r="1.3" fill="#c4153a"/><circle cx="146.2" cy="413.7" r="1.3" fill="#f39c1f"/><circle cx="123.4" cy="413.5" r="1.3" fill="#f39c1f"/><circle cx="103.0" cy="413.1" r="1.3" fill="#1f4f8f"/><circle cx="177.6" cy="413.6" r="1.3" fill="#f39c1f"/><circle cx="161.4" cy="413.9" r="1.3" fill="#c4153a"/><circle cx="147.6" cy="413.0" r="1.3" fill="#f39c1f"/><circle cx="183.4" cy="413.5" r="1.3" fill="#c4153a"/><circle cx="178.6" cy="413.1" r="1.3" fill="#f39c1f"/><circle cx="101.3" cy="413.7" r="1.3" fill="#c4153a"/><circle cx="135.7" cy="412.9" r="1.3" fill="#f39c1f"/><circle cx="165.6" cy="413.5" r="1.3" fill="#1f4f8f"/><circle cx="103.9" cy="413.0" r="1.3" fill="#1f4f8f"/><circle cx="155.2" cy="413.9" r="1.3" fill="#c4153a"/><circle cx="93.9" cy="413.9" r="1.3" fill="#f39c1f"/><circle cx="131.0" cy="413.8" r="1.3" fill="#1f4f8f"/><circle cx="171.8" cy="413.6" r="1.3" fill="#f39c1f"/><circle cx="80.1" cy="414.0" r="1.3" fill="#1f4f8f"/><circle cx="98.0" cy="413.4" r="1.3" fill="#f39c1f"/><circle cx="110.0" cy="413.4" r="1.3" fill="#f39c1f"/><circle cx="112.0" cy="413.4" r="1.3" fill="#f39c1f"/><circle cx="150.0" cy="413.4" r="1.3" fill="#1f4f8f"/><circle cx="158.0" cy="413.4" r="1.3" fill="#c4153a"/><circle cx="170.0" cy="413.4" r="1.3" fill="#f39c1f"/><circle cx="182.0" cy="413.4" r="1.3" fill="#f39c1f"/><circle cx="127.0" cy="413.4" r="1.3" fill="#1f4f8f"/><circle cx="134.0" cy="413.4" r="1.3" fill="#1f4f8f"/><circle cx="137.5" cy="376.0" r="1.3" fill="#9d92cc"/><circle cx="119.0" cy="373.0" r="1.3" fill="#9d92cc"/><circle cx="93.0" cy="401.0" r="1.3" fill="#9d92cc"/><circle cx="140.0" cy="348.0" r="1.3" fill="#9d92cc"/><circle cx="108.3" cy="291.8" r="1.3" fill="#f39c1f"/><circle cx="201.1" cy="306.6" r="1.3" fill="#f39c1f"/><circle cx="103.8" cy="325.0" r="1.3" fill="#f39c1f"/><circle cx="119.2" cy="335.4" r="1.3" fill="#f39c1f"/><circle cx="134.8" cy="347.1" r="1.3" fill="#f39c1f"/><circle cx="125.1" cy="356.0" r="1.3" fill="#f39c1f"/><circle cx="109.6" cy="360.8" r="1.3" fill="#f39c1f"/><circle cx="117.0" cy="363.5" r="1.3" fill="#f39c1f"/><circle cx="155.6" cy="358.4" r="1.3" fill="#f39c1f"/><circle cx="136.9" cy="371.0" r="1.3" fill="#f39c1f"/><circle cx="166.7" cy="371.7" r="1.3" fill="#f39c1f"/><circle cx="203.5" cy="380.0" r="1.3" fill="#f39c1f"/><circle cx="121.7" cy="400.5" r="1.3" fill="#f39c1f"/></g>
<text x="111.5" y="293.4" font-size="5.50" fill="#333" stroke="#333" stroke-width="0.022">TTI1</text>
<text x="205.2" y="308.2" font-size="5.50" fill="#333" stroke="#333" stroke-width="0.022">TTC24</text>
<text x="112.3" y="322.5" font-size="5.50" fill="#333" text-anchor="middle" stroke="#333" stroke-width="0.022">RBM18</text>
<text x="105" y="333.0" font-size="5.50" fill="#333" text-anchor="end" stroke="#333" stroke-width="0.022">NSMCE4A</text>
<text x="117.2" y="334.9" font-size="5.50" fill="#333" stroke="#333" stroke-width="0.022">WASHC4</text>
<text x="80.3" y="343.3" font-size="5.50" fill="#333" stroke="#333" stroke-width="0.022">BAX</text>
<text x="136.9" y="347.3" font-size="5.50" fill="#333" stroke="#333" stroke-width="0.022">UXS1</text>
<text x="127.1" y="356.9" font-size="5.50" fill="#333" stroke="#333" stroke-width="0.022">HINT3</text>
<text x="117" y="358.9" font-size="5.50" fill="#333" text-anchor="end" stroke="#333" stroke-width="0.022">USP15</text>
<text x="122.4" y="363.7" font-size="5.50" fill="#333" stroke="#333" stroke-width="0.022">OXA1L</text>
<text x="157.7" y="360.3" font-size="5.50" fill="#333" stroke="#333" stroke-width="0.022">AMT</text>
<text x="80" y="367.7" font-size="5.50" fill="#333" stroke="#333" stroke-width="0.022">RASA2</text>
<text x="139.5" y="373.2" font-size="5.50" fill="#333" stroke="#333" stroke-width="0.022">SEPTIN6</text>
<text x="169.4" y="373.6" font-size="5.50" fill="#333" stroke="#333" stroke-width="0.022">ANKHD1</text>
<text x="206" y="381.9" font-size="5.50" fill="#333" stroke="#333" stroke-width="0.022">VEZF1</text>
<text x="106.3" y="390.6" font-size="5.50" fill="#333" stroke="#333" stroke-width="0.022">PARP2</text>
<text x="124.4" y="402.0" font-size="5.50" fill="#333" stroke="#333" stroke-width="0.022">SNRPN</text>
<text x="123.8" y="411.4" font-size="5.50" fill="#333" stroke="#333" stroke-width="0.022">UBA7</text>
<text x="146.4" y="411.3" font-size="5.50" fill="#333" stroke="#333" stroke-width="0.022">PRKRIP1</text>
<text x="177.6" y="411.3" font-size="5.50" fill="#333" stroke="#333" stroke-width="0.022">NR2C2AP</text>
<rect x="230.5" y="284.8" width="7.9" height="42" fill="#1b4a7c"/>
<rect x="230.5" y="326.8" width="7.9" height="5" fill="#9a94d4"/>
<rect x="230.5" y="331.8" width="7.9" height="6.2" fill="#6e3c1c"/>
<rect x="230.5" y="338" width="7.9" height="10.5" fill="#c4153a"/>
<rect x="230.5" y="348.5" width="7.9" height="64.9" fill="#f39a17"/>
<rect x="230.5" y="284.8" width="7.9" height="128.6" fill="none" stroke="#333" stroke-width="0.6"/>
<circle cx="95.50" cy="448.50" r="1.0" fill="#f39c1f"/>
<text x="100" y="450.5" font-size="6.16" fill="#333" stroke="#333" stroke-width="0.052">A3SS</text>
<circle cx="122.50" cy="448.50" r="1.0" fill="#c4153a"/>
<text x="127" y="450.5" font-size="6.16" fill="#333" stroke="#333" stroke-width="0.052">A5SS</text>
<circle cx="149.50" cy="448.50" r="1.0" fill="#1a1a1a"/>
<text x="153.8" y="450.5" font-size="6.16" fill="#333" stroke="#333" stroke-width="0.052">MXE</text>
<circle cx="173.00" cy="448.50" r="1.0" fill="#9d92cc"/>
<text x="177.5" y="450.5" font-size="6.16" fill="#333" stroke="#333" stroke-width="0.052">RI</text>
<circle cx="190.00" cy="448.50" r="1.0" fill="#1f4f8f"/>
<text x="194.5" y="450.5" font-size="6.16" fill="#333" stroke="#333" stroke-width="0.052">SE</text>
<text x="265.4" y="260.0" font-size="10.3" fill="#111" font-weight="bold" stroke="#111" stroke-width="0.180">F</text>
<text x="323.3" y="272.2" font-size="8.36" fill="#222" textLength="46" lengthAdjust="spacingAndGlyphs" stroke="#222" stroke-width="0.151"><tspan fill="#f0a63c" stroke="#f0a63c" stroke-width="0.151">N626D</tspan> HSC</text>
<text x="333.5" y="279.6" font-size="6.38" fill="#222" textLength="25.3" lengthAdjust="spacingAndGlyphs" stroke="#222" stroke-width="0.062">23 events</text>
<text x="420" y="272.4" font-size="8.36" fill="#222" textLength="44.6" lengthAdjust="spacingAndGlyphs" stroke="#222" stroke-width="0.151"><tspan fill="#3aaee0" stroke="#3aaee0" stroke-width="0.151">K666N</tspan> HSC</text>
<text x="429" y="279.6" font-size="6.38" fill="#222" textLength="26.4" lengthAdjust="spacingAndGlyphs" stroke="#222" stroke-width="0.062">37 events</text>
<line x1="309.6" y1="278.5" x2="309.6" y2="441.3" stroke="#222" stroke-width="0.9"/>
<line x1="306.6" y1="441.3" x2="383" y2="441.3" stroke="#222" stroke-width="1.1"/>
<line x1="307.6" y1="440.2" x2="309.6" y2="440.2" stroke="#222" stroke-width="0.6"/>
<text x="304.1" y="442.7" font-size="7.92" fill="#333" text-anchor="end" stroke="#333" stroke-width="0.131">0</text>
<line x1="308.3" y1="420.25" x2="309.6" y2="420.25" stroke="#222" stroke-width="0.6"/>
<line x1="307.6" y1="400.29999999999995" x2="309.6" y2="400.29999999999995" stroke="#222" stroke-width="0.6"/>
<text x="304.1" y="402.79999999999995" font-size="7.92" fill="#333" text-anchor="end" stroke="#333" stroke-width="0.131">20</text>
<line x1="308.3" y1="380.34999999999997" x2="309.6" y2="380.34999999999997" stroke="#222" stroke-width="0.6"/>
<line x1="307.6" y1="360.4" x2="309.6" y2="360.4" stroke="#222" stroke-width="0.6"/>
<text x="304.1" y="362.9" font-size="7.92" fill="#333" text-anchor="end" stroke="#333" stroke-width="0.131">40</text>
<line x1="308.3" y1="340.45" x2="309.6" y2="340.45" stroke="#222" stroke-width="0.6"/>
<line x1="307.6" y1="320.5" x2="309.6" y2="320.5" stroke="#222" stroke-width="0.6"/>
<text x="304.1" y="323.0" font-size="7.92" fill="#333" text-anchor="end" stroke="#333" stroke-width="0.131">60</text>
<line x1="308.3" y1="300.54999999999995" x2="309.6" y2="300.54999999999995" stroke="#222" stroke-width="0.6"/>
<line x1="307.6" y1="280.59999999999997" x2="309.6" y2="280.59999999999997" stroke="#222" stroke-width="0.6"/>
<text x="304.1" y="283.09999999999997" font-size="7.92" fill="#333" text-anchor="end" stroke="#333" stroke-width="0.131">80</text>
<line x1="405.2" y1="278.5" x2="405.2" y2="441.3" stroke="#222" stroke-width="0.9"/>
<line x1="402.2" y1="441.3" x2="478.6" y2="441.3" stroke="#222" stroke-width="1.1"/>
<line x1="403.2" y1="440.2" x2="405.2" y2="440.2" stroke="#222" stroke-width="0.6"/>
<text x="399.7" y="442.7" font-size="7.92" fill="#333" text-anchor="end" stroke="#333" stroke-width="0.131">0</text>
<line x1="403.9" y1="420.25" x2="405.2" y2="420.25" stroke="#222" stroke-width="0.6"/>
<line x1="403.2" y1="400.29999999999995" x2="405.2" y2="400.29999999999995" stroke="#222" stroke-width="0.6"/>
<text x="399.7" y="402.79999999999995" font-size="7.92" fill="#333" text-anchor="end" stroke="#333" stroke-width="0.131">20</text>
<line x1="403.9" y1="380.34999999999997" x2="405.2" y2="380.34999999999997" stroke="#222" stroke-width="0.6"/>
<line x1="403.2" y1="360.4" x2="405.2" y2="360.4" stroke="#222" stroke-width="0.6"/>
<text x="399.7" y="362.9" font-size="7.92" fill="#333" text-anchor="end" stroke="#333" stroke-width="0.131">40</text>
<line x1="403.9" y1="340.45" x2="405.2" y2="340.45" stroke="#222" stroke-width="0.6"/>
<line x1="403.2" y1="320.5" x2="405.2" y2="320.5" stroke="#222" stroke-width="0.6"/>
<text x="399.7" y="323.0" font-size="7.92" fill="#333" text-anchor="end" stroke="#333" stroke-width="0.131">60</text>
<line x1="403.9" y1="300.54999999999995" x2="405.2" y2="300.54999999999995" stroke="#222" stroke-width="0.6"/>
<line x1="403.2" y1="280.59999999999997" x2="405.2" y2="280.59999999999997" stroke="#222" stroke-width="0.6"/>
<text x="399.7" y="283.09999999999997" font-size="7.92" fill="#333" text-anchor="end" stroke="#333" stroke-width="0.131">80</text>
<text x="276.6" y="359" font-size="9.02" fill="#111" text-anchor="middle" transform="rotate(-90 276.6 359)" textLength="82" lengthAdjust="spacingAndGlyphs" stroke="#111" stroke-width="0.180">Mutation-biased event dPSI</text>
<text x="288.4" y="362" font-size="9.02" fill="#111" text-anchor="middle" transform="rotate(-90 288.4 362)" textLength="118" lengthAdjust="spacingAndGlyphs" stroke="#111" stroke-width="0.180">(<tspan fill="#e0308a" font-style="italic" stroke="#e0308a" stroke-width="0.180">SF3B1</tspan><tspan font-size="4.95" dy="-2.5">m</tspan><tspan dy="2.5"> - NBM  || 2</tspan><tspan font-size="4.95" dy="-2.5">nd</tspan><tspan dy="2.5"> </tspan><tspan fill="#e0308a" font-style="italic" stroke="#e0308a" stroke-width="0.180">SF3B1</tspan><tspan font-size="4.95" dy="-2.5">m</tspan><tspan dy="2.5"> dPSI &lt; 2)</tspan></text>
<text x="346.9" y="312.9" font-size="4.40" fill="#3a3a3a">NSMCE4A</text>
<text x="347.5" y="329.09999999999997" font-size="4.40" fill="#3a3a3a">HARS2</text>
<text x="351" y="338.4" font-size="4.40" fill="#3a3a3a">BAX</text>
<text x="343.4" y="341.2" font-size="4.40" fill="#3a3a3a" text-anchor="end">WDR11</text>
<text x="347.5" y="361.4" font-size="4.40" fill="#3a3a3a">PACC1</text>
<text x="347.4" y="375.9" font-size="4.40" fill="#3a3a3a">RASA2</text>
<text x="347.4" y="380.5" font-size="4.40" fill="#3a3a3a">METTL3</text>
<text x="344" y="382.4" font-size="4.40" fill="#3a3a3a" text-anchor="end">TMEM241</text>
<text x="347.4" y="390.79999999999995" font-size="4.40" fill="#3a3a3a">B3GNTL1</text>
<text x="339.7" y="394.7" font-size="4.40" fill="#3a3a3a" text-anchor="end">EED</text>
<text x="351.4" y="394.79999999999995" font-size="4.40" fill="#3a3a3a">VBP1</text>
<text x="341.3" y="402.7" font-size="4.40" fill="#3a3a3a" text-anchor="end">ABT1</text>
<text x="349.4" y="402.7" font-size="4.40" fill="#3a3a3a">MRPS18C</text>
<text x="343.7" y="398.7" font-size="4.40" fill="#3a3a3a" text-anchor="middle">C1orf50</text>
<line x1="345.4" y1="406" x2="334" y2="406" stroke="#555" stroke-width="0.35"/>
<text x="333" y="407.4" font-size="4.40" fill="#3a3a3a" text-anchor="end">SEPTIN2</text>
<line x1="344" y1="409.5" x2="330" y2="410.8" stroke="#555" stroke-width="0.35"/>
<text x="329" y="412.2" font-size="4.40" fill="#3a3a3a" text-anchor="end">ECD</text>
<line x1="342" y1="412.5" x2="331" y2="415.5" stroke="#555" stroke-width="0.35"/>
<text x="330" y="416.9" font-size="4.40" fill="#3a3a3a" text-anchor="end">EIF2B4</text>
<line x1="341.5" y1="414.5" x2="330" y2="422.6" stroke="#555" stroke-width="0.35"/>
<text x="329" y="424.0" font-size="4.40" fill="#3a3a3a" text-anchor="end">SF3B1</text>
<line x1="345.4" y1="415" x2="342" y2="430.5" stroke="#555" stroke-width="0.35"/>
<text x="341" y="431.9" font-size="4.40" fill="#3a3a3a" text-anchor="end">SLC30C2</text>
<text x="348" y="408.9" font-size="4.40" fill="#3a3a3a">SHOD</text>
<line x1="348.5" y1="410" x2="363" y2="409.4" stroke="#555" stroke-width="0.35"/>
<text x="365" y="410.79999999999995" font-size="4.40" fill="#3a3a3a">SNW1</text>
<line x1="348" y1="412.5" x2="354.5" y2="414.8" stroke="#555" stroke-width="0.35"/>
<text x="356.5" y="416.2" font-size="4.40" fill="#3a3a3a">NCBP2</text>
<line x1="349.5" y1="414.5" x2="357.8" y2="419.5" stroke="#555" stroke-width="0.35"/>
<text x="359.8" y="420.9" font-size="4.40" fill="#3a3a3a">CDK10</text>
<line x1="346" y1="414.5" x2="353.8" y2="424" stroke="#555" stroke-width="0.35"/>
<text x="355.8" y="425.4" font-size="4.40" fill="#3a3a3a">COPS3</text>
<line x1="345.4" y1="423.5" x2="347" y2="432.3" stroke="#555" stroke-width="0.35"/>
<text x="349" y="433.7" font-size="4.40" fill="#3a3a3a">CCSER2</text>
<text x="451.1" y="296.79999999999995" font-size="4.40" fill="#3a3a3a">NR2C2AP</text>
<text x="451.1" y="301.4" font-size="4.40" fill="#3a3a3a">TRIM4</text>
<text x="451.1" y="308.9" font-size="4.40" fill="#3a3a3a">RIPOR1</text>
<text x="450.6" y="333.09999999999997" font-size="4.40" fill="#3a3a3a">ZZZ3</text>
<text x="446.5" y="340.59999999999997" font-size="4.40" fill="#3a3a3a" text-anchor="end">FTCDNL1</text>
<text x="452.9" y="340.59999999999997" font-size="4.40" fill="#3a3a3a">SLC43A3</text>
<text x="447.5" y="346.4" font-size="4.40" fill="#3a3a3a" text-anchor="end">PRKRIP1</text>
<text x="451.1" y="352.7" font-size="4.40" fill="#3a3a3a">SLC43A1</text>
<text x="451.1" y="356.79999999999995" font-size="4.40" fill="#3a3a3a">DENND4C</text>
<text x="451.1" y="364.0" font-size="4.40" fill="#3a3a3a">WWOD4</text>
<text x="451.1" y="367.79999999999995" font-size="4.40" fill="#3a3a3a">UBA7</text>
<text x="450.7" y="373.7" font-size="4.40" fill="#3a3a3a" text-anchor="middle">TMEM161A</text>
<text x="444.8" y="377.9" font-size="4.40" fill="#3a3a3a" text-anchor="end">PCYT2</text>
<text x="447.5" y="382.7" font-size="4.40" fill="#3a3a3a" text-anchor="end">MGA</text>
<text x="448.2" y="386.2" font-size="4.40" fill="#3a3a3a" text-anchor="end">PHF20L1</text>
<text x="446.2" y="390.29999999999995" font-size="4.40" fill="#3a3a3a" text-anchor="end">FAAH</text>
<text x="444.8" y="393.79999999999995" font-size="4.40" fill="#3a3a3a" text-anchor="end">NAP1L4</text>
<text x="444.8" y="398.59999999999997" font-size="4.40" fill="#3a3a3a" text-anchor="end">ACSL1</text>
<text x="446.2" y="403.5" font-size="4.40" fill="#3a3a3a" text-anchor="end">MCTP1</text>
<text x="444.8" y="408.4" font-size="4.40" fill="#3a3a3a" text-anchor="end">KNOP1</text>
<text x="444.8" y="413.2" font-size="4.40" fill="#3a3a3a" text-anchor="end">DAGLB</text>
<text x="446.9" y="420.79999999999995" font-size="4.40" fill="#3a3a3a" text-anchor="end">SLC39A13</text>
<text x="448.2" y="428.4" font-size="4.40" fill="#3a3a3a" text-anchor="end">TEX30</text>
<text x="448.2" y="435.4" font-size="4.40" fill="#3a3a3a" text-anchor="end">ZDHHC16</text>
<text x="452.4" y="377.2" font-size="4.40" fill="#3a3a3a">ANAPC7</text>
<text x="451" y="380.59999999999997" font-size="4.40" fill="#3a3a3a">NRBP2</text>
<text x="452.4" y="384.09999999999997" font-size="4.40" fill="#3a3a3a">CNOT8</text>
<text x="460" y="388.29999999999995" font-size="4.40" fill="#3a3a3a">HMGA5</text>
<text x="460" y="391.7" font-size="4.40" fill="#3a3a3a">PRELID3</text>
<text x="460" y="395.2" font-size="4.40" fill="#3a3a3a">COMT1</text>
<text x="454.5" y="400.0" font-size="4.40" fill="#3a3a3a">TBC1D13</text>
<text x="451.7" y="404.2" font-size="4.40" fill="#3a3a3a">ACO2</text>
<text x="454.5" y="408.79999999999995" font-size="4.40" fill="#3a3a3a">INTS14</text>
<text x="450.5" y="412.4" font-size="4.40" fill="#3a3a3a">KCNN4</text>
<text x="450.5" y="416.0" font-size="4.40" fill="#3a3a3a">CSNK1G</text>
<text x="452.4" y="420.79999999999995" font-size="4.40" fill="#3a3a3a">RAD50</text>
<text x="451.7" y="425.0" font-size="4.40" fill="#3a3a3a">CREB1</text>
<text x="452.4" y="428.4" font-size="4.40" fill="#3a3a3a">SLC39A1</text>
<text x="451.7" y="435.4" font-size="4.40" fill="#3a3a3a">RIOK1</text>
<line x1="452.5" y1="386" x2="459.5" y2="385.5" stroke="#777" stroke-width="0.35"/>
<line x1="453" y1="390" x2="459.5" y2="389.5" stroke="#777" stroke-width="0.35"/>
<line x1="451" y1="392" x2="459.5" y2="393" stroke="#777" stroke-width="0.35"/>
<line x1="447" y1="397" x2="446" y2="397" stroke="#777" stroke-width="0.35"/>
<line x1="450" y1="402" x2="453" y2="398.5" stroke="#777" stroke-width="0.35"/>
<g><circle cx="345.2" cy="311.5" r="0.95" fill="#f39c1f"/><circle cx="345.5" cy="327.7" r="0.95" fill="#1a1a1a"/><circle cx="349.2" cy="337.5" r="0.95" fill="#f39c1f"/><circle cx="345.8" cy="339.8" r="0.95" fill="#1a1a1a"/><circle cx="345.5" cy="360.0" r="0.95" fill="#1a1a1a"/><circle cx="345.4" cy="375.1" r="0.95" fill="#f39c1f"/><circle cx="345.4" cy="379.1" r="0.95" fill="#1a1a1a"/><circle cx="345.4" cy="380.9" r="0.95" fill="#f39c1f"/><circle cx="345.4" cy="390.6" r="0.95" fill="#1f4f8f"/><circle cx="342.0" cy="393.5" r="0.95" fill="#1a1a1a"/><circle cx="349.4" cy="392.6" r="0.95" fill="#1f4f8f"/><circle cx="343.4" cy="401.6" r="0.95" fill="#f39c1f"/><circle cx="347.8" cy="401.6" r="0.95" fill="#f39c1f"/><circle cx="345.4" cy="406.0" r="0.95" fill="#f39c1f"/><circle cx="344.0" cy="409.5" r="0.95" fill="#1a1a1a"/><circle cx="342.0" cy="412.5" r="0.95" fill="#1a1a1a"/><circle cx="341.5" cy="414.5" r="0.95" fill="#1a1a1a"/><circle cx="345.4" cy="415.0" r="0.95" fill="#1a1a1a"/><circle cx="346.5" cy="409.0" r="0.95" fill="#f39c1f"/><circle cx="348.5" cy="410.0" r="0.95" fill="#1a1a1a"/><circle cx="348.0" cy="412.5" r="0.95" fill="#1a1a1a"/><circle cx="349.5" cy="414.5" r="0.95" fill="#1a1a1a"/><circle cx="346.0" cy="414.5" r="0.95" fill="#1a1a1a"/><circle cx="345.4" cy="423.5" r="0.95" fill="#1a1a1a"/><circle cx="344.0" cy="405.0" r="0.95" fill="#f39c1f"/><circle cx="346.0" cy="403.5" r="0.95" fill="#f39c1f"/><circle cx="347.0" cy="406.5" r="0.95" fill="#8f86c0"/><circle cx="343.0" cy="408.0" r="0.95" fill="#f39c1f"/><circle cx="449.4" cy="295.4" r="0.95" fill="#f39c1f"/><circle cx="449.4" cy="300.0" r="0.95" fill="#c4153a"/><circle cx="449.4" cy="307.5" r="0.95" fill="#777"/><circle cx="449.4" cy="334.6" r="0.95" fill="#1f4f8f"/><circle cx="447.5" cy="339.2" r="0.95" fill="#f39c1f"/><circle cx="451.1" cy="339.2" r="0.95" fill="#f39c1f"/><circle cx="449.0" cy="345.0" r="0.95" fill="#f39c1f"/><circle cx="449.4" cy="351.3" r="0.95" fill="#f39c1f"/><circle cx="449.4" cy="355.4" r="0.95" fill="#f39c1f"/><circle cx="449.4" cy="362.6" r="0.95" fill="#f39c1f"/><circle cx="449.4" cy="366.4" r="0.95" fill="#f39c1f"/><circle cx="446.0" cy="376.5" r="0.95" fill="#1a1a1a"/><circle cx="450.0" cy="376.0" r="0.95" fill="#f39c1f"/><circle cx="448.5" cy="381.5" r="0.95" fill="#1f4f8f"/><circle cx="449.0" cy="385.0" r="0.95" fill="#1a1a1a"/><circle cx="447.0" cy="389.0" r="0.95" fill="#f39c1f"/><circle cx="450.0" cy="390.0" r="0.95" fill="#1a1a1a"/><circle cx="446.5" cy="392.5" r="0.95" fill="#f39c1f"/><circle cx="449.0" cy="394.0" r="0.95" fill="#1a1a1a"/><circle cx="446.5" cy="397.0" r="0.95" fill="#1a1a1a"/><circle cx="449.0" cy="399.0" r="0.95" fill="#1f4f8f"/><circle cx="448.0" cy="402.0" r="0.95" fill="#1f4f8f"/><circle cx="450.0" cy="403.0" r="0.95" fill="#1a1a1a"/><circle cx="446.0" cy="407.0" r="0.95" fill="#1a1a1a"/><circle cx="451.0" cy="407.5" r="0.95" fill="#c4153a"/><circle cx="447.0" cy="411.5" r="0.95" fill="#f39c1f"/><circle cx="449.0" cy="410.5" r="0.95" fill="#f39c1f"/><circle cx="448.0" cy="414.5" r="0.95" fill="#f39c1f"/><circle cx="446.5" cy="419.4" r="0.95" fill="#1a1a1a"/><circle cx="450.5" cy="419.4" r="0.95" fill="#1f4f8f"/><circle cx="449.0" cy="423.6" r="0.95" fill="#1f4f8f"/><circle cx="449.0" cy="426.5" r="0.95" fill="#1f4f8f"/><circle cx="447.0" cy="428.5" r="0.95" fill="#f39c1f"/><circle cx="449.0" cy="431.0" r="0.95" fill="#f39c1f"/><circle cx="450.0" cy="433.0" r="0.95" fill="#f39c1f"/><circle cx="452.5" cy="386.0" r="0.95" fill="#1a1a1a"/><circle cx="453.0" cy="390.0" r="0.95" fill="#1a1a1a"/></g>
<text x="7.2" y="476.4" font-size="10.3" fill="#111" font-weight="bold" stroke="#111" stroke-width="0.180">G</text>
<text x="51.9" y="486.3" font-size="6.16" fill="#f0a63c" text-anchor="middle" textLength="19.2" lengthAdjust="spacingAndGlyphs" stroke="#f0a63c" stroke-width="0.052">N626D</text>
<text x="82.6" y="486.3" font-size="6.16" fill="#3aaee0" text-anchor="middle" textLength="19.3" lengthAdjust="spacingAndGlyphs" stroke="#3aaee0" stroke-width="0.052">K666N</text>
<line x1="37.5" y1="490.2" x2="66.3" y2="490.2" stroke="#333" stroke-width="0.8"/>
<line x1="74" y1="490.2" x2="92.3" y2="490.2" stroke="#333" stroke-width="0.8"/>
<line x1="33.7" y1="488.5" x2="33.7" y2="606.6" stroke="#222" stroke-width="0.9"/>
<line x1="33.3" y1="606.2" x2="94.1" y2="606.2" stroke="#222" stroke-width="0.9"/>
<line x1="31.7" y1="606.2" x2="33.7" y2="606.2" stroke="#222" stroke-width="0.7"/>
<text x="28.6" y="608.8000000000001" font-size="7.92" fill="#333" text-anchor="end" stroke="#333" stroke-width="0.131">0</text>
<line x1="31.7" y1="577.1500000000001" x2="33.7" y2="577.1500000000001" stroke="#222" stroke-width="0.7"/>
<text x="28.6" y="579.7500000000001" font-size="7.92" fill="#333" text-anchor="end" stroke="#333" stroke-width="0.131">1</text>
<line x1="31.7" y1="548.1" x2="33.7" y2="548.1" stroke="#222" stroke-width="0.7"/>
<text x="28.6" y="550.7" font-size="7.92" fill="#333" text-anchor="end" stroke="#333" stroke-width="0.131">2</text>
<line x1="31.7" y1="519.0500000000001" x2="33.7" y2="519.0500000000001" stroke="#222" stroke-width="0.7"/>
<text x="28.6" y="521.6500000000001" font-size="7.92" fill="#333" text-anchor="end" stroke="#333" stroke-width="0.131">3</text>
<line x1="31.7" y1="490.00000000000006" x2="33.7" y2="490.00000000000006" stroke="#222" stroke-width="0.7"/>
<text x="28.6" y="492.6000000000001" font-size="7.92" fill="#333" text-anchor="end" stroke="#333" stroke-width="0.131">4</text>
<rect x="36.2" y="493.48600000000005" width="7.099999999999994" height="112.714" fill="#f39a17"/>
<text x="41.65" y="604.7" font-size="6.05" fill="#4a2a04" transform="rotate(-90 41.65 604.7)" stroke="#4a2a04" stroke-width="0.047">mRNA Splicing</text>
<rect x="48.0" y="526.3125" width="7.799999999999997" height="79.8875" fill="#f39a17"/>
<text x="53.8" y="604.7" font-size="6.05" fill="#4a2a04" transform="rotate(-90 53.8 604.7)" stroke="#4a2a04" stroke-width="0.047">Apoptotic Signaling</text>
<rect x="60.6" y="527.7650000000001" width="7.100000000000001" height="78.435" fill="#f39a17"/>
<text x="66.05000000000001" y="604.7" font-size="6.05" fill="#4a2a04" transform="rotate(-90 66.05000000000001 604.7)" stroke="#4a2a04" stroke-width="0.047">Regulation of translation</text>
<rect x="73.0" y="511.20650000000006" width="7.400000000000006" height="94.9935" fill="#2ba4da"/>
<text x="78.60000000000001" y="604.7" font-size="6.05" fill="#0a3058" transform="rotate(-90 78.60000000000001 604.7)" stroke="#0a3058" stroke-width="0.047">Macromolecule modification</text>
<rect x="85.2" y="509.754" width="7.700000000000003" height="96.446" fill="#2ba4da"/>
<text x="90.95000000000002" y="604.7" font-size="6.05" fill="#0a3058" transform="rotate(-90 90.95000000000002 604.7)" stroke="#0a3058" stroke-width="0.047">Long-chain fatty acid metabolism</text>
<text x="15.0" y="547.5" font-size="9.24" fill="#1a1a1a" text-anchor="middle" transform="rotate(-90 15.0 547.5)" textLength="40" lengthAdjust="spacingAndGlyphs" stroke="#1a1a1a" stroke-width="0.180">-Log<tspan font-size="5.50" dy="1.5">10</tspan><tspan dy="-1.5"> </tspan><tspan font-style="italic">P</tspan>-value</text>
<text x="64.5" y="616.8" font-size="6.16" fill="#333" text-anchor="middle" textLength="57" lengthAdjust="spacingAndGlyphs" stroke="#333" stroke-width="0.052">Gene Ontology Terms</text>
<text x="64" y="623.8" font-size="6.16" fill="#333" text-anchor="middle" textLength="52" lengthAdjust="spacingAndGlyphs" stroke="#333" stroke-width="0.052">(Biological Pathway)</text>
<text x="64" y="638.5" font-size="9.13" fill="#222" text-anchor="middle" textLength="68.8" lengthAdjust="spacingAndGlyphs" stroke="#222" stroke-width="0.180">Biased event GSEA</text>
<text x="109.8" y="476.4" font-size="10.3" fill="#111" font-weight="bold" stroke="#111" stroke-width="0.180">H</text>
<text x="155" y="487.6" font-size="6.16" fill="#222" text-anchor="end" stroke="#222" stroke-width="0.052"><tspan fill="#f0a63c" stroke="#f0a63c" stroke-width="0.052">N626D</tspan> HSC</text>
<text x="155" y="495.6" font-size="6.16" fill="#222" text-anchor="end" stroke="#222" stroke-width="0.052">39 MPD</text>
<text x="155" y="515.0" font-size="6.16" fill="#222" text-anchor="end" stroke="#222" stroke-width="0.052"><tspan fill="#f0a63c" stroke="#f0a63c" stroke-width="0.052">N626D</tspan> HSC</text>
<text x="155" y="523.0" font-size="6.16" fill="#222" text-anchor="end" stroke="#222" stroke-width="0.052">118 MPD</text>
<text x="155" y="540.0" font-size="6.16" fill="#222" text-anchor="end" stroke="#222" stroke-width="0.052"><tspan fill="#3aaee0" stroke="#3aaee0" stroke-width="0.052">K666N</tspan> HSC</text>
<text x="155" y="548.0" font-size="6.16" fill="#222" text-anchor="end" stroke="#222" stroke-width="0.052">39 MPD</text>
<text x="155" y="570.0" font-size="6.16" fill="#222" text-anchor="end" stroke="#222" stroke-width="0.052"><tspan fill="#3aaee0" stroke="#3aaee0" stroke-width="0.052">K666N</tspan> HSC</text>
<text x="155" y="578.0" font-size="6.16" fill="#222" text-anchor="end" stroke="#222" stroke-width="0.052">118 MPD</text>
<text x="155.5" y="593.2" font-size="6.16" fill="#222" text-anchor="end" stroke="#222" stroke-width="0.052">NBM HSC</text>
<text x="155" y="601.2" font-size="5.72" fill="#222" text-anchor="end" stroke="#222" stroke-width="0.032">(n = 3, mean)</text>
<text x="202.5" y="477.4" font-size="7.92" fill="#222" text-anchor="middle" font-style="italic" stroke="#222" stroke-width="0.131">METTL3</text>
<text x="280.6" y="477.4" font-size="7.92" fill="#222" text-anchor="middle" font-style="italic" stroke="#222" stroke-width="0.131">NCBP2</text>
<text x="347.5" y="477.4" font-size="7.92" fill="#222" text-anchor="middle" font-style="italic" stroke="#222" stroke-width="0.131">SNW1</text>
<text x="416.3" y="477.4" font-size="7.92" fill="#222" text-anchor="middle" font-style="italic" stroke="#222" stroke-width="0.131">RIPOR1</text>
<text x="481.6" y="477.4" font-size="7.92" fill="#222" text-anchor="middle" font-style="italic" stroke="#222" stroke-width="0.131">FTCDNL1</text>
<line x1="173.9" y1="480.6" x2="173.9" y2="498.2" stroke="#111" stroke-width="0.9"/>
<line x1="172.6" y1="494.3" x2="174.20000000000002" y2="494.3" stroke="#111" stroke-width="0.7"/>
<text x="171.9" y="495.90000000000003" font-size="5.06" fill="#333" text-anchor="end" stroke="#333" stroke-width="0.003">0</text>
<line x1="172.6" y1="487.9" x2="174.20000000000002" y2="487.9" stroke="#111" stroke-width="0.7"/>
<text x="171.9" y="489.5" font-size="5.06" fill="#333" text-anchor="end" stroke="#333" stroke-width="0.003">500</text>
<line x1="172.6" y1="481.5" x2="174.20000000000002" y2="481.5" stroke="#111" stroke-width="0.7"/>
<text x="171.9" y="483.1" font-size="5.06" fill="#333" text-anchor="end" stroke="#333" stroke-width="0.003">1000</text>
<path d="M174.6,494.3 L174.6,486.6 L176.4,488.9 L178.2,488.6 L178.2,494.3 Z" fill="#f4ae80" stroke="none" stroke-width="0.7"/>
<path d="M182.0,494.3 L182.0,494.3 L183.0,494.2 L184.0,494.0 L185.0,493.9 L186.0,493.8 L187.0,493.6 L188.0,493.4 L189.0,493.4 L190.0,493.3 L191.0,493.1 L192.0,493.0 L193.0,492.9 L194.0,492.8 L195.0,492.4 L196.0,492.3 L197.0,492.6 L198.0,492.3 L199.0,492.3 L200.0,492.4 L201.0,492.6 L202.0,492.4 L203.0,492.7 L204.0,492.7 L205.0,492.4 L206.0,492.7 L207.0,492.4 L208.0,492.5 L209.0,492.8 L210.0,492.8 L211.0,492.6 L212.0,492.8 L213.0,492.6 L214.0,492.6 L215.0,492.8 L216.0,492.7 L217.0,492.8 L218.0,492.6 L219.0,492.7 L220.0,492.7 L221.0,492.8 L222.0,492.9 L223.0,492.7 L224.0,492.8 L224.0,494.3 Z" fill="#f4ae80" stroke="none" stroke-width="0.7"/>
<path d="M178.6,494.3 C179.4,482.40000000000003 179.6,481.40000000000003 183.1,481.40000000000003 L222.8,481.40000000000003 C226.3,481.40000000000003 226.5,482.40000000000003 227.3,494.3" fill="none" stroke="#ef9f6c" stroke-width="0.8"/>
<rect x="200.5" y="480.8" width="3" height="1.2" fill="#666" fill-opacity="0.6"/>
<path d="M178.6,494.3 C179.4,496.7 179.6,497.7 183.1,497.7 L222.8,497.7 C226.3,497.7 226.5,496.7 227.3,494.3" fill="none" stroke="#ef9f6c" stroke-width="0.8"/>
<rect x="201.5" y="497.09999999999997" width="3" height="1.2" fill="#666" fill-opacity="0.6"/>
<line x1="173.9" y1="506.0" x2="173.9" y2="524.5" stroke="#111" stroke-width="0.9"/>
<line x1="172.6" y1="520.9" x2="174.20000000000002" y2="520.9" stroke="#111" stroke-width="0.7"/>
<text x="171.9" y="522.5" font-size="5.06" fill="#333" text-anchor="end" stroke="#333" stroke-width="0.003">0</text>
<line x1="172.6" y1="516.9333333333333" x2="174.20000000000002" y2="516.9333333333333" stroke="#111" stroke-width="0.7"/>
<text x="171.9" y="518.5333333333333" font-size="5.06" fill="#333" text-anchor="end" stroke="#333" stroke-width="0.003">100</text>
<line x1="172.6" y1="512.9666666666667" x2="174.20000000000002" y2="512.9666666666667" stroke="#111" stroke-width="0.7"/>
<text x="171.9" y="514.5666666666667" font-size="5.06" fill="#333" text-anchor="end" stroke="#333" stroke-width="0.003">200</text>
<line x1="172.6" y1="509.0" x2="174.20000000000002" y2="509.0" stroke="#111" stroke-width="0.7"/>
<text x="171.9" y="510.6" font-size="5.06" fill="#333" text-anchor="end" stroke="#333" stroke-width="0.003">300</text>
<path d="M174.6,520.9 L174.6,513.8 L176.4,515.3 L178.2,516.1 L178.2,520.9 Z" fill="#f4ae80" stroke="none" stroke-width="0.7"/>
<path d="M190.0,520.9 L190.0,520.0 L191.0,520.0 L192.0,520.0 L193.0,520.1 L194.0,520.0 L195.0,520.1 L196.0,520.1 L197.0,520.0 L198.0,520.0 L199.0,520.0 L200.0,520.1 L201.0,520.0 L202.0,520.0 L203.0,520.0 L204.0,520.1 L205.0,520.0 L206.0,520.0 L207.0,520.0 L208.0,520.0 L209.0,520.0 L210.0,520.0 L211.0,520.1 L212.0,520.1 L213.0,520.1 L214.0,520.1 L215.0,520.0 L216.0,520.1 L217.0,520.0 L218.0,520.0 L219.0,520.1 L220.0,520.0 L221.0,520.0 L222.0,520.1 L223.0,520.0 L224.0,520.0 L225.0,520.1 L226.0,520.0 L226.0,520.9 Z" fill="#f4ae80" stroke="none" stroke-width="0.7"/>
<path d="M178.6,520.9 C179.4,507.8 179.6,506.8 183.1,506.8 L222.8,506.8 C226.3,506.8 226.5,507.8 227.3,520.9" fill="none" stroke="#ef9f6c" stroke-width="0.8"/>
<rect x="200.5" y="506.2" width="3" height="1.2" fill="#666" fill-opacity="0.6"/>
<path d="M178.6,520.9 C179.4,523.0 179.6,524.0 183.1,524.0 L222.8,524.0 C226.3,524.0 226.5,523.0 227.3,520.9" fill="none" stroke="#ef9f6c" stroke-width="0.8"/>
<rect x="201.5" y="523.4" width="3" height="1.2" fill="#666" fill-opacity="0.6"/>
<line x1="173.9" y1="533.3" x2="173.9" y2="552.5" stroke="#111" stroke-width="0.9"/>
<line x1="172.6" y1="551.3" x2="174.20000000000002" y2="551.3" stroke="#111" stroke-width="0.7"/>
<text x="171.9" y="552.9" font-size="5.06" fill="#333" text-anchor="end" stroke="#333" stroke-width="0.003">0</text>
<line x1="172.6" y1="546.3" x2="174.20000000000002" y2="546.3" stroke="#111" stroke-width="0.7"/>
<text x="171.9" y="547.9" font-size="5.06" fill="#333" text-anchor="end" stroke="#333" stroke-width="0.003">100</text>
<line x1="172.6" y1="541.3" x2="174.20000000000002" y2="541.3" stroke="#111" stroke-width="0.7"/>
<text x="171.9" y="542.9" font-size="5.06" fill="#333" text-anchor="end" stroke="#333" stroke-width="0.003">200</text>
<line x1="172.6" y1="536.3" x2="174.20000000000002" y2="536.3" stroke="#111" stroke-width="0.7"/>
<text x="171.9" y="537.9" font-size="5.06" fill="#333" text-anchor="end" stroke="#333" stroke-width="0.003">300</text>
<path d="M174.6,551.3 L174.6,537.3 L176.4,539.3 L178.2,539.3 L178.2,551.3 Z" fill="#6cc6ec" stroke="none" stroke-width="0.7"/>
<path d="M184.0,551.3 L184.0,551.3 L185.0,551.0 L186.0,550.7 L187.0,550.4 L188.0,550.0 L189.0,549.6 L190.0,549.2 L191.0,549.2 L192.0,549.2 L193.0,549.4 L194.0,549.3 L195.0,549.5 L196.0,549.4 L197.0,549.3 L198.0,549.4 L199.0,549.2 L200.0,549.3 L201.0,549.1 L202.0,549.2 L203.0,549.2 L204.0,549.0 L205.0,549.2 L206.0,549.3 L207.0,550.8 L208.0,550.8 L208.0,551.3 Z" fill="#6cc6ec" stroke="none" stroke-width="0.7"/>
<path d="M178.6,551.3 C179.4,535.0999999999999 179.6,534.0999999999999 183.1,534.0999999999999 L222.8,534.0999999999999 C226.3,534.0999999999999 226.5,535.0999999999999 227.3,551.3" fill="none" stroke="#45aede" stroke-width="0.8"/>
<rect x="200.5" y="533.4999999999999" width="3" height="1.2" fill="#666" fill-opacity="0.6"/>
<line x1="173.9" y1="561.0" x2="173.9" y2="580.6" stroke="#111" stroke-width="0.9"/>
<line x1="172.6" y1="579.8" x2="174.20000000000002" y2="579.8" stroke="#111" stroke-width="0.7"/>
<text x="171.9" y="581.4" font-size="5.06" fill="#333" text-anchor="end" stroke="#333" stroke-width="0.003">0</text>
<line x1="172.6" y1="574.0333333333333" x2="174.20000000000002" y2="574.0333333333333" stroke="#111" stroke-width="0.7"/>
<text x="171.9" y="575.6333333333333" font-size="5.06" fill="#333" text-anchor="end" stroke="#333" stroke-width="0.003">200</text>
<line x1="172.6" y1="568.2666666666667" x2="174.20000000000002" y2="568.2666666666667" stroke="#111" stroke-width="0.7"/>
<text x="171.9" y="569.8666666666667" font-size="5.06" fill="#333" text-anchor="end" stroke="#333" stroke-width="0.003">400</text>
<line x1="172.6" y1="562.5" x2="174.20000000000002" y2="562.5" stroke="#111" stroke-width="0.7"/>
<text x="171.9" y="564.1" font-size="5.06" fill="#333" text-anchor="end" stroke="#333" stroke-width="0.003">600</text>
<path d="M174.6,579.8 L174.6,563.5 L176.4,565.6 L178.2,565.4 L178.2,579.8 Z" fill="#6cc6ec" stroke="none" stroke-width="0.7"/>
<path d="M186.0,579.8 L186.0,579.8 L187.0,579.6 L188.0,579.4 L189.0,579.1 L190.0,579.0 L191.0,578.8 L192.0,578.7 L193.0,578.5 L194.0,578.3 L195.0,578.0 L196.0,578.1 L197.0,578.0 L198.0,578.2 L199.0,577.9 L200.0,578.0 L201.0,578.0 L202.0,578.0 L203.0,578.3 L204.0,578.3 L205.0,578.4 L206.0,578.2 L207.0,578.4 L208.0,578.4 L209.0,578.4 L210.0,578.2 L211.0,578.3 L212.0,578.5 L213.0,578.3 L214.0,578.5 L215.0,578.6 L216.0,578.5 L217.0,578.4 L218.0,578.7 L219.0,578.5 L220.0,578.6 L221.0,578.6 L222.0,578.7 L223.0,578.8 L224.0,578.8 L225.0,578.7 L226.0,578.8 L226.0,579.8 Z" fill="#6cc6ec" stroke="none" stroke-width="0.7"/>
<path d="M178.6,579.8 C179.4,562.8 179.6,561.8 183.1,561.8 L222.8,561.8 C226.3,561.8 226.5,562.8 227.3,579.8" fill="none" stroke="#45aede" stroke-width="0.8"/>
<rect x="200.5" y="561.1999999999999" width="3" height="1.2" fill="#666" fill-opacity="0.6"/>
<line x1="173.9" y1="585.3" x2="173.9" y2="604.4" stroke="#111" stroke-width="0.9"/>
<line x1="172.6" y1="603.9" x2="174.20000000000002" y2="603.9" stroke="#111" stroke-width="0.7"/>
<text x="171.9" y="605.5" font-size="5.06" fill="#333" text-anchor="end" stroke="#333" stroke-width="0.003">0</text>
<line x1="172.6" y1="598.3666666666667" x2="174.20000000000002" y2="598.3666666666667" stroke="#111" stroke-width="0.7"/>
<text x="171.9" y="599.9666666666667" font-size="5.06" fill="#333" text-anchor="end" stroke="#333" stroke-width="0.003">250</text>
<line x1="172.6" y1="592.8333333333333" x2="174.20000000000002" y2="592.8333333333333" stroke="#111" stroke-width="0.7"/>
<text x="171.9" y="594.4333333333333" font-size="5.06" fill="#333" text-anchor="end" stroke="#333" stroke-width="0.003">500</text>
<line x1="172.6" y1="587.3" x2="174.20000000000002" y2="587.3" stroke="#111" stroke-width="0.7"/>
<text x="171.9" y="588.9" font-size="5.06" fill="#333" text-anchor="end" stroke="#333" stroke-width="0.003">750</text>
<path d="M174.6,603.9 L174.6,588.3 L176.4,590.2 L178.2,590.1 L178.2,603.9 Z" fill="#b9b9b9" stroke="none" stroke-width="0.7"/>
<path d="M184.0,603.9 L184.0,603.9 L185.0,603.4 L186.0,602.7 L187.0,602.1 L188.0,601.8 L189.0,601.0 L190.0,600.9 L191.0,600.1 L192.0,599.7 L193.0,599.0 L194.0,599.0 L195.0,599.1 L196.0,599.6 L197.0,599.8 L198.0,599.2 L199.0,599.2 L200.0,599.9 L201.0,599.1 L202.0,599.1 L203.0,599.6 L204.0,599.5 L205.0,599.4 L206.0,599.2 L207.0,599.5 L208.0,599.6 L209.0,599.4 L210.0,599.7 L211.0,600.1 L212.0,599.7 L213.0,599.9 L214.0,600.0 L215.0,599.9 L216.0,600.1 L217.0,600.1 L218.0,599.7 L219.0,599.6 L220.0,600.0 L221.0,599.7 L222.0,600.4 L223.0,600.1 L224.0,599.9 L225.0,599.9 L226.0,600.3 L227.0,600.5 L227.0,603.9 Z" fill="#b9b9b9" stroke="none" stroke-width="0.7"/>
<path d="M178.6,603.9 C179.4,587.0999999999999 179.6,586.0999999999999 183.1,586.0999999999999 L222.8,586.0999999999999 C226.3,586.0999999999999 226.5,587.0999999999999 227.3,603.9" fill="none" stroke="#7a7a7a" stroke-width="0.8"/>
<rect x="200.5" y="585.4999999999999" width="3" height="1.2" fill="#666" fill-opacity="0.6"/>
<line x1="251.6" y1="480.6" x2="251.6" y2="498.2" stroke="#111" stroke-width="0.9"/>
<line x1="250.29999999999998" y1="494.3" x2="251.9" y2="494.3" stroke="#111" stroke-width="0.7"/>
<text x="249.6" y="495.90000000000003" font-size="5.06" fill="#333" text-anchor="end" stroke="#333" stroke-width="0.003">0</text>
<line x1="250.29999999999998" y1="490.03333333333336" x2="251.9" y2="490.03333333333336" stroke="#111" stroke-width="0.7"/>
<text x="249.6" y="491.6333333333334" font-size="5.06" fill="#333" text-anchor="end" stroke="#333" stroke-width="0.003">250</text>
<line x1="250.29999999999998" y1="485.76666666666665" x2="251.9" y2="485.76666666666665" stroke="#111" stroke-width="0.7"/>
<text x="249.6" y="487.3666666666667" font-size="5.06" fill="#333" text-anchor="end" stroke="#333" stroke-width="0.003">500</text>
<line x1="250.29999999999998" y1="481.5" x2="251.9" y2="481.5" stroke="#111" stroke-width="0.7"/>
<text x="249.6" y="483.1" font-size="5.06" fill="#333" text-anchor="end" stroke="#333" stroke-width="0.003">750</text>
<path d="M252.3,494.3 L252.3,482.5 L253.6,484.8 L254.9,484.5 L256.1,485.0 L257.4,484.8 L258.7,484.7 L258.7,494.3 Z" fill="#f4ae80" stroke="none" stroke-width="0.7"/>
<path d="M292.5,494.3 L292.5,483.8 L293.8,485.2 L295.0,485.1 L296.2,486.3 L297.5,486.1 L298.8,486.6 L300.0,486.4 L301.2,487.1 L302.5,486.1 L302.5,494.3 Z" fill="#f4ae80" stroke="none" stroke-width="0.7"/>
<line x1="258.7" y1="493.7" x2="292.5" y2="493.7" stroke="#ef9f6c" stroke-width="0.9"/>
<path d="M258.7,491.3 C259.5,496.4 259.7,497.4 263.2,497.4 L288.0,497.4 C291.5,497.4 291.7,496.4 292.5,491.3" fill="none" stroke="#ef9f6c" stroke-width="0.8"/>
<circle cx="262.50" cy="481.50" r="0.8" fill="#4aa0d0"/>
<rect x="273.5" y="496.79999999999995" width="3" height="1.2" fill="#666" fill-opacity="0.6"/>
<line x1="251.6" y1="506.0" x2="251.6" y2="524.5" stroke="#111" stroke-width="0.9"/>
<line x1="250.29999999999998" y1="520.9" x2="251.9" y2="520.9" stroke="#111" stroke-width="0.7"/>
<text x="249.6" y="522.5" font-size="5.06" fill="#333" text-anchor="end" stroke="#333" stroke-width="0.003">0</text>
<line x1="250.29999999999998" y1="516.9333333333333" x2="251.9" y2="516.9333333333333" stroke="#111" stroke-width="0.7"/>
<text x="249.6" y="518.5333333333333" font-size="5.06" fill="#333" text-anchor="end" stroke="#333" stroke-width="0.003">50</text>
<line x1="250.29999999999998" y1="512.9666666666667" x2="251.9" y2="512.9666666666667" stroke="#111" stroke-width="0.7"/>
<text x="249.6" y="514.5666666666667" font-size="5.06" fill="#333" text-anchor="end" stroke="#333" stroke-width="0.003">100</text>
<line x1="250.29999999999998" y1="509.0" x2="251.9" y2="509.0" stroke="#111" stroke-width="0.7"/>
<text x="249.6" y="510.6" font-size="5.06" fill="#333" text-anchor="end" stroke="#333" stroke-width="0.003">150</text>
<path d="M252.3,520.9 L252.3,508.8 L253.6,511.1 L254.9,510.6 L256.2,511.0 L257.6,510.5 L258.9,510.6 L260.2,512.2 L260.2,520.9 Z" fill="#f4ae80" stroke="none" stroke-width="0.7"/>
<path d="M265.8,520.9 L265.8,513.8 L267.0,515.7 L268.2,515.7 L269.4,514.8 L270.7,515.5 L271.9,516.3 L273.1,516.1 L274.3,516.9 L275.5,514.9 L276.7,516.8 L277.9,515.0 L279.1,516.6 L280.4,516.5 L281.6,515.5 L282.8,516.4 L284.0,517.2 L285.2,517.8 L286.4,515.9 L287.6,517.1 L288.9,517.9 L290.1,516.4 L291.3,518.4 L292.5,518.6 L292.5,520.9 Z" fill="#f4ae80" stroke="none" stroke-width="0.7"/>
<path d="M292.5,520.9 L292.5,508.8 L293.8,509.7 L295.0,509.7 L296.2,509.8 L297.5,510.2 L298.8,510.9 L300.0,511.7 L301.2,512.4 L302.5,511.9 L302.5,520.9 Z" fill="#f4ae80" stroke="none" stroke-width="0.7"/>
<path d="M260.2,513 C261.0,509.2 261.2,508.2 262.2,508.2 L263.8,508.2 C264.8,508.2 265.0,509.2 265.8,513" fill="none" stroke="#ef9f6c" stroke-width="0.8"/>
<path d="M260.2,517.9 C261.0,522.7 261.2,523.7 264.7,523.7 L288.0,523.7 C291.5,523.7 291.7,522.7 292.5,517.9" fill="none" stroke="#ef9f6c" stroke-width="0.8"/>
<rect x="274.5" y="523.1" width="3" height="1.2" fill="#666" fill-opacity="0.6"/>
<line x1="251.6" y1="533.3" x2="251.6" y2="552.5" stroke="#111" stroke-width="0.9"/>
<line x1="250.29999999999998" y1="551.3" x2="251.9" y2="551.3" stroke="#111" stroke-width="0.7"/>
<text x="249.6" y="552.9" font-size="5.06" fill="#333" text-anchor="end" stroke="#333" stroke-width="0.003">0</text>
<line x1="250.29999999999998" y1="546.3" x2="251.9" y2="546.3" stroke="#111" stroke-width="0.7"/>
<text x="249.6" y="547.9" font-size="5.06" fill="#333" text-anchor="end" stroke="#333" stroke-width="0.003">200</text>
<line x1="250.29999999999998" y1="541.3" x2="251.9" y2="541.3" stroke="#111" stroke-width="0.7"/>
<text x="249.6" y="542.9" font-size="5.06" fill="#333" text-anchor="end" stroke="#333" stroke-width="0.003">400</text>
<line x1="250.29999999999998" y1="536.3" x2="251.9" y2="536.3" stroke="#111" stroke-width="0.7"/>
<text x="249.6" y="537.9" font-size="5.06" fill="#333" text-anchor="end" stroke="#333" stroke-width="0.003">600</text>
<path d="M252.3,551.3 L252.3,536.5 L253.5,538.2 L254.7,537.7 L255.9,538.4 L257.1,537.7 L258.3,538.6 L258.3,551.3 Z" fill="#6cc6ec" stroke="none" stroke-width="0.7"/>
<path d="M292.4,551.3 L292.4,538.7 L293.7,539.1 L295.0,539.8 L296.3,542.3 L297.6,540.5 L298.9,541.5 L300.2,542.5 L301.5,542.9 L302.8,541.8 L302.8,551.3 Z" fill="#6cc6ec" stroke="none" stroke-width="0.7"/>
<path d="M258.3,547.3 C259.1,535.3 259.3,534.3 262.8,534.3 L287.9,534.3 C291.4,534.3 291.59999999999997,535.3 292.4,547.3" fill="none" stroke="#45aede" stroke-width="0.8"/>
<rect x="274.0" y="533.6999999999999" width="3" height="1.2" fill="#666" fill-opacity="0.6"/>
<line x1="251.6" y1="561.0" x2="251.6" y2="580.6" stroke="#111" stroke-width="0.9"/>
<line x1="250.29999999999998" y1="579.8" x2="251.9" y2="579.8" stroke="#111" stroke-width="0.7"/>
<text x="249.6" y="581.4" font-size="5.06" fill="#333" text-anchor="end" stroke="#333" stroke-width="0.003">0</text>
<line x1="250.29999999999998" y1="574.0333333333333" x2="251.9" y2="574.0333333333333" stroke="#111" stroke-width="0.7"/>
<text x="249.6" y="575.6333333333333" font-size="5.06" fill="#333" text-anchor="end" stroke="#333" stroke-width="0.003">500</text>
<line x1="250.29999999999998" y1="568.2666666666667" x2="251.9" y2="568.2666666666667" stroke="#111" stroke-width="0.7"/>
<text x="249.6" y="569.8666666666667" font-size="5.06" fill="#333" text-anchor="end" stroke="#333" stroke-width="0.003">1000</text>
<line x1="250.29999999999998" y1="562.5" x2="251.9" y2="562.5" stroke="#111" stroke-width="0.7"/>
<text x="249.6" y="564.1" font-size="5.06" fill="#333" text-anchor="end" stroke="#333" stroke-width="0.003">1500</text>
<path d="M252.3,579.8 L252.3,565.4 L253.5,565.9 L254.7,567.0 L255.9,566.9 L257.1,566.7 L258.3,567.6 L258.3,579.8 Z" fill="#6cc6ec" stroke="none" stroke-width="0.7"/>
<path d="M292.4,579.8 L292.4,566.5 L293.7,568.0 L295.0,570.2 L296.3,567.8 L297.6,568.5 L298.9,568.6 L300.2,570.4 L301.5,572.0 L302.8,571.8 L302.8,579.8 Z" fill="#6cc6ec" stroke="none" stroke-width="0.7"/>
<path d="M258.3,575.8 C259.1,563.0 259.3,562.0 262.8,562.0 L287.9,562.0 C291.4,562.0 291.59999999999997,563.0 292.4,575.8" fill="none" stroke="#45aede" stroke-width="0.8"/>
<rect x="274.0" y="561.4" width="3" height="1.2" fill="#666" fill-opacity="0.6"/>
<line x1="251.6" y1="585.3" x2="251.6" y2="604.4" stroke="#111" stroke-width="0.9"/>
<line x1="250.29999999999998" y1="603.9" x2="251.9" y2="603.9" stroke="#111" stroke-width="0.7"/>
<text x="249.6" y="605.5" font-size="5.06" fill="#333" text-anchor="end" stroke="#333" stroke-width="0.003">0</text>
<line x1="250.29999999999998" y1="598.3666666666667" x2="251.9" y2="598.3666666666667" stroke="#111" stroke-width="0.7"/>
<text x="249.6" y="599.9666666666667" font-size="5.06" fill="#333" text-anchor="end" stroke="#333" stroke-width="0.003">250</text>
<line x1="250.29999999999998" y1="592.8333333333333" x2="251.9" y2="592.8333333333333" stroke="#111" stroke-width="0.7"/>
<text x="249.6" y="594.4333333333333" font-size="5.06" fill="#333" text-anchor="end" stroke="#333" stroke-width="0.003">500</text>
<line x1="250.29999999999998" y1="587.3" x2="251.9" y2="587.3" stroke="#111" stroke-width="0.7"/>
<text x="249.6" y="588.9" font-size="5.06" fill="#333" text-anchor="end" stroke="#333" stroke-width="0.003">750</text>
<path d="M252.3,603.9 L252.3,589.2 L253.5,589.7 L254.7,590.6 L255.9,590.6 L257.1,591.9 L258.3,591.8 L258.3,603.9 Z" fill="#b9b9b9" stroke="none" stroke-width="0.7"/>
<path d="M292.4,603.9 L292.4,590.0 L293.7,592.2 L295.0,591.5 L296.3,592.4 L297.6,593.1 L298.9,593.0 L300.2,593.9 L301.5,592.9 L302.8,594.3 L302.8,603.9 Z" fill="#b9b9b9" stroke="none" stroke-width="0.7"/>
<path d="M258.3,599.9 C259.1,587.3 259.3,586.3 262.8,586.3 L287.9,586.3 C291.4,586.3 291.59999999999997,587.3 292.4,599.9" fill="none" stroke="#7a7a7a" stroke-width="0.8"/>
<rect x="274.0" y="585.6999999999999" width="3" height="1.2" fill="#666" fill-opacity="0.6"/>
<line x1="328.2" y1="480.6" x2="328.2" y2="498.2" stroke="#111" stroke-width="0.9"/>
<line x1="326.9" y1="494.3" x2="328.5" y2="494.3" stroke="#111" stroke-width="0.7"/>
<text x="326.2" y="495.90000000000003" font-size="5.06" fill="#333" text-anchor="end" stroke="#333" stroke-width="0.003">0</text>
<line x1="326.9" y1="490.03333333333336" x2="328.5" y2="490.03333333333336" stroke="#111" stroke-width="0.7"/>
<text x="326.2" y="491.6333333333334" font-size="5.06" fill="#333" text-anchor="end" stroke="#333" stroke-width="0.003">500</text>
<line x1="326.9" y1="485.76666666666665" x2="328.5" y2="485.76666666666665" stroke="#111" stroke-width="0.7"/>
<text x="326.2" y="487.3666666666667" font-size="5.06" fill="#333" text-anchor="end" stroke="#333" stroke-width="0.003">1000</text>
<line x1="326.9" y1="481.5" x2="328.5" y2="481.5" stroke="#111" stroke-width="0.7"/>
<text x="326.2" y="483.1" font-size="5.06" fill="#333" text-anchor="end" stroke="#333" stroke-width="0.003">1500</text>
<line x1="345" y1="480.6" x2="345" y2="498.2" stroke="#888" stroke-width="0.55"/>
<line x1="353.6" y1="480.6" x2="353.6" y2="498.2" stroke="#888" stroke-width="0.55"/>
<rect x="329.0" y="492.3" width="2.1999999999999886" height="2.0" fill="#f4ae80"/>
<path d="M330.8,494.3 C331.6,482.20000000000005 331.8,481.20000000000005 335.3,481.20000000000005 L362.5,481.20000000000005 C366,481.20000000000005 366.2,482.20000000000005 367,494.3" fill="none" stroke="#ef9f6c" stroke-width="0.8"/>
<rect x="347.8" y="480.6" width="3" height="1.2" fill="#666" fill-opacity="0.6"/>
<path d="M330.8,494.3 C331.6,495.7 331.8,496.7 335.3,496.7 L362.5,496.7 C366,496.7 366.2,495.7 367,494.3" fill="none" stroke="#ef9f6c" stroke-width="0.8"/>
<rect x="347.8" y="496.09999999999997" width="3" height="1.2" fill="#666" fill-opacity="0.6"/>
<line x1="328.2" y1="506.0" x2="328.2" y2="524.5" stroke="#111" stroke-width="0.9"/>
<line x1="326.9" y1="520.9" x2="328.5" y2="520.9" stroke="#111" stroke-width="0.7"/>
<text x="326.2" y="522.5" font-size="5.06" fill="#333" text-anchor="end" stroke="#333" stroke-width="0.003">0</text>
<line x1="326.9" y1="516.9333333333333" x2="328.5" y2="516.9333333333333" stroke="#111" stroke-width="0.7"/>
<text x="326.2" y="518.5333333333333" font-size="5.06" fill="#333" text-anchor="end" stroke="#333" stroke-width="0.003">10</text>
<line x1="326.9" y1="512.9666666666667" x2="328.5" y2="512.9666666666667" stroke="#111" stroke-width="0.7"/>
<text x="326.2" y="514.5666666666667" font-size="5.06" fill="#333" text-anchor="end" stroke="#333" stroke-width="0.003">20</text>
<line x1="326.9" y1="509.0" x2="328.5" y2="509.0" stroke="#111" stroke-width="0.7"/>
<text x="326.2" y="510.6" font-size="5.06" fill="#333" text-anchor="end" stroke="#333" stroke-width="0.003">30</text>
<line x1="345" y1="506.0" x2="345" y2="524.5" stroke="#888" stroke-width="0.55"/>
<line x1="353.6" y1="506.0" x2="353.6" y2="524.5" stroke="#888" stroke-width="0.55"/>
<rect x="329.0" y="518.9" width="2.1999999999999886" height="2.0" fill="#f4ae80"/>
<path d="M330.8,520.9 C331.6,507.6 331.8,506.6 335.3,506.6 L362.5,506.6 C366,506.6 366.2,507.6 367,520.9" fill="none" stroke="#ef9f6c" stroke-width="0.8"/>
<rect x="347.8" y="506.0" width="3" height="1.2" fill="#666" fill-opacity="0.6"/>
<path d="M330.8,520.9 C331.6,522.0 331.8,523.0 335.3,523.0 L362.5,523.0 C366,523.0 366.2,522.0 367,520.9" fill="none" stroke="#ef9f6c" stroke-width="0.8"/>
<rect x="347.8" y="522.4" width="3" height="1.2" fill="#666" fill-opacity="0.6"/>
<line x1="328.2" y1="533.3" x2="328.2" y2="552.5" stroke="#111" stroke-width="0.9"/>
<line x1="326.9" y1="551.3" x2="328.5" y2="551.3" stroke="#111" stroke-width="0.7"/>
<text x="326.2" y="552.9" font-size="5.06" fill="#333" text-anchor="end" stroke="#333" stroke-width="0.003">0</text>
<line x1="326.9" y1="546.3" x2="328.5" y2="546.3" stroke="#111" stroke-width="0.7"/>
<text x="326.2" y="547.9" font-size="5.06" fill="#333" text-anchor="end" stroke="#333" stroke-width="0.003">200</text>
<line x1="326.9" y1="541.3" x2="328.5" y2="541.3" stroke="#111" stroke-width="0.7"/>
<text x="326.2" y="542.9" font-size="5.06" fill="#333" text-anchor="end" stroke="#333" stroke-width="0.003">400</text>
<line x1="326.9" y1="536.3" x2="328.5" y2="536.3" stroke="#111" stroke-width="0.7"/>
<text x="326.2" y="537.9" font-size="5.06" fill="#333" text-anchor="end" stroke="#333" stroke-width="0.003">600</text>
<line x1="345" y1="533.3" x2="345" y2="552.5" stroke="#888" stroke-width="0.55"/>
<line x1="353.6" y1="533.3" x2="353.6" y2="552.5" stroke="#888" stroke-width="0.55"/>
<rect x="329.0" y="549.3" width="2.1999999999999886" height="2.0" fill="#6cc6ec"/>
<path d="M330.8,551.3 C331.6,534.9 331.8,533.9 335.3,533.9 L362.5,533.9 C366,533.9 366.2,534.9 367,551.3" fill="none" stroke="#45aede" stroke-width="0.8"/>
<rect x="347.8" y="533.3" width="3" height="1.2" fill="#666" fill-opacity="0.6"/>
<line x1="328.2" y1="561.0" x2="328.2" y2="580.6" stroke="#111" stroke-width="0.9"/>
<line x1="326.9" y1="579.8" x2="328.5" y2="579.8" stroke="#111" stroke-width="0.7"/>
<text x="326.2" y="581.4" font-size="5.06" fill="#333" text-anchor="end" stroke="#333" stroke-width="0.003">0</text>
<line x1="326.9" y1="574.0333333333333" x2="328.5" y2="574.0333333333333" stroke="#111" stroke-width="0.7"/>
<text x="326.2" y="575.6333333333333" font-size="5.06" fill="#333" text-anchor="end" stroke="#333" stroke-width="0.003">400</text>
<line x1="326.9" y1="568.2666666666667" x2="328.5" y2="568.2666666666667" stroke="#111" stroke-width="0.7"/>
<text x="326.2" y="569.8666666666667" font-size="5.06" fill="#333" text-anchor="end" stroke="#333" stroke-width="0.003">800</text>
<line x1="326.9" y1="562.5" x2="328.5" y2="562.5" stroke="#111" stroke-width="0.7"/>
<text x="326.2" y="564.1" font-size="5.06" fill="#333" text-anchor="end" stroke="#333" stroke-width="0.003">1200</text>
<line x1="345" y1="561.0" x2="345" y2="580.6" stroke="#888" stroke-width="0.55"/>
<line x1="353.6" y1="561.0" x2="353.6" y2="580.6" stroke="#888" stroke-width="0.55"/>
<rect x="329.0" y="577.8" width="2.1999999999999886" height="2.0" fill="#6cc6ec"/>
<path d="M330.8,579.8 C331.6,562.6 331.8,561.6 335.3,561.6 L362.5,561.6 C366,561.6 366.2,562.6 367,579.8" fill="none" stroke="#45aede" stroke-width="0.8"/>
<rect x="347.8" y="561.0" width="3" height="1.2" fill="#666" fill-opacity="0.6"/>
<line x1="328.2" y1="585.3" x2="328.2" y2="604.4" stroke="#111" stroke-width="0.9"/>
<line x1="326.9" y1="603.9" x2="328.5" y2="603.9" stroke="#111" stroke-width="0.7"/>
<text x="326.2" y="605.5" font-size="5.06" fill="#333" text-anchor="end" stroke="#333" stroke-width="0.003">0</text>
<line x1="326.9" y1="598.3666666666667" x2="328.5" y2="598.3666666666667" stroke="#111" stroke-width="0.7"/>
<text x="326.2" y="599.9666666666667" font-size="5.06" fill="#333" text-anchor="end" stroke="#333" stroke-width="0.003">500</text>
<line x1="326.9" y1="592.8333333333333" x2="328.5" y2="592.8333333333333" stroke="#111" stroke-width="0.7"/>
<text x="326.2" y="594.4333333333333" font-size="5.06" fill="#333" text-anchor="end" stroke="#333" stroke-width="0.003">1000</text>
<line x1="326.9" y1="587.3" x2="328.5" y2="587.3" stroke="#111" stroke-width="0.7"/>
<text x="326.2" y="588.9" font-size="5.06" fill="#333" text-anchor="end" stroke="#333" stroke-width="0.003">1500</text>
<line x1="345" y1="585.3" x2="345" y2="604.4" stroke="#888" stroke-width="0.55"/>
<line x1="353.6" y1="585.3" x2="353.6" y2="604.4" stroke="#888" stroke-width="0.55"/>
<rect x="329.0" y="601.9" width="2.1999999999999886" height="2.0" fill="#b9b9b9"/>
<path d="M330.8,603.9 C331.6,586.9 331.8,585.9 335.3,585.9 L362.5,585.9 C366,585.9 366.2,586.9 367,603.9" fill="none" stroke="#7a7a7a" stroke-width="0.8"/>
<rect x="347.8" y="585.3" width="3" height="1.2" fill="#666" fill-opacity="0.6"/>
<line x1="392.1" y1="480.6" x2="392.1" y2="498.2" stroke="#111" stroke-width="0.9"/>
<line x1="390.8" y1="494.3" x2="392.40000000000003" y2="494.3" stroke="#111" stroke-width="0.7"/>
<text x="390.1" y="495.90000000000003" font-size="5.06" fill="#333" text-anchor="end" stroke="#333" stroke-width="0.003">0</text>
<line x1="390.8" y1="487.9" x2="392.40000000000003" y2="487.9" stroke="#111" stroke-width="0.7"/>
<text x="390.1" y="489.5" font-size="5.06" fill="#333" text-anchor="end" stroke="#333" stroke-width="0.003">100</text>
<line x1="390.8" y1="481.5" x2="392.40000000000003" y2="481.5" stroke="#111" stroke-width="0.7"/>
<text x="390.1" y="483.1" font-size="5.06" fill="#333" text-anchor="end" stroke="#333" stroke-width="0.003">200</text>
<path d="M394.8,494.3 C395.6,482.20000000000005 395.8,481.20000000000005 399.3,481.20000000000005 L434.7,481.20000000000005 C438.2,481.20000000000005 438.4,482.20000000000005 439.2,494.3" fill="none" stroke="#ef9f6c" stroke-width="0.8"/>
<rect x="415.5" y="480.6" width="3" height="1.2" fill="#666" fill-opacity="0.6"/>
<line x1="392.1" y1="506.0" x2="392.1" y2="524.5" stroke="#111" stroke-width="0.9"/>
<line x1="390.8" y1="520.9" x2="392.40000000000003" y2="520.9" stroke="#111" stroke-width="0.7"/>
<text x="390.1" y="522.5" font-size="5.06" fill="#333" text-anchor="end" stroke="#333" stroke-width="0.003">0</text>
<line x1="390.8" y1="516.9333333333333" x2="392.40000000000003" y2="516.9333333333333" stroke="#111" stroke-width="0.7"/>
<text x="390.1" y="518.5333333333333" font-size="5.06" fill="#333" text-anchor="end" stroke="#333" stroke-width="0.003">20</text>
<line x1="390.8" y1="512.9666666666667" x2="392.40000000000003" y2="512.9666666666667" stroke="#111" stroke-width="0.7"/>
<text x="390.1" y="514.5666666666667" font-size="5.06" fill="#333" text-anchor="end" stroke="#333" stroke-width="0.003">40</text>
<line x1="390.8" y1="509.0" x2="392.40000000000003" y2="509.0" stroke="#111" stroke-width="0.7"/>
<text x="390.1" y="510.6" font-size="5.06" fill="#333" text-anchor="end" stroke="#333" stroke-width="0.003">60</text>
<path d="M394.8,520.9 C395.6,507.6 395.8,506.6 399.3,506.6 L434.7,506.6 C438.2,506.6 438.4,507.6 439.2,520.9" fill="none" stroke="#ef9f6c" stroke-width="0.8"/>
<rect x="415.5" y="506.0" width="3" height="1.2" fill="#666" fill-opacity="0.6"/>
<line x1="392.1" y1="533.3" x2="392.1" y2="552.5" stroke="#111" stroke-width="0.9"/>
<line x1="390.8" y1="551.3" x2="392.40000000000003" y2="551.3" stroke="#111" stroke-width="0.7"/>
<text x="390.1" y="552.9" font-size="5.06" fill="#333" text-anchor="end" stroke="#333" stroke-width="0.003">0</text>
<line x1="390.8" y1="546.3" x2="392.40000000000003" y2="546.3" stroke="#111" stroke-width="0.7"/>
<text x="390.1" y="547.9" font-size="5.06" fill="#333" text-anchor="end" stroke="#333" stroke-width="0.003">100</text>
<line x1="390.8" y1="541.3" x2="392.40000000000003" y2="541.3" stroke="#111" stroke-width="0.7"/>
<text x="390.1" y="542.9" font-size="5.06" fill="#333" text-anchor="end" stroke="#333" stroke-width="0.003">200</text>
<line x1="390.8" y1="536.3" x2="392.40000000000003" y2="536.3" stroke="#111" stroke-width="0.7"/>
<text x="390.1" y="537.9" font-size="5.06" fill="#333" text-anchor="end" stroke="#333" stroke-width="0.003">300</text>
<path d="M394.8,551.3 L394.8,538.1 L397.0,539.1 L397.0,539.8 L399.0,539.5 L401.0,539.6 L403.0,539.7 L405.0,539.8 L407.0,539.7 L409.0,539.5 L411.0,539.7 L413.0,539.4 L415.0,539.7 L417.0,539.4 L419.0,539.4 L421.0,539.4 L423.0,539.5 L425.0,539.7 L427.0,539.4 L429.0,539.8 L431.0,539.4 L433.0,539.8 L435.0,539.8 L437.0,539.7 L437.0,539.1 L439.2,538.1 L439.2,551.3 Z" fill="#6cc6ec" stroke="none" stroke-width="0.7"/>
<path d="M394.8,551.3 C395.6,534.9 395.8,533.9 399.3,533.9 L434.7,533.9 C438.2,533.9 438.4,534.9 439.2,551.3" fill="none" stroke="#45aede" stroke-width="0.8"/>
<rect x="415.5" y="533.3" width="3" height="1.2" fill="#666" fill-opacity="0.6"/>
<line x1="392.1" y1="561.0" x2="392.1" y2="580.6" stroke="#111" stroke-width="0.9"/>
<line x1="390.8" y1="579.8" x2="392.40000000000003" y2="579.8" stroke="#111" stroke-width="0.7"/>
<text x="390.1" y="581.4" font-size="5.06" fill="#333" text-anchor="end" stroke="#333" stroke-width="0.003">0</text>
<line x1="390.8" y1="575.4749999999999" x2="392.40000000000003" y2="575.4749999999999" stroke="#111" stroke-width="0.7"/>
<text x="390.1" y="577.0749999999999" font-size="5.06" fill="#333" text-anchor="end" stroke="#333" stroke-width="0.003">50</text>
<line x1="390.8" y1="571.15" x2="392.40000000000003" y2="571.15" stroke="#111" stroke-width="0.7"/>
<text x="390.1" y="572.75" font-size="5.06" fill="#333" text-anchor="end" stroke="#333" stroke-width="0.003">100</text>
<line x1="390.8" y1="566.825" x2="392.40000000000003" y2="566.825" stroke="#111" stroke-width="0.7"/>
<text x="390.1" y="568.4250000000001" font-size="5.06" fill="#333" text-anchor="end" stroke="#333" stroke-width="0.003">150</text>
<line x1="390.8" y1="562.5" x2="392.40000000000003" y2="562.5" stroke="#111" stroke-width="0.7"/>
<text x="390.1" y="564.1" font-size="5.06" fill="#333" text-anchor="end" stroke="#333" stroke-width="0.003">200</text>
<path d="M394.8,579.8 L394.8,570.5 L397.0,571.5 L397.0,572.2 L399.0,572.2 L401.0,572.0 L403.0,572.2 L405.0,571.8 L407.0,572.1 L409.0,572.1 L411.0,572.1 L413.0,571.8 L415.0,571.8 L417.0,572.0 L419.0,572.1 L421.0,572.1 L423.0,571.8 L425.0,572.0 L427.0,572.2 L429.0,571.9 L431.0,572.2 L433.0,572.2 L435.0,572.1 L437.0,572.0 L437.0,571.5 L439.2,570.5 L439.2,579.8 Z" fill="#6cc6ec" stroke="none" stroke-width="0.7"/>
<path d="M394.8,579.8 C395.6,562.6 395.8,561.6 399.3,561.6 L434.7,561.6 C438.2,561.6 438.4,562.6 439.2,579.8" fill="none" stroke="#45aede" stroke-width="0.8"/>
<rect x="415.5" y="561.0" width="3" height="1.2" fill="#666" fill-opacity="0.6"/>
<line x1="392.1" y1="585.3" x2="392.1" y2="604.4" stroke="#111" stroke-width="0.9"/>
<line x1="390.8" y1="603.9" x2="392.40000000000003" y2="603.9" stroke="#111" stroke-width="0.7"/>
<text x="390.1" y="605.5" font-size="5.06" fill="#333" text-anchor="end" stroke="#333" stroke-width="0.003">0</text>
<line x1="390.8" y1="595.5999999999999" x2="392.40000000000003" y2="595.5999999999999" stroke="#111" stroke-width="0.7"/>
<text x="390.1" y="597.1999999999999" font-size="5.06" fill="#333" text-anchor="end" stroke="#333" stroke-width="0.003">100</text>
<line x1="390.8" y1="587.3" x2="392.40000000000003" y2="587.3" stroke="#111" stroke-width="0.7"/>
<text x="390.1" y="588.9" font-size="5.06" fill="#333" text-anchor="end" stroke="#333" stroke-width="0.003">200</text>
<path d="M394.8,603.9 C395.6,586.9 395.8,585.9 399.3,585.9 L434.7,585.9 C438.2,585.9 438.4,586.9 439.2,603.9" fill="none" stroke="#7a7a7a" stroke-width="0.8"/>
<rect x="415.5" y="585.3" width="3" height="1.2" fill="#666" fill-opacity="0.6"/>
<line x1="460.8" y1="480.6" x2="460.8" y2="498.2" stroke="#111" stroke-width="0.9"/>
<line x1="459.5" y1="494.3" x2="461.1" y2="494.3" stroke="#111" stroke-width="0.7"/>
<text x="458.8" y="495.90000000000003" font-size="5.06" fill="#333" text-anchor="end" stroke="#333" stroke-width="0.003">0</text>
<line x1="459.5" y1="487.9" x2="461.1" y2="487.9" stroke="#111" stroke-width="0.7"/>
<text x="458.8" y="489.5" font-size="5.06" fill="#333" text-anchor="end" stroke="#333" stroke-width="0.003">250</text>
<line x1="459.5" y1="481.5" x2="461.1" y2="481.5" stroke="#111" stroke-width="0.7"/>
<text x="458.8" y="483.1" font-size="5.06" fill="#333" text-anchor="end" stroke="#333" stroke-width="0.003">500</text>
<path d="M462.0,494.3 L462.0,481.5 L463.4,482.4 L464.7,482.8 L466.1,482.6 L467.4,482.8 L468.8,483.4 L468.8,494.3 Z" fill="#f4ae80" stroke="none" stroke-width="0.7"/>
<path d="M505.2,494.3 L505.2,489.6 L506.5,490.1 L507.9,491.2 L509.2,491.0 L509.2,494.3 Z" fill="#f4ae80" stroke="none" stroke-width="0.7"/>
<path d="M468.8,491.6 C469.6,482.40000000000003 469.8,481.40000000000003 473.3,481.40000000000003 L500.7,481.40000000000003 C504.2,481.40000000000003 504.4,482.40000000000003 505.2,491.6" fill="none" stroke="#ef9f6c" stroke-width="0.8"/>
<rect x="484.5" y="480.8" width="3" height="1.2" fill="#666" fill-opacity="0.6"/>
<line x1="460.8" y1="506.0" x2="460.8" y2="524.5" stroke="#111" stroke-width="0.9"/>
<line x1="459.5" y1="520.9" x2="461.1" y2="520.9" stroke="#111" stroke-width="0.7"/>
<text x="458.8" y="522.5" font-size="5.06" fill="#333" text-anchor="end" stroke="#333" stroke-width="0.003">0</text>
<line x1="459.5" y1="516.9333333333333" x2="461.1" y2="516.9333333333333" stroke="#111" stroke-width="0.7"/>
<text x="458.8" y="518.5333333333333" font-size="5.06" fill="#333" text-anchor="end" stroke="#333" stroke-width="0.003">40</text>
<line x1="459.5" y1="512.9666666666667" x2="461.1" y2="512.9666666666667" stroke="#111" stroke-width="0.7"/>
<text x="458.8" y="514.5666666666667" font-size="5.06" fill="#333" text-anchor="end" stroke="#333" stroke-width="0.003">80</text>
<line x1="459.5" y1="509.0" x2="461.1" y2="509.0" stroke="#111" stroke-width="0.7"/>
<text x="458.8" y="510.6" font-size="5.06" fill="#333" text-anchor="end" stroke="#333" stroke-width="0.003">120</text>
<path d="M462.0,520.9 L462.0,509.8 L463.4,511.4 L464.7,511.2 L466.1,512.0 L467.4,512.3 L468.8,512.4 L468.8,520.9 Z" fill="#f4ae80" stroke="none" stroke-width="0.7"/>
<path d="M505.2,520.9 L505.2,515.0 L506.5,515.8 L507.9,515.9 L509.2,516.6 L509.2,520.9 Z" fill="#f4ae80" stroke="none" stroke-width="0.7"/>
<path d="M468.8,517 C469.6,507.8 469.8,506.8 473.3,506.8 L500.7,506.8 C504.2,506.8 504.4,507.8 505.2,517" fill="none" stroke="#ef9f6c" stroke-width="0.8"/>
<rect x="484.5" y="506.2" width="3" height="1.2" fill="#666" fill-opacity="0.6"/>
<line x1="460.8" y1="533.3" x2="460.8" y2="552.5" stroke="#111" stroke-width="0.9"/>
<line x1="459.5" y1="551.3" x2="461.1" y2="551.3" stroke="#111" stroke-width="0.7"/>
<text x="458.8" y="552.9" font-size="5.06" fill="#333" text-anchor="end" stroke="#333" stroke-width="0.003">0</text>
<line x1="459.5" y1="546.3" x2="461.1" y2="546.3" stroke="#111" stroke-width="0.7"/>
<text x="458.8" y="547.9" font-size="5.06" fill="#333" text-anchor="end" stroke="#333" stroke-width="0.003">40</text>
<line x1="459.5" y1="541.3" x2="461.1" y2="541.3" stroke="#111" stroke-width="0.7"/>
<text x="458.8" y="542.9" font-size="5.06" fill="#333" text-anchor="end" stroke="#333" stroke-width="0.003">80</text>
<line x1="459.5" y1="536.3" x2="461.1" y2="536.3" stroke="#111" stroke-width="0.7"/>
<text x="458.8" y="537.9" font-size="5.06" fill="#333" text-anchor="end" stroke="#333" stroke-width="0.003">120</text>
<path d="M462.0,551.3 L462.0,543.5 L463.4,544.3 L464.7,545.3 L466.1,544.5 L467.4,545.7 L468.8,545.5 L468.8,551.3 Z" fill="#6cc6ec" stroke="none" stroke-width="0.7"/>
<path d="M505.2,551.3 L505.2,543.5 L506.5,544.3 L507.9,544.7 L509.2,545.5 L509.2,551.3 Z" fill="#6cc6ec" stroke="none" stroke-width="0.7"/>
<path d="M468.8,545.5 C469.6,535.0999999999999 469.8,534.0999999999999 473.3,534.0999999999999 L500.7,534.0999999999999 C504.2,534.0999999999999 504.4,535.0999999999999 505.2,545.5" fill="none" stroke="#45aede" stroke-width="0.8"/>
<rect x="484.5" y="533.4999999999999" width="3" height="1.2" fill="#666" fill-opacity="0.6"/>
<path d="M468.8,545.5 C469.6,550.7 469.8,551.7 473.3,551.7 L500.7,551.7 C504.2,551.7 504.4,550.7 505.2,545.5" fill="none" stroke="#45aede" stroke-width="0.6"/>
<rect x="485.5" y="551.1" width="3" height="1.2" fill="#666" fill-opacity="0.6"/>
<line x1="460.8" y1="561.0" x2="460.8" y2="580.6" stroke="#111" stroke-width="0.9"/>
<line x1="459.5" y1="579.8" x2="461.1" y2="579.8" stroke="#111" stroke-width="0.7"/>
<text x="458.8" y="581.4" font-size="5.06" fill="#333" text-anchor="end" stroke="#333" stroke-width="0.003">0</text>
<line x1="459.5" y1="574.0333333333333" x2="461.1" y2="574.0333333333333" stroke="#111" stroke-width="0.7"/>
<text x="458.8" y="575.6333333333333" font-size="5.06" fill="#333" text-anchor="end" stroke="#333" stroke-width="0.003">100</text>
<line x1="459.5" y1="568.2666666666667" x2="461.1" y2="568.2666666666667" stroke="#111" stroke-width="0.7"/>
<text x="458.8" y="569.8666666666667" font-size="5.06" fill="#333" text-anchor="end" stroke="#333" stroke-width="0.003">200</text>
<line x1="459.5" y1="562.5" x2="461.1" y2="562.5" stroke="#111" stroke-width="0.7"/>
<text x="458.8" y="564.1" font-size="5.06" fill="#333" text-anchor="end" stroke="#333" stroke-width="0.003">300</text>
<path d="M462.0,579.8 L462.0,567.5 L463.4,569.3 L464.7,568.6 L466.1,569.8 L467.4,570.1 L468.8,569.8 L468.8,579.8 Z" fill="#6cc6ec" stroke="none" stroke-width="0.7"/>
<path d="M505.2,579.8 L505.2,570.2 L506.5,571.1 L507.9,571.1 L509.2,572.0 L509.2,579.8 Z" fill="#6cc6ec" stroke="none" stroke-width="0.7"/>
<path d="M468.8,572.2 C469.6,562.8 469.8,561.8 473.3,561.8 L500.7,561.8 C504.2,561.8 504.4,562.8 505.2,572.2" fill="none" stroke="#45aede" stroke-width="0.8"/>
<rect x="484.5" y="561.1999999999999" width="3" height="1.2" fill="#666" fill-opacity="0.6"/>
<path d="M468.8,572.2 C469.6,578.8000000000001 469.8,579.8000000000001 473.3,579.8000000000001 L500.7,579.8000000000001 C504.2,579.8000000000001 504.4,578.8000000000001 505.2,572.2" fill="none" stroke="#45aede" stroke-width="0.6"/>
<rect x="485.5" y="579.2" width="3" height="1.2" fill="#666" fill-opacity="0.6"/>
<line x1="460.8" y1="585.3" x2="460.8" y2="604.4" stroke="#111" stroke-width="0.9"/>
<line x1="459.5" y1="603.9" x2="461.1" y2="603.9" stroke="#111" stroke-width="0.7"/>
<text x="458.8" y="605.5" font-size="5.06" fill="#333" text-anchor="end" stroke="#333" stroke-width="0.003">0</text>
<line x1="459.5" y1="598.3666666666667" x2="461.1" y2="598.3666666666667" stroke="#111" stroke-width="0.7"/>
<text x="458.8" y="599.9666666666667" font-size="5.06" fill="#333" text-anchor="end" stroke="#333" stroke-width="0.003">100</text>
<line x1="459.5" y1="592.8333333333333" x2="461.1" y2="592.8333333333333" stroke="#111" stroke-width="0.7"/>
<text x="458.8" y="594.4333333333333" font-size="5.06" fill="#333" text-anchor="end" stroke="#333" stroke-width="0.003">200</text>
<line x1="459.5" y1="587.3" x2="461.1" y2="587.3" stroke="#111" stroke-width="0.7"/>
<text x="458.8" y="588.9" font-size="5.06" fill="#333" text-anchor="end" stroke="#333" stroke-width="0.003">300</text>
<path d="M462.0,603.9 L462.0,590.4 L463.4,591.4 L464.7,592.1 L466.1,592.7 L467.4,592.5 L468.8,592.9 L468.8,603.9 Z" fill="#b9b9b9" stroke="none" stroke-width="0.7"/>
<path d="M505.2,603.9 L505.2,598.5 L506.5,599.4 L507.9,599.3 L509.2,600.0 L509.2,603.9 Z" fill="#b9b9b9" stroke="none" stroke-width="0.7"/>
<path d="M468.8,600.5 C469.6,587.0999999999999 469.8,586.0999999999999 473.3,586.0999999999999 L500.7,586.0999999999999 C504.2,586.0999999999999 504.4,587.0999999999999 505.2,600.5" fill="none" stroke="#7a7a7a" stroke-width="0.8"/>
<rect x="484.5" y="585.4999999999999" width="3" height="1.2" fill="#666" fill-opacity="0.6"/>
<line x1="179.4" y1="611.0" x2="226.8" y2="611.0" stroke="#666" stroke-width="0.6"/>
<line x1="226.8" y1="608.7" x2="226.8" y2="613.3" stroke="#666" stroke-width="0.9"/>
<circle cx="188.30" cy="611.00" r="0.9" fill="#666"/>
<circle cx="202.30" cy="611.00" r="0.9" fill="#666"/>
<circle cx="215.70" cy="611.00" r="0.9" fill="#666"/>
<rect x="174.2" y="608.6" width="5.200000000000017" height="4.7999999999999545" fill="#e9a03a" stroke="#777" stroke-width="0.6"/>
<line x1="260.7" y1="611.0" x2="265.7" y2="611.0" stroke="#666" stroke-width="0.6"/>
<rect x="252.3" y="608.3" width="8.399999999999977" height="5.100000000000023" fill="#cfcfcf" stroke="#777" stroke-width="0.6"/>
<rect x="265.7" y="608.3" width="26.5" height="5.100000000000023" fill="#c8355e" stroke="#a02040" stroke-width="0.6"/>
<line x1="268" y1="611.0" x2="290" y2="611.0" stroke="#e898b0" stroke-width="0.9" stroke-dasharray="1.2,1.2"/>
<rect x="292.2" y="608.3" width="9.800000000000011" height="5.100000000000023" fill="#cfcfcf" stroke="#777" stroke-width="0.6"/>
<line x1="332.6" y1="611.0" x2="366" y2="611.0" stroke="#666" stroke-width="0.6"/>
<line x1="366" y1="608.7" x2="366" y2="613.3" stroke="#666" stroke-width="0.9"/>
<circle cx="339.60" cy="611.00" r="0.9" fill="#666"/>
<circle cx="349.30" cy="611.00" r="0.9" fill="#666"/>
<circle cx="359.00" cy="611.00" r="0.9" fill="#666"/>
<rect x="328.4" y="608.6" width="4.2000000000000455" height="4.7999999999999545" fill="#e9a03a" stroke="#777" stroke-width="0.6"/>
<rect x="392.1" y="606.8" width="48.5" height="5.800000000000068" fill="#c6bce4" stroke="#7a70a8" stroke-width="0.6"/>
<line x1="394" y1="609.7" x2="439" y2="609.7" stroke="#8a80b8" stroke-width="0.4"/>
<path d="M397,608.2 L399,609.7 L397,611.2" fill="none" stroke="#6a6098" stroke-width="0.45"/>
<path d="M405,608.2 L407,609.7 L405,611.2" fill="none" stroke="#6a6098" stroke-width="0.45"/>
<path d="M413,608.2 L415,609.7 L413,611.2" fill="none" stroke="#6a6098" stroke-width="0.45"/>
<path d="M421,608.2 L423,609.7 L421,611.2" fill="none" stroke="#6a6098" stroke-width="0.45"/>
<path d="M429,608.2 L431,609.7 L429,611.2" fill="none" stroke="#6a6098" stroke-width="0.45"/>
<path d="M436,608.2 L438,609.7 L436,611.2" fill="none" stroke="#6a6098" stroke-width="0.45"/>
<line x1="468.8" y1="611.0" x2="505.2" y2="611.0" stroke="#666" stroke-width="0.6"/>
<circle cx="472.90" cy="611.00" r="0.9" fill="#666"/>
<circle cx="482.30" cy="611.00" r="0.9" fill="#666"/>
<circle cx="491.70" cy="611.00" r="0.9" fill="#666"/>
<circle cx="499.80" cy="611.00" r="0.9" fill="#666"/>
<rect x="462" y="608.1" width="6.800000000000011" height="5.5" fill="#d8d8d8" stroke="#777" stroke-width="0.6"/>
<rect x="464.5" y="608.5" width="4" height="4.8" fill="#e9a03a"/>
<rect x="505.2" y="608.1" width="4.0" height="5.5" fill="#d8d8d8" stroke="#777" stroke-width="0.6"/>
<text x="176.2" y="621.8" font-size="4.95" fill="#333" textLength="53.3" lengthAdjust="spacingAndGlyphs"><tspan fill="#f0a63c">A3SS:</tspan> Frameshift, <tspan fill="#d0305a">STOP</tspan></text>
<text x="254.5" y="621.8" font-size="4.95" fill="#333" textLength="48.8" lengthAdjust="spacingAndGlyphs"><tspan fill="#f0a63c">A5SS:</tspan> In-frame, <tspan fill="#d0305a">STOP</tspan></text>
<text x="321.4" y="621.8" font-size="4.95" fill="#333" textLength="53" lengthAdjust="spacingAndGlyphs"><tspan fill="#f0a63c">A3SS:</tspan> Frameshift, <tspan fill="#d0305a">STOP</tspan></text>
<text x="403" y="621.8" font-size="4.95" fill="#333" textLength="35" lengthAdjust="spacingAndGlyphs">RI: In-frame, <tspan fill="#d0305a">STOP</tspan></text>
<text x="459.4" y="621.8" font-size="4.95" fill="#333" textLength="53.1" lengthAdjust="spacingAndGlyphs"><tspan fill="#f0a63c">A5SS:</tspan> 5′ UTR, <tspan fill="#d0305a">MET loss</tspan></text>
<line x1="174.8" y1="629" x2="367.5" y2="629" stroke="#5a5a5a" stroke-width="1.2"/>
<line x1="393.5" y1="629" x2="509.2" y2="629" stroke="#5a5a5a" stroke-width="1.2"/>
<text x="191" y="642.4" font-size="8.03" fill="#222" textLength="159.7" lengthAdjust="spacingAndGlyphs" stroke="#222" stroke-width="0.136">mRNA splicing cryptic events (<tspan fill="#f0a63c" stroke="#f0a63c" stroke-width="0.136">N626D</tspan>-biased)</text>
<text x="398.8" y="642.4" font-size="7.92" fill="#222" textLength="105.6" lengthAdjust="spacingAndGlyphs" stroke="#222" stroke-width="0.131"><tspan fill="#3aaee0" stroke="#3aaee0" stroke-width="0.131">K666N</tspan>-biased event examples</text>
<rect x="0.5" y="0.5" width="519" height="649" fill="none" stroke="#4a4a4a" stroke-width="1.2"/>
</svg></body></html>
